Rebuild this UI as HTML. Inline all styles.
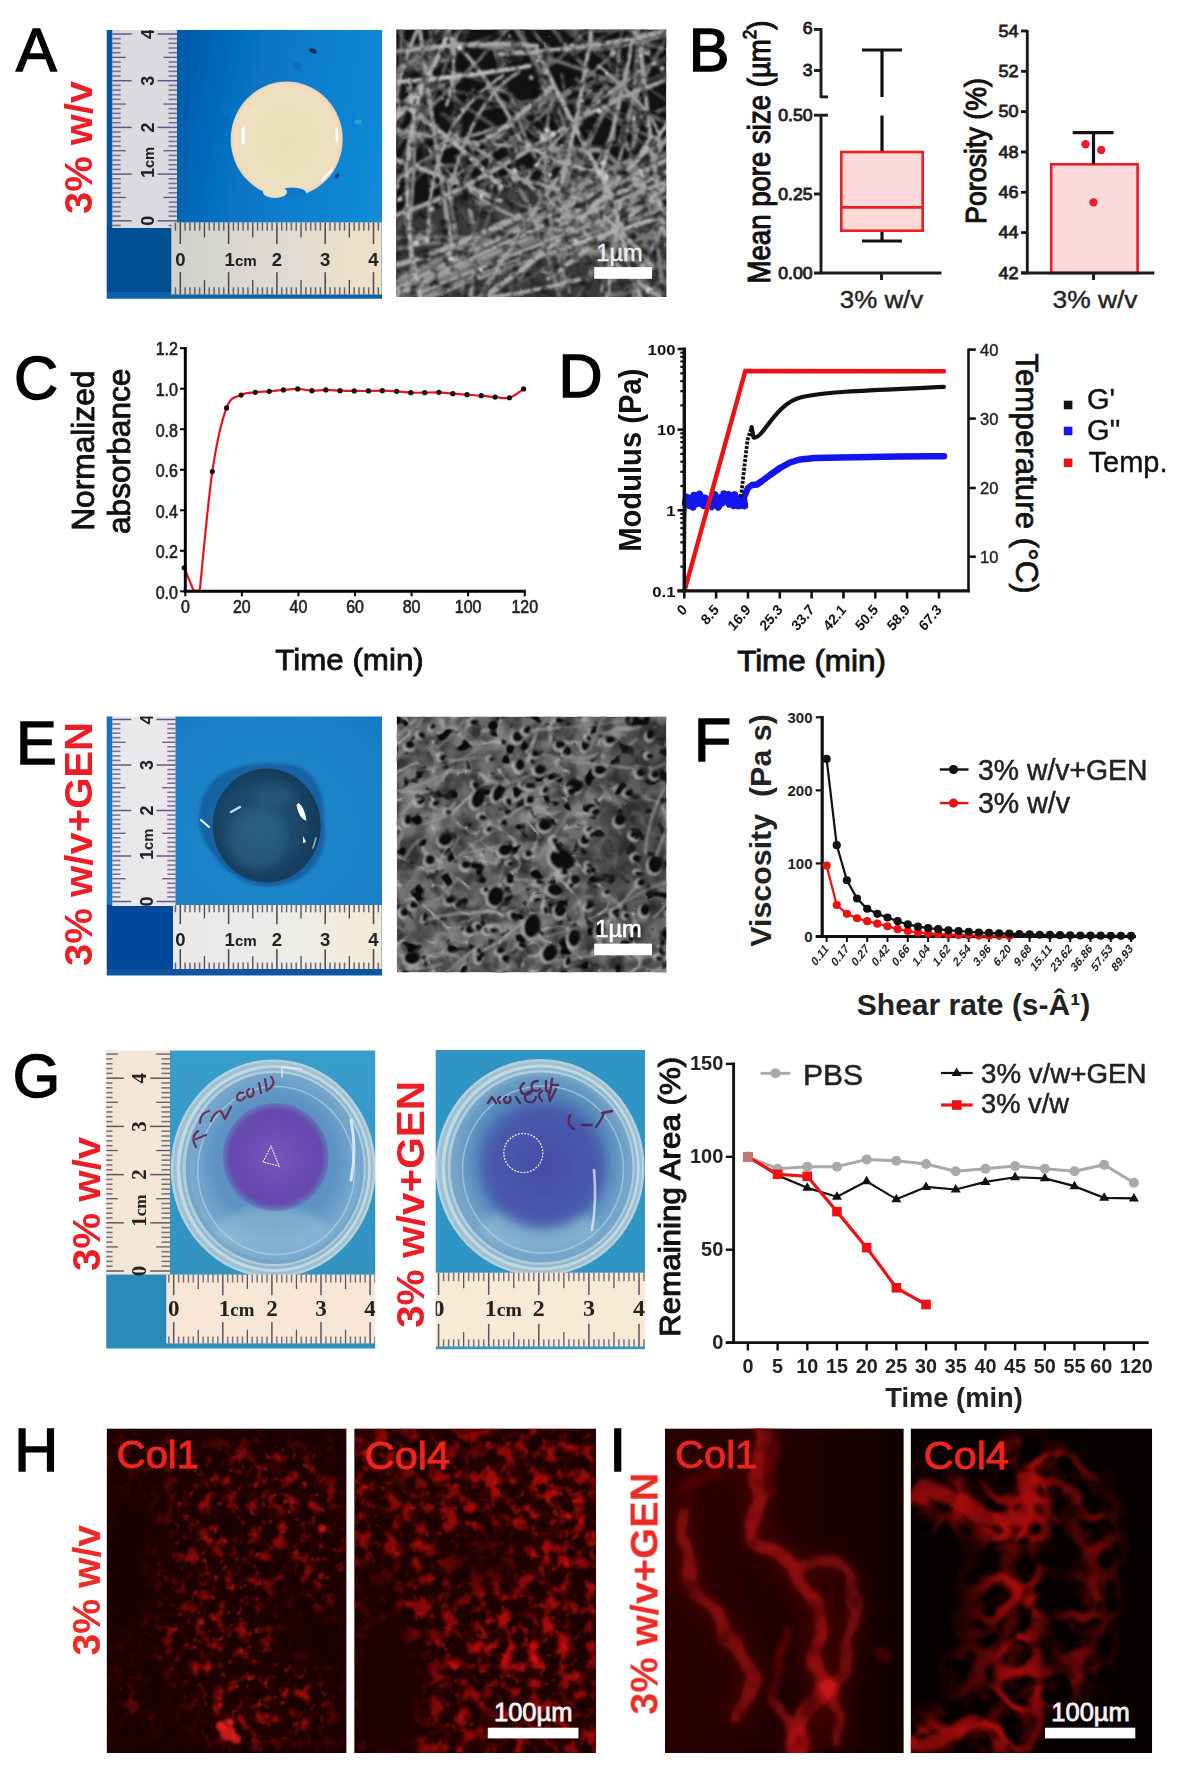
<!DOCTYPE html>
<html><head><meta charset="utf-8"><title>Figure</title>
<style>
html,body{margin:0;padding:0;background:#fff;}
body{width:1181px;height:1769px;overflow:hidden;}
svg{display:block;font-family:"Liberation Sans",sans-serif;}
</style></head><body>
<svg width="1181" height="1769" viewBox="0 0 1181 1769">
<defs>
<clipPath id="cpA"><rect x="106.7" y="30" width="275.3" height="268.7"/></clipPath>
<linearGradient id="gA" x1="0.22" y1="0.3" x2="1" y2="0.45"><stop offset="0" stop-color="#045aa8"/><stop offset="0.3" stop-color="#0670c0"/><stop offset="0.65" stop-color="#0a80d0"/><stop offset="1" stop-color="#128ad6"/></linearGradient>
<radialGradient id="gGel" cx="0.5" cy="0.5" r="0.5"><stop offset="0" stop-color="#e6dfb6"/><stop offset="0.75" stop-color="#ece2bf"/><stop offset="0.94" stop-color="#f2dcc0"/><stop offset="1" stop-color="#e9d3b3"/></radialGradient>
<linearGradient id="gRulA" x1="0" x2="1" y1="0" y2="0"><stop offset="0" stop-color="#d2d0cb"/><stop offset="0.5" stop-color="#dedbd4"/><stop offset="1" stop-color="#efe0c4"/></linearGradient>
<filter id="b1" x="-10%" y="-10%" width="120%" height="120%"><feGaussianBlur stdDeviation="0.7"/></filter>
<filter id="b2" x="-10%" y="-10%" width="120%" height="120%"><feGaussianBlur stdDeviation="1.6"/></filter>
<filter id="b4" x="-20%" y="-20%" width="140%" height="140%"><feGaussianBlur stdDeviation="4"/></filter>
<clipPath id="cpE"><rect x="106.7" y="716.4" width="275.3" height="259.1"/></clipPath>
<radialGradient id="gE" cx="0.6" cy="0.45" r="0.8"><stop offset="0" stop-color="#2089cc"/><stop offset="0.6" stop-color="#1a7fc6"/><stop offset="1" stop-color="#126db6"/></radialGradient>
<radialGradient id="gBlob" cx="0.45" cy="0.5" r="0.55"><stop offset="0" stop-color="#235578"/><stop offset="0.65" stop-color="#1b4668"/><stop offset="1" stop-color="#153a58"/></radialGradient>
<linearGradient id="gRulE" x1="0" x2="1" y1="0" y2="0"><stop offset="0" stop-color="#e9e8ea"/><stop offset="0.6" stop-color="#eeece8"/><stop offset="1" stop-color="#f4ead6"/></linearGradient>
<clipPath id="cpSA"><rect x="396.2" y="29.5" width="270.1" height="267.5"/></clipPath>
<filter id="bS" x="-5%" y="-5%" width="110%" height="110%"><feGaussianBlur stdDeviation="1.1"/></filter>
<filter id="grA" x="0" y="0" width="100%" height="100%" color-interpolation-filters="sRGB"><feTurbulence type="turbulence" baseFrequency="0.022" numOctaves="2" seed="6"/><feColorMatrix type="matrix" values="0 0 0 0 0.62  0 0 0 0 0.62  0 0 0 0 0.62  -5 0 0 0 0.8"/><feGaussianBlur stdDeviation="0.6"/></filter>
<filter id="grA2" x="0" y="0" width="100%" height="100%" color-interpolation-filters="sRGB"><feTurbulence type="fractalNoise" baseFrequency="0.1" numOctaves="2" seed="3"/><feColorMatrix type="matrix" values="0 0 0 0 0.05  0 0 0 0 0.05  0 0 0 0 0.05  2.0 0 0 0 -0.92"/></filter>
<clipPath id="cpSE"><rect x="396.9" y="716.7" width="269.4" height="255.6"/></clipPath>
<filter id="nzE" x="0" y="0" width="100%" height="100%" color-interpolation-filters="sRGB"><feTurbulence type="fractalNoise" baseFrequency="0.05 0.04" numOctaves="3" seed="5"/><feColorMatrix type="matrix" values="0 0 0 0 0.43  0 0 0 0 0.43  0 0 0 0 0.43  2.6 0 0 0 -0.78"/></filter>
<filter id="nzE2" x="0" y="0" width="100%" height="100%" color-interpolation-filters="sRGB"><feTurbulence type="fractalNoise" baseFrequency="0.035 0.05" numOctaves="2" seed="23"/><feColorMatrix type="matrix" values="0 0 0 0 0.70  0 0 0 0 0.70  0 0 0 0 0.70  0 2.6 0 0 -1.2"/></filter>
<filter id="nzE3" x="0" y="0" width="100%" height="100%" color-interpolation-filters="sRGB"><feTurbulence type="turbulence" baseFrequency="0.03 0.035" numOctaves="2" seed="41"/><feColorMatrix type="matrix" values="0 0 0 0 0.7  0 0 0 0 0.7  0 0 0 0 0.7  -4.5 0 0 0 0.72"/><feGaussianBlur stdDeviation="0.7"/></filter>
<filter id="nzE4" x="0" y="0" width="100%" height="100%" color-interpolation-filters="sRGB"><feTurbulence type="fractalNoise" baseFrequency="0.07" numOctaves="2" seed="77"/><feColorMatrix type="matrix" values="0 0 0 0 0.04  0 0 0 0 0.04  0 0 0 0 0.04  7 0 0 0 -4.1"/><feGaussianBlur stdDeviation="0.6"/></filter>
<clipPath id="cpG1"><rect x="106.2" y="1050.5" width="269" height="298"/></clipPath>
<linearGradient id="gG1" x1="0" x2="0" y1="0" y2="1"><stop offset="0" stop-color="#3a9dcb"/><stop offset="1" stop-color="#2d8fbd"/></linearGradient>
<radialGradient id="gDa" cx="0.5" cy="0.46" r="0.5"><stop offset="0" stop-color="#5c93c3"/><stop offset="0.7" stop-color="#5c93c3"/><stop offset="1" stop-color="#7aabd0"/></radialGradient>
<radialGradient id="gPa" cx="0.5" cy="0.5" r="0.5"><stop offset="0" stop-color="#7556b8"/><stop offset="0.86" stop-color="#6648ae"/><stop offset="1" stop-color="#6648ae" stop-opacity="0.35"/></radialGradient>
<clipPath id="cpG2"><rect x="435.7" y="1050" width="209.3" height="299.2"/></clipPath>
<radialGradient id="gDb" cx="0.5" cy="0.46" r="0.5"><stop offset="0" stop-color="#4f82b8"/><stop offset="0.7" stop-color="#4f82b8"/><stop offset="1" stop-color="#74a6ca"/></radialGradient>
<radialGradient id="gPb" cx="0.5" cy="0.5" r="0.5"><stop offset="0" stop-color="#444ca6"/><stop offset="0.86" stop-color="#4a5aac"/><stop offset="1" stop-color="#4a5aac" stop-opacity="0.35"/></radialGradient>
<filter id="b6" x="-30%" y="-30%" width="160%" height="160%"><feGaussianBlur stdDeviation="6"/></filter>
<filter id="b10" x="-40%" y="-40%" width="180%" height="180%"><feGaussianBlur stdDeviation="11"/></filter>
<filter id="b3" x="-30%" y="-30%" width="160%" height="160%"><feGaussianBlur stdDeviation="3"/></filter>
<clipPath id="cpH1"><rect x="106.6" y="1428.4" width="240" height="324.6"/></clipPath>
<filter id="flH1" x="0" y="0" width="100%" height="100%" color-interpolation-filters="sRGB"><feTurbulence type="fractalNoise" baseFrequency="0.08" numOctaves="3" seed="4"/><feColorMatrix type="matrix" values="0 0 0 0 0.58  0 0 0 0 0.04  0 0 0 0 0.04  5 0 0 0 -2.68"/><feGaussianBlur stdDeviation="0.9"/></filter>
<filter id="flH1v" x="0" y="0" width="100%" height="100%" color-interpolation-filters="sRGB"><feTurbulence type="turbulence" baseFrequency="0.035" numOctaves="2" seed="12"/><feColorMatrix type="matrix" values="0 0 0 0 0.55  0 0 0 0 0.03  0 0 0 0 0.03  -3.6 0 0 0 0.56"/><feGaussianBlur stdDeviation="0.8"/></filter>
<filter id="flH1b" x="0" y="0" width="100%" height="100%" color-interpolation-filters="sRGB"><feTurbulence type="fractalNoise" baseFrequency="0.11" numOctaves="2" seed="9"/><feColorMatrix type="matrix" values="0 0 0 0 1  0 0 0 0 0.14  0 0 0 0 0.12  0 5 0 0 -3.1"/><feGaussianBlur stdDeviation="0.7"/></filter>
<mask id="mH1" maskUnits="userSpaceOnUse" x="106.6" y="1428.4" width="240" height="324.6"><rect x="106.6" y="1428.4" width="240" height="324.6" fill="#2c2c2c"/><g filter="url(#b10)"><ellipse cx="255" cy="1500" rx="85" ry="55" fill="#fff"/><ellipse cx="225" cy="1560" rx="60" ry="50" fill="#ddd"/><ellipse cx="215" cy="1640" rx="55" ry="45" fill="#eee"/><ellipse cx="265" cy="1705" rx="65" ry="40" fill="#fff"/><ellipse cx="320" cy="1560" rx="25" ry="50" fill="#ddd"/><ellipse cx="140" cy="1700" rx="28" ry="14" fill="#999"/><ellipse cx="150" cy="1460" rx="40" ry="25" fill="#777"/><ellipse cx="128" cy="1565" rx="30" ry="70" fill="#000"/><ellipse cx="318" cy="1640" rx="35" ry="40" fill="#0a0a0a"/><ellipse cx="150" cy="1748" rx="50" ry="18" fill="#000"/></g></mask>
<clipPath id="cpH2"><rect x="354.2" y="1428.4" width="241.8" height="324.6"/></clipPath>
<filter id="flH2" x="0" y="0" width="100%" height="100%" color-interpolation-filters="sRGB"><feTurbulence type="fractalNoise" baseFrequency="0.07" numOctaves="3" seed="14"/><feColorMatrix type="matrix" values="0 0 0 0 0.69  0 0 0 0 0.04  0 0 0 0 0.04  5 0 0 0 -2.48"/><feGaussianBlur stdDeviation="0.9"/></filter>
<filter id="flH2v" x="0" y="0" width="100%" height="100%" color-interpolation-filters="sRGB"><feTurbulence type="turbulence" baseFrequency="0.03" numOctaves="2" seed="33"/><feColorMatrix type="matrix" values="0 0 0 0 0.68  0 0 0 0 0.04  0 0 0 0 0.04  -3.6 0 0 0 0.66"/><feGaussianBlur stdDeviation="0.8"/></filter>
<filter id="flH2b" x="0" y="0" width="100%" height="100%" color-interpolation-filters="sRGB"><feTurbulence type="fractalNoise" baseFrequency="0.1" numOctaves="2" seed="31"/><feColorMatrix type="matrix" values="0 0 0 0 1  0 0 0 0 0.12  0 0 0 0 0.1  0 5 0 0 -3"/><feGaussianBlur stdDeviation="0.7"/></filter>
<mask id="mH2" maskUnits="userSpaceOnUse" x="354.2" y="1428.4" width="241.8" height="324.6"><rect x="354.2" y="1428.4" width="241.8" height="324.6" fill="#c4c4c4"/><g filter="url(#b10)"><ellipse cx="385" cy="1690" rx="40" ry="75" fill="#000"/><ellipse cx="375" cy="1590" rx="25" ry="30" fill="#222"/><ellipse cx="480" cy="1560" rx="40" ry="25" fill="#3a3a3a"/><ellipse cx="430" cy="1465" rx="30" ry="20" fill="#555"/><ellipse cx="560" cy="1520" rx="40" ry="45" fill="#fff"/><ellipse cx="520" cy="1645" rx="55" ry="40" fill="#fff"/><ellipse cx="470" cy="1490" rx="40" ry="25" fill="#eee"/></g></mask>
<clipPath id="cpI1"><rect x="664.9" y="1428.4" width="238.9" height="324.6"/></clipPath>
<linearGradient id="gI1" x1="0" x2="1" y1="0" y2="0"><stop offset="0" stop-color="#2a0000"/><stop offset="0.6" stop-color="#1e0000"/><stop offset="1" stop-color="#100000"/></linearGradient>
<filter id="dispI1" x="-10%" y="-10%" width="120%" height="120%"><feTurbulence type="fractalNoise" baseFrequency="0.035" numOctaves="2" seed="5" result="n"/><feDisplacementMap in="SourceGraphic" in2="n" scale="14" xChannelSelector="R" yChannelSelector="G"/><feGaussianBlur stdDeviation="2.6"/></filter>
<filter id="modI1" x="0" y="0" width="100%" height="100%" color-interpolation-filters="sRGB"><feTurbulence type="fractalNoise" baseFrequency="0.045" numOctaves="2" seed="17"/><feColorMatrix type="matrix" values="0 0 0 0 1  0 0 0 0 1  0 0 0 0 1  3.2 0 0 0 -0.75"/></filter>
<mask id="mI1" maskUnits="userSpaceOnUse" x="664.9" y="1428.4" width="238.9" height="324.6"><rect x="664.9" y="1428.4" width="238.9" height="324.6" fill="#7a7a7a"/><rect x="664.9" y="1428.4" width="238.9" height="324.6" filter="url(#modI1)"/></mask>
<clipPath id="cpI2"><rect x="910.6" y="1428.4" width="241.6" height="324.6"/></clipPath>
<filter id="flI2" x="0" y="0" width="100%" height="100%" color-interpolation-filters="sRGB"><feTurbulence type="turbulence" baseFrequency="0.026" numOctaves="2" seed="11"/><feColorMatrix type="matrix" values="0 0 0 0 0.64  0 0 0 0 0.04  0 0 0 0 0.04  -5 0 0 0 1.5"/><feGaussianBlur stdDeviation="1.3"/></filter>
<filter id="flI2n" x="0" y="0" width="100%" height="100%" color-interpolation-filters="sRGB"><feTurbulence type="fractalNoise" baseFrequency="0.05" numOctaves="3" seed="19"/><feColorMatrix type="matrix" values="0 0 0 0 0.6  0 0 0 0 0.03  0 0 0 0 0.03  3 0 0 0 -1.3"/><feGaussianBlur stdDeviation="1"/></filter>
<mask id="mI2" maskUnits="userSpaceOnUse" x="910.6" y="1428.4" width="241.6" height="324.6"><rect x="910.6" y="1428.4" width="241.6" height="324.6" fill="#000"/><g filter="url(#b10)"><path d="M915 1495 L960 1500 L1000 1520 L1030 1515 L1035 1480 L1020 1460" stroke="#fff" stroke-width="42" fill="none" stroke-linecap="round" stroke-linejoin="round"/><path d="M1025 1520 L1010 1560 L1020 1600 L1010 1640 L1025 1690 L1010 1735" stroke="#fff" stroke-width="52" fill="none" stroke-linecap="round" stroke-linejoin="round"/><path d="M1050 1450 L1080 1480 L1090 1530 L1100 1570 L1080 1620 L1075 1680" stroke="#bbb" stroke-width="34" fill="none" stroke-linecap="round" stroke-linejoin="round"/><path d="M915 1745 L960 1730 L990 1720" stroke="#fff" stroke-width="40" fill="none" stroke-linecap="round" stroke-linejoin="round"/><ellipse cx="975" cy="1640" rx="30" ry="60" fill="#777"/><ellipse cx="940" cy="1610" rx="32" ry="62" fill="#000"/><ellipse cx="1125" cy="1600" rx="22" ry="120" fill="#000"/></g></mask>
</defs>
<rect x="0" y="0" width="1181" height="1769" fill="#ffffff"/>
<g clip-path="url(#cpA)"><g filter="url(#b1)">
<rect x="103.7" y="27" width="281.3" height="274.7" fill="url(#gA)" />
<rect x="103.7" y="226" width="70" height="80" fill="#064f92" />
<rect x="103.7" y="292" width="281.3" height="10" fill="#0860aa" />
<rect x="112.3" y="27" width="64.7" height="201" fill="#dddadf" />
<line x1="112.3" y1="225.47" x2="120.71" y2="225.47" stroke="#54467a" stroke-width="1.6" opacity="0.72"/>
<line x1="168.59" y1="225.47" x2="177" y2="225.47" stroke="#54467a" stroke-width="1.6" opacity="0.72"/>
<line x1="112.3" y1="220.8" x2="131.71" y2="220.8" stroke="#54467a" stroke-width="1.5" opacity="0.9"/>
<line x1="157.59" y1="220.8" x2="177" y2="220.8" stroke="#54467a" stroke-width="1.5" opacity="0.9"/>
<line x1="112.3" y1="216.13" x2="120.71" y2="216.13" stroke="#54467a" stroke-width="1.6" opacity="0.72"/>
<line x1="168.59" y1="216.13" x2="177" y2="216.13" stroke="#54467a" stroke-width="1.6" opacity="0.72"/>
<line x1="112.3" y1="211.46" x2="120.71" y2="211.46" stroke="#54467a" stroke-width="1.6" opacity="0.72"/>
<line x1="168.59" y1="211.46" x2="177" y2="211.46" stroke="#54467a" stroke-width="1.6" opacity="0.72"/>
<line x1="112.3" y1="206.79" x2="120.71" y2="206.79" stroke="#54467a" stroke-width="1.6" opacity="0.72"/>
<line x1="168.59" y1="206.79" x2="177" y2="206.79" stroke="#54467a" stroke-width="1.6" opacity="0.72"/>
<line x1="112.3" y1="202.12" x2="120.71" y2="202.12" stroke="#54467a" stroke-width="1.6" opacity="0.72"/>
<line x1="168.59" y1="202.12" x2="177" y2="202.12" stroke="#54467a" stroke-width="1.6" opacity="0.72"/>
<line x1="112.3" y1="197.45" x2="125.89" y2="197.45" stroke="#54467a" stroke-width="1.3" opacity="0.9"/>
<line x1="163.41" y1="197.45" x2="177" y2="197.45" stroke="#54467a" stroke-width="1.3" opacity="0.9"/>
<line x1="112.3" y1="192.78" x2="120.71" y2="192.78" stroke="#54467a" stroke-width="1.6" opacity="0.72"/>
<line x1="168.59" y1="192.78" x2="177" y2="192.78" stroke="#54467a" stroke-width="1.6" opacity="0.72"/>
<line x1="112.3" y1="188.11" x2="120.71" y2="188.11" stroke="#54467a" stroke-width="1.6" opacity="0.72"/>
<line x1="168.59" y1="188.11" x2="177" y2="188.11" stroke="#54467a" stroke-width="1.6" opacity="0.72"/>
<line x1="112.3" y1="183.44" x2="120.71" y2="183.44" stroke="#54467a" stroke-width="1.6" opacity="0.72"/>
<line x1="168.59" y1="183.44" x2="177" y2="183.44" stroke="#54467a" stroke-width="1.6" opacity="0.72"/>
<line x1="112.3" y1="178.77" x2="120.71" y2="178.77" stroke="#54467a" stroke-width="1.6" opacity="0.72"/>
<line x1="168.59" y1="178.77" x2="177" y2="178.77" stroke="#54467a" stroke-width="1.6" opacity="0.72"/>
<line x1="112.3" y1="174.1" x2="131.71" y2="174.1" stroke="#54467a" stroke-width="1.5" opacity="0.9"/>
<line x1="157.59" y1="174.1" x2="177" y2="174.1" stroke="#54467a" stroke-width="1.5" opacity="0.9"/>
<line x1="112.3" y1="169.43" x2="120.71" y2="169.43" stroke="#54467a" stroke-width="1.6" opacity="0.72"/>
<line x1="168.59" y1="169.43" x2="177" y2="169.43" stroke="#54467a" stroke-width="1.6" opacity="0.72"/>
<line x1="112.3" y1="164.76" x2="120.71" y2="164.76" stroke="#54467a" stroke-width="1.6" opacity="0.72"/>
<line x1="168.59" y1="164.76" x2="177" y2="164.76" stroke="#54467a" stroke-width="1.6" opacity="0.72"/>
<line x1="112.3" y1="160.09" x2="120.71" y2="160.09" stroke="#54467a" stroke-width="1.6" opacity="0.72"/>
<line x1="168.59" y1="160.09" x2="177" y2="160.09" stroke="#54467a" stroke-width="1.6" opacity="0.72"/>
<line x1="112.3" y1="155.42" x2="120.71" y2="155.42" stroke="#54467a" stroke-width="1.6" opacity="0.72"/>
<line x1="168.59" y1="155.42" x2="177" y2="155.42" stroke="#54467a" stroke-width="1.6" opacity="0.72"/>
<line x1="112.3" y1="150.75" x2="125.89" y2="150.75" stroke="#54467a" stroke-width="1.3" opacity="0.9"/>
<line x1="163.41" y1="150.75" x2="177" y2="150.75" stroke="#54467a" stroke-width="1.3" opacity="0.9"/>
<line x1="112.3" y1="146.08" x2="120.71" y2="146.08" stroke="#54467a" stroke-width="1.6" opacity="0.72"/>
<line x1="168.59" y1="146.08" x2="177" y2="146.08" stroke="#54467a" stroke-width="1.6" opacity="0.72"/>
<line x1="112.3" y1="141.41" x2="120.71" y2="141.41" stroke="#54467a" stroke-width="1.6" opacity="0.72"/>
<line x1="168.59" y1="141.41" x2="177" y2="141.41" stroke="#54467a" stroke-width="1.6" opacity="0.72"/>
<line x1="112.3" y1="136.74" x2="120.71" y2="136.74" stroke="#54467a" stroke-width="1.6" opacity="0.72"/>
<line x1="168.59" y1="136.74" x2="177" y2="136.74" stroke="#54467a" stroke-width="1.6" opacity="0.72"/>
<line x1="112.3" y1="132.07" x2="120.71" y2="132.07" stroke="#54467a" stroke-width="1.6" opacity="0.72"/>
<line x1="168.59" y1="132.07" x2="177" y2="132.07" stroke="#54467a" stroke-width="1.6" opacity="0.72"/>
<line x1="112.3" y1="127.4" x2="131.71" y2="127.4" stroke="#54467a" stroke-width="1.5" opacity="0.9"/>
<line x1="157.59" y1="127.4" x2="177" y2="127.4" stroke="#54467a" stroke-width="1.5" opacity="0.9"/>
<line x1="112.3" y1="122.73" x2="120.71" y2="122.73" stroke="#54467a" stroke-width="1.6" opacity="0.72"/>
<line x1="168.59" y1="122.73" x2="177" y2="122.73" stroke="#54467a" stroke-width="1.6" opacity="0.72"/>
<line x1="112.3" y1="118.06" x2="120.71" y2="118.06" stroke="#54467a" stroke-width="1.6" opacity="0.72"/>
<line x1="168.59" y1="118.06" x2="177" y2="118.06" stroke="#54467a" stroke-width="1.6" opacity="0.72"/>
<line x1="112.3" y1="113.39" x2="120.71" y2="113.39" stroke="#54467a" stroke-width="1.6" opacity="0.72"/>
<line x1="168.59" y1="113.39" x2="177" y2="113.39" stroke="#54467a" stroke-width="1.6" opacity="0.72"/>
<line x1="112.3" y1="108.72" x2="120.71" y2="108.72" stroke="#54467a" stroke-width="1.6" opacity="0.72"/>
<line x1="168.59" y1="108.72" x2="177" y2="108.72" stroke="#54467a" stroke-width="1.6" opacity="0.72"/>
<line x1="112.3" y1="104.05" x2="125.89" y2="104.05" stroke="#54467a" stroke-width="1.3" opacity="0.9"/>
<line x1="163.41" y1="104.05" x2="177" y2="104.05" stroke="#54467a" stroke-width="1.3" opacity="0.9"/>
<line x1="112.3" y1="99.38" x2="120.71" y2="99.38" stroke="#54467a" stroke-width="1.6" opacity="0.72"/>
<line x1="168.59" y1="99.38" x2="177" y2="99.38" stroke="#54467a" stroke-width="1.6" opacity="0.72"/>
<line x1="112.3" y1="94.71" x2="120.71" y2="94.71" stroke="#54467a" stroke-width="1.6" opacity="0.72"/>
<line x1="168.59" y1="94.71" x2="177" y2="94.71" stroke="#54467a" stroke-width="1.6" opacity="0.72"/>
<line x1="112.3" y1="90.04" x2="120.71" y2="90.04" stroke="#54467a" stroke-width="1.6" opacity="0.72"/>
<line x1="168.59" y1="90.04" x2="177" y2="90.04" stroke="#54467a" stroke-width="1.6" opacity="0.72"/>
<line x1="112.3" y1="85.37" x2="120.71" y2="85.37" stroke="#54467a" stroke-width="1.6" opacity="0.72"/>
<line x1="168.59" y1="85.37" x2="177" y2="85.37" stroke="#54467a" stroke-width="1.6" opacity="0.72"/>
<line x1="112.3" y1="80.7" x2="131.71" y2="80.7" stroke="#54467a" stroke-width="1.5" opacity="0.9"/>
<line x1="157.59" y1="80.7" x2="177" y2="80.7" stroke="#54467a" stroke-width="1.5" opacity="0.9"/>
<line x1="112.3" y1="76.03" x2="120.71" y2="76.03" stroke="#54467a" stroke-width="1.6" opacity="0.72"/>
<line x1="168.59" y1="76.03" x2="177" y2="76.03" stroke="#54467a" stroke-width="1.6" opacity="0.72"/>
<line x1="112.3" y1="71.36" x2="120.71" y2="71.36" stroke="#54467a" stroke-width="1.6" opacity="0.72"/>
<line x1="168.59" y1="71.36" x2="177" y2="71.36" stroke="#54467a" stroke-width="1.6" opacity="0.72"/>
<line x1="112.3" y1="66.69" x2="120.71" y2="66.69" stroke="#54467a" stroke-width="1.6" opacity="0.72"/>
<line x1="168.59" y1="66.69" x2="177" y2="66.69" stroke="#54467a" stroke-width="1.6" opacity="0.72"/>
<line x1="112.3" y1="62.02" x2="120.71" y2="62.02" stroke="#54467a" stroke-width="1.6" opacity="0.72"/>
<line x1="168.59" y1="62.02" x2="177" y2="62.02" stroke="#54467a" stroke-width="1.6" opacity="0.72"/>
<line x1="112.3" y1="57.35" x2="125.89" y2="57.35" stroke="#54467a" stroke-width="1.3" opacity="0.9"/>
<line x1="163.41" y1="57.35" x2="177" y2="57.35" stroke="#54467a" stroke-width="1.3" opacity="0.9"/>
<line x1="112.3" y1="52.68" x2="120.71" y2="52.68" stroke="#54467a" stroke-width="1.6" opacity="0.72"/>
<line x1="168.59" y1="52.68" x2="177" y2="52.68" stroke="#54467a" stroke-width="1.6" opacity="0.72"/>
<line x1="112.3" y1="48.01" x2="120.71" y2="48.01" stroke="#54467a" stroke-width="1.6" opacity="0.72"/>
<line x1="168.59" y1="48.01" x2="177" y2="48.01" stroke="#54467a" stroke-width="1.6" opacity="0.72"/>
<line x1="112.3" y1="43.34" x2="120.71" y2="43.34" stroke="#54467a" stroke-width="1.6" opacity="0.72"/>
<line x1="168.59" y1="43.34" x2="177" y2="43.34" stroke="#54467a" stroke-width="1.6" opacity="0.72"/>
<line x1="112.3" y1="38.67" x2="120.71" y2="38.67" stroke="#54467a" stroke-width="1.6" opacity="0.72"/>
<line x1="168.59" y1="38.67" x2="177" y2="38.67" stroke="#54467a" stroke-width="1.6" opacity="0.72"/>
<line x1="112.3" y1="34" x2="131.71" y2="34" stroke="#54467a" stroke-width="1.5" opacity="0.9"/>
<line x1="157.59" y1="34" x2="177" y2="34" stroke="#54467a" stroke-width="1.5" opacity="0.9"/>
<line x1="112.3" y1="29.33" x2="120.71" y2="29.33" stroke="#54467a" stroke-width="1.6" opacity="0.72"/>
<line x1="168.59" y1="29.33" x2="177" y2="29.33" stroke="#54467a" stroke-width="1.6" opacity="0.72"/>
<text x="153.53" y="220.8" font-size="18" text-anchor="middle" font-weight="bold" fill="#202020" transform="rotate(-90 153.53 220.8)" >0</text>
<text x="153.53" y="178.1" font-size="18" text-anchor="start" font-weight="bold" fill="#202020" transform="rotate(-90 153.53 178.1)" >1<tspan font-size="14.76">cm</tspan></text>
<text x="153.53" y="127.4" font-size="18" text-anchor="middle" font-weight="bold" fill="#202020" transform="rotate(-90 153.53 127.4)" >2</text>
<text x="153.53" y="80.7" font-size="18" text-anchor="middle" font-weight="bold" fill="#202020" transform="rotate(-90 153.53 80.7)" >3</text>
<text x="153.53" y="34" font-size="18" text-anchor="middle" font-weight="bold" fill="#202020" transform="rotate(-90 153.53 34)" >4</text>
<rect x="171.3" y="222.4" width="210.3" height="72.1" fill="url(#gRulA)" />
<line x1="175.47" y1="222.4" x2="175.47" y2="230.69" stroke="#3a3444" stroke-width="1.5" opacity="0.72"/>
<line x1="175.47" y1="287.29" x2="175.47" y2="294.5" stroke="#3a3444" stroke-width="1.5" opacity="0.72"/>
<line x1="180.3" y1="222.4" x2="180.3" y2="244.03" stroke="#3a3444" stroke-width="1.5" opacity="0.9"/>
<line x1="180.3" y1="272.15" x2="180.3" y2="294.5" stroke="#3a3444" stroke-width="1.5" opacity="0.9"/>
<line x1="185.13" y1="222.4" x2="185.13" y2="230.69" stroke="#3a3444" stroke-width="1.5" opacity="0.72"/>
<line x1="185.13" y1="287.29" x2="185.13" y2="294.5" stroke="#3a3444" stroke-width="1.5" opacity="0.72"/>
<line x1="189.96" y1="222.4" x2="189.96" y2="230.69" stroke="#3a3444" stroke-width="1.5" opacity="0.72"/>
<line x1="189.96" y1="287.29" x2="189.96" y2="294.5" stroke="#3a3444" stroke-width="1.5" opacity="0.72"/>
<line x1="194.79" y1="222.4" x2="194.79" y2="230.69" stroke="#3a3444" stroke-width="1.5" opacity="0.72"/>
<line x1="194.79" y1="287.29" x2="194.79" y2="294.5" stroke="#3a3444" stroke-width="1.5" opacity="0.72"/>
<line x1="199.62" y1="222.4" x2="199.62" y2="230.69" stroke="#3a3444" stroke-width="1.5" opacity="0.72"/>
<line x1="199.62" y1="287.29" x2="199.62" y2="294.5" stroke="#3a3444" stroke-width="1.5" opacity="0.72"/>
<line x1="204.45" y1="222.4" x2="204.45" y2="237.54" stroke="#3a3444" stroke-width="1.3" opacity="0.9"/>
<line x1="204.45" y1="280.08" x2="204.45" y2="294.5" stroke="#3a3444" stroke-width="1.3" opacity="0.9"/>
<line x1="209.28" y1="222.4" x2="209.28" y2="230.69" stroke="#3a3444" stroke-width="1.5" opacity="0.72"/>
<line x1="209.28" y1="287.29" x2="209.28" y2="294.5" stroke="#3a3444" stroke-width="1.5" opacity="0.72"/>
<line x1="214.11" y1="222.4" x2="214.11" y2="230.69" stroke="#3a3444" stroke-width="1.5" opacity="0.72"/>
<line x1="214.11" y1="287.29" x2="214.11" y2="294.5" stroke="#3a3444" stroke-width="1.5" opacity="0.72"/>
<line x1="218.94" y1="222.4" x2="218.94" y2="230.69" stroke="#3a3444" stroke-width="1.5" opacity="0.72"/>
<line x1="218.94" y1="287.29" x2="218.94" y2="294.5" stroke="#3a3444" stroke-width="1.5" opacity="0.72"/>
<line x1="223.77" y1="222.4" x2="223.77" y2="230.69" stroke="#3a3444" stroke-width="1.5" opacity="0.72"/>
<line x1="223.77" y1="287.29" x2="223.77" y2="294.5" stroke="#3a3444" stroke-width="1.5" opacity="0.72"/>
<line x1="228.6" y1="222.4" x2="228.6" y2="244.03" stroke="#3a3444" stroke-width="1.5" opacity="0.9"/>
<line x1="228.6" y1="272.15" x2="228.6" y2="294.5" stroke="#3a3444" stroke-width="1.5" opacity="0.9"/>
<line x1="233.43" y1="222.4" x2="233.43" y2="230.69" stroke="#3a3444" stroke-width="1.5" opacity="0.72"/>
<line x1="233.43" y1="287.29" x2="233.43" y2="294.5" stroke="#3a3444" stroke-width="1.5" opacity="0.72"/>
<line x1="238.26" y1="222.4" x2="238.26" y2="230.69" stroke="#3a3444" stroke-width="1.5" opacity="0.72"/>
<line x1="238.26" y1="287.29" x2="238.26" y2="294.5" stroke="#3a3444" stroke-width="1.5" opacity="0.72"/>
<line x1="243.09" y1="222.4" x2="243.09" y2="230.69" stroke="#3a3444" stroke-width="1.5" opacity="0.72"/>
<line x1="243.09" y1="287.29" x2="243.09" y2="294.5" stroke="#3a3444" stroke-width="1.5" opacity="0.72"/>
<line x1="247.92" y1="222.4" x2="247.92" y2="230.69" stroke="#3a3444" stroke-width="1.5" opacity="0.72"/>
<line x1="247.92" y1="287.29" x2="247.92" y2="294.5" stroke="#3a3444" stroke-width="1.5" opacity="0.72"/>
<line x1="252.75" y1="222.4" x2="252.75" y2="237.54" stroke="#3a3444" stroke-width="1.3" opacity="0.9"/>
<line x1="252.75" y1="280.08" x2="252.75" y2="294.5" stroke="#3a3444" stroke-width="1.3" opacity="0.9"/>
<line x1="257.58" y1="222.4" x2="257.58" y2="230.69" stroke="#3a3444" stroke-width="1.5" opacity="0.72"/>
<line x1="257.58" y1="287.29" x2="257.58" y2="294.5" stroke="#3a3444" stroke-width="1.5" opacity="0.72"/>
<line x1="262.41" y1="222.4" x2="262.41" y2="230.69" stroke="#3a3444" stroke-width="1.5" opacity="0.72"/>
<line x1="262.41" y1="287.29" x2="262.41" y2="294.5" stroke="#3a3444" stroke-width="1.5" opacity="0.72"/>
<line x1="267.24" y1="222.4" x2="267.24" y2="230.69" stroke="#3a3444" stroke-width="1.5" opacity="0.72"/>
<line x1="267.24" y1="287.29" x2="267.24" y2="294.5" stroke="#3a3444" stroke-width="1.5" opacity="0.72"/>
<line x1="272.07" y1="222.4" x2="272.07" y2="230.69" stroke="#3a3444" stroke-width="1.5" opacity="0.72"/>
<line x1="272.07" y1="287.29" x2="272.07" y2="294.5" stroke="#3a3444" stroke-width="1.5" opacity="0.72"/>
<line x1="276.9" y1="222.4" x2="276.9" y2="244.03" stroke="#3a3444" stroke-width="1.5" opacity="0.9"/>
<line x1="276.9" y1="272.15" x2="276.9" y2="294.5" stroke="#3a3444" stroke-width="1.5" opacity="0.9"/>
<line x1="281.73" y1="222.4" x2="281.73" y2="230.69" stroke="#3a3444" stroke-width="1.5" opacity="0.72"/>
<line x1="281.73" y1="287.29" x2="281.73" y2="294.5" stroke="#3a3444" stroke-width="1.5" opacity="0.72"/>
<line x1="286.56" y1="222.4" x2="286.56" y2="230.69" stroke="#3a3444" stroke-width="1.5" opacity="0.72"/>
<line x1="286.56" y1="287.29" x2="286.56" y2="294.5" stroke="#3a3444" stroke-width="1.5" opacity="0.72"/>
<line x1="291.39" y1="222.4" x2="291.39" y2="230.69" stroke="#3a3444" stroke-width="1.5" opacity="0.72"/>
<line x1="291.39" y1="287.29" x2="291.39" y2="294.5" stroke="#3a3444" stroke-width="1.5" opacity="0.72"/>
<line x1="296.22" y1="222.4" x2="296.22" y2="230.69" stroke="#3a3444" stroke-width="1.5" opacity="0.72"/>
<line x1="296.22" y1="287.29" x2="296.22" y2="294.5" stroke="#3a3444" stroke-width="1.5" opacity="0.72"/>
<line x1="301.05" y1="222.4" x2="301.05" y2="237.54" stroke="#3a3444" stroke-width="1.3" opacity="0.9"/>
<line x1="301.05" y1="280.08" x2="301.05" y2="294.5" stroke="#3a3444" stroke-width="1.3" opacity="0.9"/>
<line x1="305.88" y1="222.4" x2="305.88" y2="230.69" stroke="#3a3444" stroke-width="1.5" opacity="0.72"/>
<line x1="305.88" y1="287.29" x2="305.88" y2="294.5" stroke="#3a3444" stroke-width="1.5" opacity="0.72"/>
<line x1="310.71" y1="222.4" x2="310.71" y2="230.69" stroke="#3a3444" stroke-width="1.5" opacity="0.72"/>
<line x1="310.71" y1="287.29" x2="310.71" y2="294.5" stroke="#3a3444" stroke-width="1.5" opacity="0.72"/>
<line x1="315.54" y1="222.4" x2="315.54" y2="230.69" stroke="#3a3444" stroke-width="1.5" opacity="0.72"/>
<line x1="315.54" y1="287.29" x2="315.54" y2="294.5" stroke="#3a3444" stroke-width="1.5" opacity="0.72"/>
<line x1="320.37" y1="222.4" x2="320.37" y2="230.69" stroke="#3a3444" stroke-width="1.5" opacity="0.72"/>
<line x1="320.37" y1="287.29" x2="320.37" y2="294.5" stroke="#3a3444" stroke-width="1.5" opacity="0.72"/>
<line x1="325.2" y1="222.4" x2="325.2" y2="244.03" stroke="#3a3444" stroke-width="1.5" opacity="0.9"/>
<line x1="325.2" y1="272.15" x2="325.2" y2="294.5" stroke="#3a3444" stroke-width="1.5" opacity="0.9"/>
<line x1="330.03" y1="222.4" x2="330.03" y2="230.69" stroke="#3a3444" stroke-width="1.5" opacity="0.72"/>
<line x1="330.03" y1="287.29" x2="330.03" y2="294.5" stroke="#3a3444" stroke-width="1.5" opacity="0.72"/>
<line x1="334.86" y1="222.4" x2="334.86" y2="230.69" stroke="#3a3444" stroke-width="1.5" opacity="0.72"/>
<line x1="334.86" y1="287.29" x2="334.86" y2="294.5" stroke="#3a3444" stroke-width="1.5" opacity="0.72"/>
<line x1="339.69" y1="222.4" x2="339.69" y2="230.69" stroke="#3a3444" stroke-width="1.5" opacity="0.72"/>
<line x1="339.69" y1="287.29" x2="339.69" y2="294.5" stroke="#3a3444" stroke-width="1.5" opacity="0.72"/>
<line x1="344.52" y1="222.4" x2="344.52" y2="230.69" stroke="#3a3444" stroke-width="1.5" opacity="0.72"/>
<line x1="344.52" y1="287.29" x2="344.52" y2="294.5" stroke="#3a3444" stroke-width="1.5" opacity="0.72"/>
<line x1="349.35" y1="222.4" x2="349.35" y2="237.54" stroke="#3a3444" stroke-width="1.3" opacity="0.9"/>
<line x1="349.35" y1="280.08" x2="349.35" y2="294.5" stroke="#3a3444" stroke-width="1.3" opacity="0.9"/>
<line x1="354.18" y1="222.4" x2="354.18" y2="230.69" stroke="#3a3444" stroke-width="1.5" opacity="0.72"/>
<line x1="354.18" y1="287.29" x2="354.18" y2="294.5" stroke="#3a3444" stroke-width="1.5" opacity="0.72"/>
<line x1="359.01" y1="222.4" x2="359.01" y2="230.69" stroke="#3a3444" stroke-width="1.5" opacity="0.72"/>
<line x1="359.01" y1="287.29" x2="359.01" y2="294.5" stroke="#3a3444" stroke-width="1.5" opacity="0.72"/>
<line x1="363.84" y1="222.4" x2="363.84" y2="230.69" stroke="#3a3444" stroke-width="1.5" opacity="0.72"/>
<line x1="363.84" y1="287.29" x2="363.84" y2="294.5" stroke="#3a3444" stroke-width="1.5" opacity="0.72"/>
<line x1="368.67" y1="222.4" x2="368.67" y2="230.69" stroke="#3a3444" stroke-width="1.5" opacity="0.72"/>
<line x1="368.67" y1="287.29" x2="368.67" y2="294.5" stroke="#3a3444" stroke-width="1.5" opacity="0.72"/>
<line x1="373.5" y1="222.4" x2="373.5" y2="244.03" stroke="#3a3444" stroke-width="1.5" opacity="0.9"/>
<line x1="373.5" y1="272.15" x2="373.5" y2="294.5" stroke="#3a3444" stroke-width="1.5" opacity="0.9"/>
<line x1="378.33" y1="222.4" x2="378.33" y2="230.69" stroke="#3a3444" stroke-width="1.5" opacity="0.72"/>
<line x1="378.33" y1="287.29" x2="378.33" y2="294.5" stroke="#3a3444" stroke-width="1.5" opacity="0.72"/>
<text x="180.3" y="265.5" font-size="18.5" text-anchor="middle" font-weight="bold" fill="#202020" >0</text>
<text x="224.6" y="265.5" font-size="18.5" text-anchor="start" font-weight="bold" fill="#202020" >1<tspan font-size="15.17">cm</tspan></text>
<text x="276.9" y="265.5" font-size="18.5" text-anchor="middle" font-weight="bold" fill="#202020" >2</text>
<text x="325.2" y="265.5" font-size="18.5" text-anchor="middle" font-weight="bold" fill="#202020" >3</text>
<text x="373.5" y="265.5" font-size="18.5" text-anchor="middle" font-weight="bold" fill="#202020" >4</text>
<ellipse cx="286.7" cy="139.3" rx="56" ry="57.7" fill="url(#gGel)"/>
<ellipse cx="292" cy="193" rx="14" ry="5.5" fill="#0a78c8"/>
<ellipse cx="275" cy="192" rx="12" ry="6" fill="#ece0bd"/>
<rect x="241.5" y="127" width="3.4" height="17.5" fill="#ffffff" rx="1.6" opacity="0.95"/>
<rect x="335.5" y="127" width="2.6" height="15" fill="#ffffff" rx="1.3" opacity="0.9"/>
<path d="M322 180 L332 170" fill="none" stroke="#fff" stroke-width="2.4" stroke-linecap="round" opacity="0.9"/>
<ellipse cx="313" cy="51" rx="4" ry="2.2" fill="#0b2c4e" transform="rotate(25 313 51)"/>
<ellipse cx="337" cy="176" rx="3" ry="1.8" fill="#0b3a6e" transform="rotate(-50 337 176)"/>
<ellipse cx="358" cy="122" rx="3.5" ry="2.5" fill="#4aa0c0" opacity="0.8"/>
<ellipse cx="297" cy="66" rx="5" ry="4" fill="#0a6ab0" opacity="0.7"/>
</g></g>
<g clip-path="url(#cpE)"><g filter="url(#b1)">
<rect x="103.7" y="713.4" width="281.3" height="265.1" fill="url(#gE)" />
<rect x="103.7" y="905" width="70" height="80" fill="#064a98" />
<rect x="103.7" y="969" width="281.3" height="10" fill="#0a569f" />
<rect x="112.3" y="713" width="63.2" height="193" fill="#e9e8ea" />
<line x1="112.3" y1="901.5" x2="131.26" y2="901.5" stroke="#54467a" stroke-width="1.5" opacity="0.9"/>
<line x1="156.54" y1="901.5" x2="175.5" y2="901.5" stroke="#54467a" stroke-width="1.5" opacity="0.9"/>
<line x1="112.3" y1="896.95" x2="120.52" y2="896.95" stroke="#54467a" stroke-width="1.6" opacity="0.72"/>
<line x1="167.28" y1="896.95" x2="175.5" y2="896.95" stroke="#54467a" stroke-width="1.6" opacity="0.72"/>
<line x1="112.3" y1="892.4" x2="120.52" y2="892.4" stroke="#54467a" stroke-width="1.6" opacity="0.72"/>
<line x1="167.28" y1="892.4" x2="175.5" y2="892.4" stroke="#54467a" stroke-width="1.6" opacity="0.72"/>
<line x1="112.3" y1="887.85" x2="120.52" y2="887.85" stroke="#54467a" stroke-width="1.6" opacity="0.72"/>
<line x1="167.28" y1="887.85" x2="175.5" y2="887.85" stroke="#54467a" stroke-width="1.6" opacity="0.72"/>
<line x1="112.3" y1="883.3" x2="120.52" y2="883.3" stroke="#54467a" stroke-width="1.6" opacity="0.72"/>
<line x1="167.28" y1="883.3" x2="175.5" y2="883.3" stroke="#54467a" stroke-width="1.6" opacity="0.72"/>
<line x1="112.3" y1="878.75" x2="125.57" y2="878.75" stroke="#54467a" stroke-width="1.3" opacity="0.9"/>
<line x1="162.23" y1="878.75" x2="175.5" y2="878.75" stroke="#54467a" stroke-width="1.3" opacity="0.9"/>
<line x1="112.3" y1="874.2" x2="120.52" y2="874.2" stroke="#54467a" stroke-width="1.6" opacity="0.72"/>
<line x1="167.28" y1="874.2" x2="175.5" y2="874.2" stroke="#54467a" stroke-width="1.6" opacity="0.72"/>
<line x1="112.3" y1="869.65" x2="120.52" y2="869.65" stroke="#54467a" stroke-width="1.6" opacity="0.72"/>
<line x1="167.28" y1="869.65" x2="175.5" y2="869.65" stroke="#54467a" stroke-width="1.6" opacity="0.72"/>
<line x1="112.3" y1="865.1" x2="120.52" y2="865.1" stroke="#54467a" stroke-width="1.6" opacity="0.72"/>
<line x1="167.28" y1="865.1" x2="175.5" y2="865.1" stroke="#54467a" stroke-width="1.6" opacity="0.72"/>
<line x1="112.3" y1="860.55" x2="120.52" y2="860.55" stroke="#54467a" stroke-width="1.6" opacity="0.72"/>
<line x1="167.28" y1="860.55" x2="175.5" y2="860.55" stroke="#54467a" stroke-width="1.6" opacity="0.72"/>
<line x1="112.3" y1="856" x2="131.26" y2="856" stroke="#54467a" stroke-width="1.5" opacity="0.9"/>
<line x1="156.54" y1="856" x2="175.5" y2="856" stroke="#54467a" stroke-width="1.5" opacity="0.9"/>
<line x1="112.3" y1="851.45" x2="120.52" y2="851.45" stroke="#54467a" stroke-width="1.6" opacity="0.72"/>
<line x1="167.28" y1="851.45" x2="175.5" y2="851.45" stroke="#54467a" stroke-width="1.6" opacity="0.72"/>
<line x1="112.3" y1="846.9" x2="120.52" y2="846.9" stroke="#54467a" stroke-width="1.6" opacity="0.72"/>
<line x1="167.28" y1="846.9" x2="175.5" y2="846.9" stroke="#54467a" stroke-width="1.6" opacity="0.72"/>
<line x1="112.3" y1="842.35" x2="120.52" y2="842.35" stroke="#54467a" stroke-width="1.6" opacity="0.72"/>
<line x1="167.28" y1="842.35" x2="175.5" y2="842.35" stroke="#54467a" stroke-width="1.6" opacity="0.72"/>
<line x1="112.3" y1="837.8" x2="120.52" y2="837.8" stroke="#54467a" stroke-width="1.6" opacity="0.72"/>
<line x1="167.28" y1="837.8" x2="175.5" y2="837.8" stroke="#54467a" stroke-width="1.6" opacity="0.72"/>
<line x1="112.3" y1="833.25" x2="125.57" y2="833.25" stroke="#54467a" stroke-width="1.3" opacity="0.9"/>
<line x1="162.23" y1="833.25" x2="175.5" y2="833.25" stroke="#54467a" stroke-width="1.3" opacity="0.9"/>
<line x1="112.3" y1="828.7" x2="120.52" y2="828.7" stroke="#54467a" stroke-width="1.6" opacity="0.72"/>
<line x1="167.28" y1="828.7" x2="175.5" y2="828.7" stroke="#54467a" stroke-width="1.6" opacity="0.72"/>
<line x1="112.3" y1="824.15" x2="120.52" y2="824.15" stroke="#54467a" stroke-width="1.6" opacity="0.72"/>
<line x1="167.28" y1="824.15" x2="175.5" y2="824.15" stroke="#54467a" stroke-width="1.6" opacity="0.72"/>
<line x1="112.3" y1="819.6" x2="120.52" y2="819.6" stroke="#54467a" stroke-width="1.6" opacity="0.72"/>
<line x1="167.28" y1="819.6" x2="175.5" y2="819.6" stroke="#54467a" stroke-width="1.6" opacity="0.72"/>
<line x1="112.3" y1="815.05" x2="120.52" y2="815.05" stroke="#54467a" stroke-width="1.6" opacity="0.72"/>
<line x1="167.28" y1="815.05" x2="175.5" y2="815.05" stroke="#54467a" stroke-width="1.6" opacity="0.72"/>
<line x1="112.3" y1="810.5" x2="131.26" y2="810.5" stroke="#54467a" stroke-width="1.5" opacity="0.9"/>
<line x1="156.54" y1="810.5" x2="175.5" y2="810.5" stroke="#54467a" stroke-width="1.5" opacity="0.9"/>
<line x1="112.3" y1="805.95" x2="120.52" y2="805.95" stroke="#54467a" stroke-width="1.6" opacity="0.72"/>
<line x1="167.28" y1="805.95" x2="175.5" y2="805.95" stroke="#54467a" stroke-width="1.6" opacity="0.72"/>
<line x1="112.3" y1="801.4" x2="120.52" y2="801.4" stroke="#54467a" stroke-width="1.6" opacity="0.72"/>
<line x1="167.28" y1="801.4" x2="175.5" y2="801.4" stroke="#54467a" stroke-width="1.6" opacity="0.72"/>
<line x1="112.3" y1="796.85" x2="120.52" y2="796.85" stroke="#54467a" stroke-width="1.6" opacity="0.72"/>
<line x1="167.28" y1="796.85" x2="175.5" y2="796.85" stroke="#54467a" stroke-width="1.6" opacity="0.72"/>
<line x1="112.3" y1="792.3" x2="120.52" y2="792.3" stroke="#54467a" stroke-width="1.6" opacity="0.72"/>
<line x1="167.28" y1="792.3" x2="175.5" y2="792.3" stroke="#54467a" stroke-width="1.6" opacity="0.72"/>
<line x1="112.3" y1="787.75" x2="125.57" y2="787.75" stroke="#54467a" stroke-width="1.3" opacity="0.9"/>
<line x1="162.23" y1="787.75" x2="175.5" y2="787.75" stroke="#54467a" stroke-width="1.3" opacity="0.9"/>
<line x1="112.3" y1="783.2" x2="120.52" y2="783.2" stroke="#54467a" stroke-width="1.6" opacity="0.72"/>
<line x1="167.28" y1="783.2" x2="175.5" y2="783.2" stroke="#54467a" stroke-width="1.6" opacity="0.72"/>
<line x1="112.3" y1="778.65" x2="120.52" y2="778.65" stroke="#54467a" stroke-width="1.6" opacity="0.72"/>
<line x1="167.28" y1="778.65" x2="175.5" y2="778.65" stroke="#54467a" stroke-width="1.6" opacity="0.72"/>
<line x1="112.3" y1="774.1" x2="120.52" y2="774.1" stroke="#54467a" stroke-width="1.6" opacity="0.72"/>
<line x1="167.28" y1="774.1" x2="175.5" y2="774.1" stroke="#54467a" stroke-width="1.6" opacity="0.72"/>
<line x1="112.3" y1="769.55" x2="120.52" y2="769.55" stroke="#54467a" stroke-width="1.6" opacity="0.72"/>
<line x1="167.28" y1="769.55" x2="175.5" y2="769.55" stroke="#54467a" stroke-width="1.6" opacity="0.72"/>
<line x1="112.3" y1="765" x2="131.26" y2="765" stroke="#54467a" stroke-width="1.5" opacity="0.9"/>
<line x1="156.54" y1="765" x2="175.5" y2="765" stroke="#54467a" stroke-width="1.5" opacity="0.9"/>
<line x1="112.3" y1="760.45" x2="120.52" y2="760.45" stroke="#54467a" stroke-width="1.6" opacity="0.72"/>
<line x1="167.28" y1="760.45" x2="175.5" y2="760.45" stroke="#54467a" stroke-width="1.6" opacity="0.72"/>
<line x1="112.3" y1="755.9" x2="120.52" y2="755.9" stroke="#54467a" stroke-width="1.6" opacity="0.72"/>
<line x1="167.28" y1="755.9" x2="175.5" y2="755.9" stroke="#54467a" stroke-width="1.6" opacity="0.72"/>
<line x1="112.3" y1="751.35" x2="120.52" y2="751.35" stroke="#54467a" stroke-width="1.6" opacity="0.72"/>
<line x1="167.28" y1="751.35" x2="175.5" y2="751.35" stroke="#54467a" stroke-width="1.6" opacity="0.72"/>
<line x1="112.3" y1="746.8" x2="120.52" y2="746.8" stroke="#54467a" stroke-width="1.6" opacity="0.72"/>
<line x1="167.28" y1="746.8" x2="175.5" y2="746.8" stroke="#54467a" stroke-width="1.6" opacity="0.72"/>
<line x1="112.3" y1="742.25" x2="125.57" y2="742.25" stroke="#54467a" stroke-width="1.3" opacity="0.9"/>
<line x1="162.23" y1="742.25" x2="175.5" y2="742.25" stroke="#54467a" stroke-width="1.3" opacity="0.9"/>
<line x1="112.3" y1="737.7" x2="120.52" y2="737.7" stroke="#54467a" stroke-width="1.6" opacity="0.72"/>
<line x1="167.28" y1="737.7" x2="175.5" y2="737.7" stroke="#54467a" stroke-width="1.6" opacity="0.72"/>
<line x1="112.3" y1="733.15" x2="120.52" y2="733.15" stroke="#54467a" stroke-width="1.6" opacity="0.72"/>
<line x1="167.28" y1="733.15" x2="175.5" y2="733.15" stroke="#54467a" stroke-width="1.6" opacity="0.72"/>
<line x1="112.3" y1="728.6" x2="120.52" y2="728.6" stroke="#54467a" stroke-width="1.6" opacity="0.72"/>
<line x1="167.28" y1="728.6" x2="175.5" y2="728.6" stroke="#54467a" stroke-width="1.6" opacity="0.72"/>
<line x1="112.3" y1="724.05" x2="120.52" y2="724.05" stroke="#54467a" stroke-width="1.6" opacity="0.72"/>
<line x1="167.28" y1="724.05" x2="175.5" y2="724.05" stroke="#54467a" stroke-width="1.6" opacity="0.72"/>
<line x1="112.3" y1="719.5" x2="131.26" y2="719.5" stroke="#54467a" stroke-width="1.5" opacity="0.9"/>
<line x1="156.54" y1="719.5" x2="175.5" y2="719.5" stroke="#54467a" stroke-width="1.5" opacity="0.9"/>
<line x1="112.3" y1="714.95" x2="120.52" y2="714.95" stroke="#54467a" stroke-width="1.6" opacity="0.72"/>
<line x1="167.28" y1="714.95" x2="175.5" y2="714.95" stroke="#54467a" stroke-width="1.6" opacity="0.72"/>
<text x="152.69" y="901.5" font-size="18" text-anchor="middle" font-weight="bold" fill="#202020" transform="rotate(-90 152.69 901.5)" >0</text>
<text x="152.69" y="860" font-size="18" text-anchor="start" font-weight="bold" fill="#202020" transform="rotate(-90 152.69 860)" >1<tspan font-size="14.76">cm</tspan></text>
<text x="152.69" y="810.5" font-size="18" text-anchor="middle" font-weight="bold" fill="#202020" transform="rotate(-90 152.69 810.5)" >2</text>
<text x="152.69" y="765" font-size="18" text-anchor="middle" font-weight="bold" fill="#202020" transform="rotate(-90 152.69 765)" >3</text>
<text x="152.69" y="719.5" font-size="18" text-anchor="middle" font-weight="bold" fill="#202020" transform="rotate(-90 152.69 719.5)" >4</text>
<rect x="173" y="905" width="208.6" height="64" fill="url(#gRulE)" />
<line x1="175.47" y1="905" x2="175.47" y2="912.36" stroke="#3a3444" stroke-width="1.5" opacity="0.72"/>
<line x1="175.47" y1="962.6" x2="175.47" y2="969" stroke="#3a3444" stroke-width="1.5" opacity="0.72"/>
<line x1="180.3" y1="905" x2="180.3" y2="924.2" stroke="#3a3444" stroke-width="1.5" opacity="0.9"/>
<line x1="180.3" y1="949.16" x2="180.3" y2="969" stroke="#3a3444" stroke-width="1.5" opacity="0.9"/>
<line x1="185.13" y1="905" x2="185.13" y2="912.36" stroke="#3a3444" stroke-width="1.5" opacity="0.72"/>
<line x1="185.13" y1="962.6" x2="185.13" y2="969" stroke="#3a3444" stroke-width="1.5" opacity="0.72"/>
<line x1="189.96" y1="905" x2="189.96" y2="912.36" stroke="#3a3444" stroke-width="1.5" opacity="0.72"/>
<line x1="189.96" y1="962.6" x2="189.96" y2="969" stroke="#3a3444" stroke-width="1.5" opacity="0.72"/>
<line x1="194.79" y1="905" x2="194.79" y2="912.36" stroke="#3a3444" stroke-width="1.5" opacity="0.72"/>
<line x1="194.79" y1="962.6" x2="194.79" y2="969" stroke="#3a3444" stroke-width="1.5" opacity="0.72"/>
<line x1="199.62" y1="905" x2="199.62" y2="912.36" stroke="#3a3444" stroke-width="1.5" opacity="0.72"/>
<line x1="199.62" y1="962.6" x2="199.62" y2="969" stroke="#3a3444" stroke-width="1.5" opacity="0.72"/>
<line x1="204.45" y1="905" x2="204.45" y2="918.44" stroke="#3a3444" stroke-width="1.3" opacity="0.9"/>
<line x1="204.45" y1="956.2" x2="204.45" y2="969" stroke="#3a3444" stroke-width="1.3" opacity="0.9"/>
<line x1="209.28" y1="905" x2="209.28" y2="912.36" stroke="#3a3444" stroke-width="1.5" opacity="0.72"/>
<line x1="209.28" y1="962.6" x2="209.28" y2="969" stroke="#3a3444" stroke-width="1.5" opacity="0.72"/>
<line x1="214.11" y1="905" x2="214.11" y2="912.36" stroke="#3a3444" stroke-width="1.5" opacity="0.72"/>
<line x1="214.11" y1="962.6" x2="214.11" y2="969" stroke="#3a3444" stroke-width="1.5" opacity="0.72"/>
<line x1="218.94" y1="905" x2="218.94" y2="912.36" stroke="#3a3444" stroke-width="1.5" opacity="0.72"/>
<line x1="218.94" y1="962.6" x2="218.94" y2="969" stroke="#3a3444" stroke-width="1.5" opacity="0.72"/>
<line x1="223.77" y1="905" x2="223.77" y2="912.36" stroke="#3a3444" stroke-width="1.5" opacity="0.72"/>
<line x1="223.77" y1="962.6" x2="223.77" y2="969" stroke="#3a3444" stroke-width="1.5" opacity="0.72"/>
<line x1="228.6" y1="905" x2="228.6" y2="924.2" stroke="#3a3444" stroke-width="1.5" opacity="0.9"/>
<line x1="228.6" y1="949.16" x2="228.6" y2="969" stroke="#3a3444" stroke-width="1.5" opacity="0.9"/>
<line x1="233.43" y1="905" x2="233.43" y2="912.36" stroke="#3a3444" stroke-width="1.5" opacity="0.72"/>
<line x1="233.43" y1="962.6" x2="233.43" y2="969" stroke="#3a3444" stroke-width="1.5" opacity="0.72"/>
<line x1="238.26" y1="905" x2="238.26" y2="912.36" stroke="#3a3444" stroke-width="1.5" opacity="0.72"/>
<line x1="238.26" y1="962.6" x2="238.26" y2="969" stroke="#3a3444" stroke-width="1.5" opacity="0.72"/>
<line x1="243.09" y1="905" x2="243.09" y2="912.36" stroke="#3a3444" stroke-width="1.5" opacity="0.72"/>
<line x1="243.09" y1="962.6" x2="243.09" y2="969" stroke="#3a3444" stroke-width="1.5" opacity="0.72"/>
<line x1="247.92" y1="905" x2="247.92" y2="912.36" stroke="#3a3444" stroke-width="1.5" opacity="0.72"/>
<line x1="247.92" y1="962.6" x2="247.92" y2="969" stroke="#3a3444" stroke-width="1.5" opacity="0.72"/>
<line x1="252.75" y1="905" x2="252.75" y2="918.44" stroke="#3a3444" stroke-width="1.3" opacity="0.9"/>
<line x1="252.75" y1="956.2" x2="252.75" y2="969" stroke="#3a3444" stroke-width="1.3" opacity="0.9"/>
<line x1="257.58" y1="905" x2="257.58" y2="912.36" stroke="#3a3444" stroke-width="1.5" opacity="0.72"/>
<line x1="257.58" y1="962.6" x2="257.58" y2="969" stroke="#3a3444" stroke-width="1.5" opacity="0.72"/>
<line x1="262.41" y1="905" x2="262.41" y2="912.36" stroke="#3a3444" stroke-width="1.5" opacity="0.72"/>
<line x1="262.41" y1="962.6" x2="262.41" y2="969" stroke="#3a3444" stroke-width="1.5" opacity="0.72"/>
<line x1="267.24" y1="905" x2="267.24" y2="912.36" stroke="#3a3444" stroke-width="1.5" opacity="0.72"/>
<line x1="267.24" y1="962.6" x2="267.24" y2="969" stroke="#3a3444" stroke-width="1.5" opacity="0.72"/>
<line x1="272.07" y1="905" x2="272.07" y2="912.36" stroke="#3a3444" stroke-width="1.5" opacity="0.72"/>
<line x1="272.07" y1="962.6" x2="272.07" y2="969" stroke="#3a3444" stroke-width="1.5" opacity="0.72"/>
<line x1="276.9" y1="905" x2="276.9" y2="924.2" stroke="#3a3444" stroke-width="1.5" opacity="0.9"/>
<line x1="276.9" y1="949.16" x2="276.9" y2="969" stroke="#3a3444" stroke-width="1.5" opacity="0.9"/>
<line x1="281.73" y1="905" x2="281.73" y2="912.36" stroke="#3a3444" stroke-width="1.5" opacity="0.72"/>
<line x1="281.73" y1="962.6" x2="281.73" y2="969" stroke="#3a3444" stroke-width="1.5" opacity="0.72"/>
<line x1="286.56" y1="905" x2="286.56" y2="912.36" stroke="#3a3444" stroke-width="1.5" opacity="0.72"/>
<line x1="286.56" y1="962.6" x2="286.56" y2="969" stroke="#3a3444" stroke-width="1.5" opacity="0.72"/>
<line x1="291.39" y1="905" x2="291.39" y2="912.36" stroke="#3a3444" stroke-width="1.5" opacity="0.72"/>
<line x1="291.39" y1="962.6" x2="291.39" y2="969" stroke="#3a3444" stroke-width="1.5" opacity="0.72"/>
<line x1="296.22" y1="905" x2="296.22" y2="912.36" stroke="#3a3444" stroke-width="1.5" opacity="0.72"/>
<line x1="296.22" y1="962.6" x2="296.22" y2="969" stroke="#3a3444" stroke-width="1.5" opacity="0.72"/>
<line x1="301.05" y1="905" x2="301.05" y2="918.44" stroke="#3a3444" stroke-width="1.3" opacity="0.9"/>
<line x1="301.05" y1="956.2" x2="301.05" y2="969" stroke="#3a3444" stroke-width="1.3" opacity="0.9"/>
<line x1="305.88" y1="905" x2="305.88" y2="912.36" stroke="#3a3444" stroke-width="1.5" opacity="0.72"/>
<line x1="305.88" y1="962.6" x2="305.88" y2="969" stroke="#3a3444" stroke-width="1.5" opacity="0.72"/>
<line x1="310.71" y1="905" x2="310.71" y2="912.36" stroke="#3a3444" stroke-width="1.5" opacity="0.72"/>
<line x1="310.71" y1="962.6" x2="310.71" y2="969" stroke="#3a3444" stroke-width="1.5" opacity="0.72"/>
<line x1="315.54" y1="905" x2="315.54" y2="912.36" stroke="#3a3444" stroke-width="1.5" opacity="0.72"/>
<line x1="315.54" y1="962.6" x2="315.54" y2="969" stroke="#3a3444" stroke-width="1.5" opacity="0.72"/>
<line x1="320.37" y1="905" x2="320.37" y2="912.36" stroke="#3a3444" stroke-width="1.5" opacity="0.72"/>
<line x1="320.37" y1="962.6" x2="320.37" y2="969" stroke="#3a3444" stroke-width="1.5" opacity="0.72"/>
<line x1="325.2" y1="905" x2="325.2" y2="924.2" stroke="#3a3444" stroke-width="1.5" opacity="0.9"/>
<line x1="325.2" y1="949.16" x2="325.2" y2="969" stroke="#3a3444" stroke-width="1.5" opacity="0.9"/>
<line x1="330.03" y1="905" x2="330.03" y2="912.36" stroke="#3a3444" stroke-width="1.5" opacity="0.72"/>
<line x1="330.03" y1="962.6" x2="330.03" y2="969" stroke="#3a3444" stroke-width="1.5" opacity="0.72"/>
<line x1="334.86" y1="905" x2="334.86" y2="912.36" stroke="#3a3444" stroke-width="1.5" opacity="0.72"/>
<line x1="334.86" y1="962.6" x2="334.86" y2="969" stroke="#3a3444" stroke-width="1.5" opacity="0.72"/>
<line x1="339.69" y1="905" x2="339.69" y2="912.36" stroke="#3a3444" stroke-width="1.5" opacity="0.72"/>
<line x1="339.69" y1="962.6" x2="339.69" y2="969" stroke="#3a3444" stroke-width="1.5" opacity="0.72"/>
<line x1="344.52" y1="905" x2="344.52" y2="912.36" stroke="#3a3444" stroke-width="1.5" opacity="0.72"/>
<line x1="344.52" y1="962.6" x2="344.52" y2="969" stroke="#3a3444" stroke-width="1.5" opacity="0.72"/>
<line x1="349.35" y1="905" x2="349.35" y2="918.44" stroke="#3a3444" stroke-width="1.3" opacity="0.9"/>
<line x1="349.35" y1="956.2" x2="349.35" y2="969" stroke="#3a3444" stroke-width="1.3" opacity="0.9"/>
<line x1="354.18" y1="905" x2="354.18" y2="912.36" stroke="#3a3444" stroke-width="1.5" opacity="0.72"/>
<line x1="354.18" y1="962.6" x2="354.18" y2="969" stroke="#3a3444" stroke-width="1.5" opacity="0.72"/>
<line x1="359.01" y1="905" x2="359.01" y2="912.36" stroke="#3a3444" stroke-width="1.5" opacity="0.72"/>
<line x1="359.01" y1="962.6" x2="359.01" y2="969" stroke="#3a3444" stroke-width="1.5" opacity="0.72"/>
<line x1="363.84" y1="905" x2="363.84" y2="912.36" stroke="#3a3444" stroke-width="1.5" opacity="0.72"/>
<line x1="363.84" y1="962.6" x2="363.84" y2="969" stroke="#3a3444" stroke-width="1.5" opacity="0.72"/>
<line x1="368.67" y1="905" x2="368.67" y2="912.36" stroke="#3a3444" stroke-width="1.5" opacity="0.72"/>
<line x1="368.67" y1="962.6" x2="368.67" y2="969" stroke="#3a3444" stroke-width="1.5" opacity="0.72"/>
<line x1="373.5" y1="905" x2="373.5" y2="924.2" stroke="#3a3444" stroke-width="1.5" opacity="0.9"/>
<line x1="373.5" y1="949.16" x2="373.5" y2="969" stroke="#3a3444" stroke-width="1.5" opacity="0.9"/>
<line x1="378.33" y1="905" x2="378.33" y2="912.36" stroke="#3a3444" stroke-width="1.5" opacity="0.72"/>
<line x1="378.33" y1="962.6" x2="378.33" y2="969" stroke="#3a3444" stroke-width="1.5" opacity="0.72"/>
<text x="180.3" y="945.5" font-size="18.5" text-anchor="middle" font-weight="bold" fill="#202020" >0</text>
<text x="224.6" y="945.5" font-size="18.5" text-anchor="start" font-weight="bold" fill="#202020" >1<tspan font-size="15.17">cm</tspan></text>
<text x="276.9" y="945.5" font-size="18.5" text-anchor="middle" font-weight="bold" fill="#202020" >2</text>
<text x="325.2" y="945.5" font-size="18.5" text-anchor="middle" font-weight="bold" fill="#202020" >3</text>
<text x="373.5" y="945.5" font-size="18.5" text-anchor="middle" font-weight="bold" fill="#202020" >4</text>
<path d="M200 808 C206 772 240 760 285 764 C312 764 326 790 324 822 C330 852 312 878 286 884 C262 892 232 882 216 858 C202 842 196 824 200 808 Z" fill="#1262a2" filter="url(#b2)"/>
<ellipse cx="266.7" cy="825.5" rx="54" ry="57" fill="url(#gBlob)"/>
<ellipse cx="258" cy="838" rx="30" ry="30" fill="#3a7498" opacity="0.35" filter="url(#b4)"/>
<ellipse cx="275" cy="795" rx="22" ry="12" fill="#2f6a8e" opacity="0.35" filter="url(#b4)"/>
<path d="M298.5 803 q6 4 8 18 q-8 -3 -10 -16 z" fill="#fff" stroke="none" stroke-width="1" />
<path d="M303 836 l3 6 l-3 1 z" fill="#fff" stroke="none" stroke-width="1" />
<path d="M201 820 l8 7" fill="none" stroke="#e8f4ff" stroke-width="2.2" stroke-linecap="round"/>
<path d="M231 812 l9 -5" fill="none" stroke="#d8ecf8" stroke-width="2.4" stroke-linecap="round" opacity="0.9"/>
<path d="M316 838 l-3 10" fill="none" stroke="#cfe4f2" stroke-width="1.6" stroke-linecap="round" opacity="0.7"/>
</g></g>
<g clip-path="url(#cpSA)">
<rect x="396.2" y="29.5" width="270.1" height="267.5" fill="#121212" />
<g filter="url(#bS)" stroke-linecap="round" fill="none">
<path d="M386.2 215 L676.3 150 L676.3 307 L386.2 307 Z" fill="#3c3c3c" opacity="0.9" filter="url(#b4)"/>
<path d="M595.13 163.51 Q543.93 158.02 435.93 202.14" stroke="rgb(94,94,94)" stroke-width="4.21"/>
<path d="M456.39 156.3 Q490.5 225.34 590.11 244.85" stroke="rgb(71,71,71)" stroke-width="3.99"/>
<path d="M478.27 310.25 Q389.87 347.7 281.78 332.09" stroke="rgb(72,72,72)" stroke-width="2.73"/>
<path d="M411.84 182.87 Q373.21 314.95 344.09 392.24" stroke="rgb(82,82,82)" stroke-width="3.64"/>
<path d="M617.21 92.36 Q570.1 167.28 537.92 233.99" stroke="rgb(79,79,79)" stroke-width="4.46"/>
<path d="M456.1 23.31 Q359.28 103.99 331.23 142.06" stroke="rgb(63,63,63)" stroke-width="3.4"/>
<path d="M760.91 110.8 Q622.74 160.25 530.41 141.36" stroke="rgb(62,62,62)" stroke-width="2.7"/>
<path d="M467.46 143.58 Q512.42 213.25 512.82 319.75" stroke="rgb(74,74,74)" stroke-width="2.77"/>
<path d="M512.67 280.36 Q492.55 276.11 439.3 350.11" stroke="rgb(77,77,77)" stroke-width="3.53"/>
<path d="M455.69 175.02 Q520.44 213.58 598.11 270.75" stroke="rgb(70,70,70)" stroke-width="3.39"/>
<path d="M809.33 -53.15 Q732.85 -38.78 576.71 52.46" stroke="rgb(81,81,81)" stroke-width="2.97"/>
<path d="M705.41 154.15 Q671.98 177.32 684.44 239.18" stroke="rgb(71,71,71)" stroke-width="4.15"/>
<path d="M427.95 85.55 Q436.03 86.04 521.63 107.54" stroke="rgb(77,77,77)" stroke-width="3.84"/>
<path d="M453.34 165.58 Q382.82 164.16 363.06 218.08" stroke="rgb(86,86,86)" stroke-width="4.42"/>
<path d="M547.99 21.38 Q611.88 117.22 724.32 141.04" stroke="rgb(97,97,97)" stroke-width="4.36"/>
<path d="M524.24 123.59 Q544.5 153.89 606.62 151.46" stroke="rgb(78,78,78)" stroke-width="3.11"/>
<path d="M604.39 150.39 Q608.22 193.19 671.83 239.29" stroke="rgb(66,66,66)" stroke-width="3.91"/>
<path d="M473.4 -51.93 Q535.03 16.69 665.6 99.49" stroke="rgb(63,63,63)" stroke-width="3.1"/>
<path d="M393.99 -35.13 Q370.55 123.12 369.18 218.81" stroke="rgb(67,67,67)" stroke-width="4.56"/>
<path d="M596.85 175.08 Q616.94 223.86 569.25 276.67" stroke="rgb(64,64,64)" stroke-width="3.31"/>
<path d="M483.34 -34.04 Q487.57 -4 454.91 55.01" stroke="rgb(66,66,66)" stroke-width="4.6"/>
<path d="M473.05 89.35 Q414.51 211.55 309.04 267.34" stroke="rgb(70,70,70)" stroke-width="3.3"/>
<path d="M663.64 263.97 Q621.44 300.35 521.09 325.07" stroke="rgb(63,63,63)" stroke-width="3.85"/>
<path d="M508.24 145.84 Q531.87 220.71 476.57 234.81" stroke="rgb(69,69,69)" stroke-width="4.06"/>
<path d="M514.46 163.14 Q461.13 260.24 474.38 317.31" stroke="rgb(96,96,96)" stroke-width="2.66"/>
<path d="M487.58 88.94 Q587.08 169.82 641.79 225.08" stroke="rgb(93,93,93)" stroke-width="3.57"/>
<path d="M576.51 78.66 Q635.68 152.46 747.71 161.35" stroke="rgb(95,95,95)" stroke-width="3.92"/>
<path d="M460.39 206.02 Q522.82 315.84 563.77 377.07" stroke="rgb(74,74,74)" stroke-width="4.11"/>
<path d="M337.54 -8.55 Q403.21 69.36 527.09 147.84" stroke="rgb(75,75,75)" stroke-width="4.27"/>
<path d="M710.48 222.27 Q615.39 230.13 582.25 242.58" stroke="rgb(72,72,72)" stroke-width="4.45"/>
<path d="M646.78 24.49 Q626.11 151.08 634.18 225.08" stroke="rgb(90,90,90)" stroke-width="3.16"/>
<path d="M521.12 166.09 Q528.28 192.5 612.38 277.17" stroke="rgb(98,98,98)" stroke-width="3.51"/>
<path d="M335.67 235.47 Q413.08 240.44 413.06 306.96" stroke="rgb(65,65,65)" stroke-width="2.82"/>
<path d="M524.08 166 Q518.88 207.08 561.78 252.15" stroke="rgb(74,74,74)" stroke-width="2.96"/>
<path d="M404.73 110.26 Q392.04 157.32 334.78 198.03" stroke="rgb(79,79,79)" stroke-width="4.49"/>
<path d="M429.25 270.14 Q498.36 360.56 633.52 381.77" stroke="rgb(76,76,76)" stroke-width="4.04"/>
<path d="M455.93 35.5 Q413.08 160.25 362.24 260.57" stroke="rgb(86,86,86)" stroke-width="3.61"/>
<path d="M570.11 2.07 Q654.46 137.33 703.29 221.66" stroke="rgb(68,68,68)" stroke-width="3.88"/>
<path d="M725.07 29.72 Q606.06 92.62 481.13 108.99" stroke="rgb(81,81,81)" stroke-width="3.24"/>
<path d="M644.85 237.59 Q653.95 273.48 688.33 321.95" stroke="rgb(90,90,90)" stroke-width="3.15"/>
<path d="M741.71 39.22 Q643.64 57.79 597.92 102.76" stroke="rgb(64,64,64)" stroke-width="4.18"/>
<path d="M418.03 -56.79 Q448.24 47.6 407.12 153.17" stroke="rgb(90,90,90)" stroke-width="4.5"/>
<path d="M400.13 6.13 Q405.71 73.84 389.06 137.9" stroke="rgb(97,97,97)" stroke-width="4.29"/>
<path d="M508.73 -6.5 Q535.4 72.87 593.36 209.67" stroke="rgb(75,75,75)" stroke-width="3.69"/>
<path d="M442.44 114.14 Q464.72 124.7 470.17 210.82" stroke="rgb(62,62,62)" stroke-width="4.54"/>
<path d="M610.06 77.65 Q504 104.03 463.02 183.73" stroke="rgb(93,93,93)" stroke-width="4.46"/>
<path d="M579.54 256.24 Q515.55 271.21 455.85 345.87" stroke="rgb(77,77,77)" stroke-width="3.47"/>
<path d="M630.42 226.07 Q629.03 256.79 640.52 362.8" stroke="rgb(74,74,74)" stroke-width="3.12"/>
<path d="M544.31 313.53 Q612.93 305.33 651.63 325.59" stroke="rgb(62,62,62)" stroke-width="3.31"/>
<path d="M604.65 -4.35 Q580.67 51.27 536.92 72.05" stroke="rgb(94,94,94)" stroke-width="4"/>
<path d="M702.64 -97.32 Q659.32 36.22 609.9 111.55" stroke="rgb(72,72,72)" stroke-width="3.67"/>
<path d="M450.76 -21.66 Q416.89 89.56 425.79 162.25" stroke="rgb(70,70,70)" stroke-width="4.22"/>
<path d="M596.61 0.11 Q686.44 78.51 731.73 205.79" stroke="rgb(75,75,75)" stroke-width="2.79"/>
<path d="M587.59 22.43 Q686.22 36.64 731.71 63.39" stroke="rgb(89,89,89)" stroke-width="4.18"/>
<path d="M430.66 96.66 Q413.39 120.02 384.93 166.16" stroke="rgb(74,74,74)" stroke-width="4.24"/>
<path d="M514.59 165.63 Q509.7 228.86 456.36 294.96" stroke="rgb(74,74,74)" stroke-width="2.65"/>
<path d="M697.37 175.9 Q592.5 176.69 538.1 224.85" stroke="rgb(74,74,74)" stroke-width="4.28"/>
<path d="M649.55 289.62 Q659.31 270.79 736.65 316.49" stroke="rgb(91,91,91)" stroke-width="3.38"/>
<path d="M448.84 70.51 Q534.51 90.12 565.1 160.74" stroke="rgb(64,64,64)" stroke-width="3.51"/>
<path d="M565.39 100.68 Q633.64 118.13 655.12 163.8" stroke="rgb(94,94,94)" stroke-width="2.77"/>
<path d="M763.59 251.04 Q652.08 286.61 524.63 321.49" stroke="rgb(98,98,98)" stroke-width="4.57"/>
<path d="M734.74 54.65 Q657.04 76.53 529 113.51" stroke="rgb(72,72,72)" stroke-width="4.39"/>
<path d="M737.68 154.35 Q633.18 201.83 575.59 299.74" stroke="rgb(87,87,87)" stroke-width="4.19"/>
<path d="M587.03 -11.96 Q444.36 68.11 344.54 77.03" stroke="rgb(65,65,65)" stroke-width="3.93"/>
<path d="M496.79 129.69 Q478.89 215.38 458.64 301.46" stroke="rgb(86,86,86)" stroke-width="3.03"/>
<path d="M417.42 80.04 Q424.79 109.52 393.95 177.93" stroke="rgb(68,68,68)" stroke-width="3.4"/>
<path d="M364.25 18.33 Q364.91 50.78 401.46 108.69" stroke="rgb(78,78,78)" stroke-width="3.68"/>
<path d="M546.79 147.3 Q528.18 136.12 460.04 192.75" stroke="rgb(90,90,90)" stroke-width="3.8"/>
<path d="M669.92 2.43 Q654.43 42.73 563.74 26.11" stroke="rgb(92,92,92)" stroke-width="3.68"/>
<path d="M562 74.6 Q570.95 129.43 564.25 205.78" stroke="rgb(87,87,87)" stroke-width="3.17"/>
<path d="M510.45 94.09 Q539.87 207.63 654.45 272.13" stroke="rgb(120,120,120)" stroke-width="4.05"/>
<path d="M605.11 87.56 Q597.5 92.9 545.19 179.21" stroke="rgb(122,122,122)" stroke-width="4.78"/>
<path d="M762.75 -2.35 Q655.55 46.57 593.18 49.49" stroke="rgb(132,132,132)" stroke-width="3.08"/>
<path d="M459.17 247.16 Q408.03 230.19 338.24 282.5" stroke="rgb(117,117,117)" stroke-width="4.12"/>
<path d="M420.4 50.32 Q504.32 33.78 612.85 82.08" stroke="rgb(109,109,109)" stroke-width="3.75"/>
<path d="M609.39 139.37 Q592.97 176.29 519.82 278.56" stroke="rgb(135,135,135)" stroke-width="3.52"/>
<path d="M409.46 79.29 Q419.99 144.39 408.02 234.83" stroke="rgb(134,134,134)" stroke-width="3.49"/>
<path d="M622.72 81.93 Q564.41 161.91 561.94 287.07" stroke="rgb(117,117,117)" stroke-width="4.76"/>
<path d="M613.44 280.43 Q646.84 244.72 723.52 294.17" stroke="rgb(119,119,119)" stroke-width="3.07"/>
<path d="M534.8 -1.1 Q444.22 102.44 344.53 182.38" stroke="rgb(112,112,112)" stroke-width="3.67"/>
<path d="M468.99 -34.72 Q551.37 63.74 579.36 171.69" stroke="rgb(106,106,106)" stroke-width="4.48"/>
<path d="M622.42 135.86 Q670.71 239.53 663.22 366.8" stroke="rgb(126,126,126)" stroke-width="4.18"/>
<path d="M710.55 -9.72 Q686.22 94.3 674.91 221.85" stroke="rgb(113,113,113)" stroke-width="3.17"/>
<path d="M557.73 -0.78 Q683.47 21.93 752.47 51.2" stroke="rgb(133,133,133)" stroke-width="4.48"/>
<path d="M469.52 72.18 Q368.8 124.85 269.01 129.97" stroke="rgb(121,121,121)" stroke-width="3.59"/>
<path d="M694.92 1.2 Q641.27 65.83 619.58 141.08" stroke="rgb(109,109,109)" stroke-width="4.07"/>
<path d="M601.6 149.37 Q660.32 199.42 726.56 299.65" stroke="rgb(121,121,121)" stroke-width="4.74"/>
<path d="M486.88 135.94 Q594.8 159.15 727.33 201.15" stroke="rgb(103,103,103)" stroke-width="3.7"/>
<path d="M509.83 125.43 Q401.51 147.22 351.28 242.86" stroke="rgb(138,138,138)" stroke-width="3.82"/>
<path d="M605.95 230.03 Q654.41 307.36 690.73 300.73" stroke="rgb(112,112,112)" stroke-width="4.17"/>
<path d="M649.43 -99.14 Q616.81 0.11 613.98 140.1" stroke="rgb(107,107,107)" stroke-width="3.19"/>
<path d="M497.05 -44.06 Q446.88 -17.16 442.53 60.07" stroke="rgb(129,129,129)" stroke-width="4.38"/>
<path d="M512.17 173.92 Q553.88 249.37 564.56 325.96" stroke="rgb(123,123,123)" stroke-width="3.97"/>
<path d="M688.05 208.47 Q636 258.95 520.31 254.37" stroke="rgb(124,124,124)" stroke-width="4.5"/>
<path d="M700.98 225.31 Q686.75 306.12 618.1 401.04" stroke="rgb(102,102,102)" stroke-width="3.76"/>
<path d="M498.22 239.89 Q398.34 232.29 330.69 244.62" stroke="rgb(112,112,112)" stroke-width="3.95"/>
<path d="M446.29 174.39 Q469.98 314.53 467.03 405" stroke="rgb(121,121,121)" stroke-width="3.32"/>
<path d="M421.19 22.48 Q369.91 122.53 352.36 277.01" stroke="rgb(104,104,104)" stroke-width="3.65"/>
<path d="M551.97 100.61 Q532.06 176.3 568.85 291.41" stroke="rgb(130,130,130)" stroke-width="3.31"/>
<path d="M634.9 -20.53 Q648.06 100.22 597.6 223.72" stroke="rgb(132,132,132)" stroke-width="3.72"/>
<path d="M725.62 177.4 Q672.62 190.3 637.73 254.07" stroke="rgb(116,116,116)" stroke-width="3.24"/>
<path d="M725.35 247.21 Q643.89 295.53 534.08 391.09" stroke="rgb(105,105,105)" stroke-width="3.02"/>
<path d="M613.92 53.13 Q514.64 145.66 430.52 189.24" stroke="rgb(112,112,112)" stroke-width="3.26"/>
<path d="M558.98 218.03 Q667.4 224.54 772.95 311.52" stroke="rgb(119,119,119)" stroke-width="4.03"/>
<path d="M386.2 287.42 Q530 211.03 676.3 136.36" stroke="rgb(131,131,131)" stroke-width="4.81"/>
<path d="M386.2 291.92 Q530 218.54 676.3 149.12" stroke="rgb(126,126,126)" stroke-width="3.18"/>
<path d="M386.2 294.19 Q530 222.31 676.3 155.53" stroke="rgb(163,163,163)" stroke-width="4.16"/>
<path d="M386.2 298.6 Q530 229.67 676.3 168.04" stroke="rgb(162,162,162)" stroke-width="4.03"/>
<path d="M386.2 302.02 Q530 235.37 676.3 177.72" stroke="rgb(155,155,155)" stroke-width="4.2"/>
<path d="M386.2 304.51 Q530 239.52 676.3 184.78" stroke="rgb(119,119,119)" stroke-width="4.74"/>
<path d="M386.2 307.65 Q530 244.75 676.3 193.68" stroke="rgb(161,161,161)" stroke-width="3.2"/>
<path d="M386.2 311.69 Q530 251.48 676.3 205.11" stroke="rgb(131,131,131)" stroke-width="3.08"/>
<path d="M386.2 314.24 Q530 255.74 676.3 212.36" stroke="rgb(149,149,149)" stroke-width="3.35"/>
<path d="M397 52 Q470 40 537 46" stroke="rgb(168,168,168)" stroke-width="4.6"/>
<path d="M500 54 Q590 50 666 31" stroke="rgb(168,168,168)" stroke-width="4.4"/>
<path d="M397 101 Q450 135 498 184" stroke="rgb(178,178,178)" stroke-width="4.8"/>
<path d="M473 148 Q515 120 552 87" stroke="rgb(168,168,168)" stroke-width="4.6"/>
<path d="M537 50 Q570 120 611 194" stroke="rgb(173,173,173)" stroke-width="4.4"/>
<path d="M591 33 Q580 110 562 182" stroke="rgb(168,168,168)" stroke-width="4.2"/>
<path d="M634 33 Q622 100 601 174" stroke="rgb(163,163,163)" stroke-width="4.2"/>
<path d="M397 160 Q440 175 500 200" stroke="rgb(168,168,168)" stroke-width="4.6"/>
<path d="M420 30 Q432 120 452 250" stroke="rgb(158,158,158)" stroke-width="4.2"/>
<path d="M397 215 Q470 190 560 130" stroke="rgb(163,163,163)" stroke-width="4.4"/>
<path d="M560 130 Q610 100 666 80" stroke="rgb(163,163,163)" stroke-width="4.2"/>
<path d="M480 297 Q520 230 570 160" stroke="rgb(158,158,158)" stroke-width="4.2"/>
<path d="M610 190 Q620 240 640 297" stroke="rgb(168,168,168)" stroke-width="4.2"/>
<path d="M397 265 Q450 250 520 215" stroke="rgb(168,168,168)" stroke-width="4.8"/>
<path d="M445 30 Q500 90 520 140" stroke="rgb(158,158,158)" stroke-width="4"/>
<path d="M640 40 Q650 150 666 240" stroke="rgb(158,158,158)" stroke-width="4.2"/>
<path d="M397 130 Q500 150 600 150" stroke="rgb(148,148,148)" stroke-width="3.8"/>
<path d="M560 200 Q600 260 660 297" stroke="rgb(158,158,158)" stroke-width="4"/>
<path d="M520 140 Q560 170 640 180" stroke="rgb(168,168,168)" stroke-width="4"/>
<path d="M470 210 Q480 250 470 297" stroke="rgb(148,148,148)" stroke-width="4"/>
<path d="M598.31 65.77 Q672.32 124.07 656.82 152.29" stroke="rgb(159,159,159)" stroke-width="3.12"/>
<path d="M462.67 -34.5 Q449.79 89.59 352.87 154.31" stroke="rgb(187,187,187)" stroke-width="4.18"/>
<path d="M431.19 74.54 Q354.98 152.39 348.37 181.31" stroke="rgb(176,176,176)" stroke-width="4.54"/>
<path d="M687.82 208.18 Q620.03 229.86 574.56 244.38" stroke="rgb(180,180,180)" stroke-width="3.54"/>
<path d="M518.76 72.19 Q472.97 97.12 449.39 192.32" stroke="rgb(152,152,152)" stroke-width="3.56"/>
<path d="M502.95 75.48 Q428.94 122.25 428.32 233.66" stroke="rgb(164,164,164)" stroke-width="3.17"/>
<path d="M512.52 178.57 Q591.15 186.24 653.08 267.69" stroke="rgb(169,169,169)" stroke-width="3.41"/>
<path d="M416.8 5.48 Q470.19 22.7 446.75 104.88" stroke="rgb(167,167,167)" stroke-width="3.37"/>
<path d="M421.95 85.92 Q385.52 209.32 436.31 350.59" stroke="rgb(179,179,179)" stroke-width="4.26"/>
<path d="M720.66 156.47 Q649.53 218.52 621.47 336.59" stroke="rgb(141,141,141)" stroke-width="3.55"/>
<path d="M452.92 133.72 Q543.47 189.73 575.48 225.67" stroke="rgb(158,158,158)" stroke-width="3.29"/>
<path d="M620.42 201.52 Q609.78 285.79 596.71 356.7" stroke="rgb(172,172,172)" stroke-width="3.36"/>
<path d="M738.03 199.9 Q697.05 317.97 576 413.15" stroke="rgb(176,176,176)" stroke-width="3.36"/>
<path d="M436.82 -18.21 Q373.61 123.35 383.88 197.85" stroke="rgb(161,161,161)" stroke-width="3.48"/>
<path d="M687.07 98.74 Q646.26 155 597.64 200.32" stroke="rgb(176,176,176)" stroke-width="4.01"/>
<path d="M585.52 277.9 Q431 319.99 340.27 283.96" stroke="rgb(178,178,178)" stroke-width="3.01"/>
<path d="M642.6 69.32 Q556.64 128.35 527.28 178.77" stroke="rgb(150,150,150)" stroke-width="3.14"/>
<path d="M529.62 65.79 Q362.93 94.32 261.35 76.75" stroke="rgb(182,182,182)" stroke-width="4.53"/>
<path d="M699.3 90.1 Q622.12 193.5 599.02 302.66" stroke="rgb(150,150,150)" stroke-width="3.26"/>
<path d="M417.62 134.26 Q475.26 222.09 578.96 232.22" stroke="rgb(156,156,156)" stroke-width="3.1"/>
<path d="M679.05 175.4 Q622.64 224.26 548.21 278.54" stroke="rgb(171,171,171)" stroke-width="3.74"/>
<path d="M651.53 137.46 Q602.19 214.39 482.8 297.89" stroke="rgb(171,171,171)" stroke-width="4.63"/>
<circle cx="582.65" cy="250.22" r="1.99" fill="rgb(177,177,177)"/>
<circle cx="640.71" cy="170.2" r="1.93" fill="rgb(203,203,203)"/>
<circle cx="509.74" cy="35.98" r="1.61" fill="rgb(173,173,173)"/>
<circle cx="562.64" cy="145.39" r="2.04" fill="rgb(194,194,194)"/>
<circle cx="599.28" cy="111.02" r="2.43" fill="rgb(207,207,207)"/>
<circle cx="462.2" cy="255.37" r="1.9" fill="rgb(185,185,185)"/>
<circle cx="503.36" cy="43.4" r="1.35" fill="rgb(214,214,214)"/>
<circle cx="641.98" cy="175.28" r="1.75" fill="rgb(212,212,212)"/>
<circle cx="459.91" cy="47.81" r="2.55" fill="rgb(216,216,216)"/>
<circle cx="576.01" cy="261.29" r="1.99" fill="rgb(196,196,196)"/>
<circle cx="440.53" cy="203.24" r="1.99" fill="rgb(196,196,196)"/>
<circle cx="640.21" cy="55.87" r="1.38" fill="rgb(220,220,220)"/>
<circle cx="634.47" cy="183.55" r="1.2" fill="rgb(199,199,199)"/>
<circle cx="462.09" cy="109.55" r="1.44" fill="rgb(190,190,190)"/>
<circle cx="515.25" cy="149.89" r="1.76" fill="rgb(203,203,203)"/>
<circle cx="492.49" cy="186.12" r="1.63" fill="rgb(172,172,172)"/>
<circle cx="519.06" cy="113.44" r="1.9" fill="rgb(190,190,190)"/>
<circle cx="648.46" cy="290.92" r="2.43" fill="rgb(200,200,200)"/>
<circle cx="450.95" cy="259.28" r="2.46" fill="rgb(214,214,214)"/>
<circle cx="449.01" cy="253.64" r="2.46" fill="rgb(192,192,192)"/>
<circle cx="400.53" cy="199.46" r="2.59" fill="rgb(214,214,214)"/>
<circle cx="450.76" cy="198.67" r="2.53" fill="rgb(182,182,182)"/>
<circle cx="659.89" cy="203.41" r="2.22" fill="rgb(189,189,189)"/>
<circle cx="480.74" cy="270.33" r="1.79" fill="rgb(225,225,225)"/>
<circle cx="633.61" cy="119.09" r="1.82" fill="rgb(219,219,219)"/>
<circle cx="417.54" cy="89.22" r="1.37" fill="rgb(189,189,189)"/>
<circle cx="582.88" cy="101.44" r="1.53" fill="rgb(216,216,216)"/>
<circle cx="575.71" cy="240.96" r="2.33" fill="rgb(193,193,193)"/>
<circle cx="537.84" cy="60.47" r="1.52" fill="rgb(203,203,203)"/>
<circle cx="477.48" cy="277.41" r="1.52" fill="rgb(212,212,212)"/>
<circle cx="432" cy="208.14" r="2.58" fill="rgb(199,199,199)"/>
<circle cx="515.14" cy="170.82" r="2.47" fill="rgb(203,203,203)"/>
<circle cx="398.08" cy="186.41" r="1.55" fill="rgb(204,204,204)"/>
<circle cx="613.15" cy="52.82" r="2.58" fill="rgb(188,188,188)"/>
<circle cx="447.39" cy="77.47" r="1.97" fill="rgb(216,216,216)"/>
<circle cx="446.54" cy="269.46" r="2.07" fill="rgb(172,172,172)"/>
<circle cx="643.72" cy="185.96" r="2.5" fill="rgb(170,170,170)"/>
<circle cx="531.22" cy="77.62" r="2.29" fill="rgb(205,205,205)"/>
<circle cx="641.91" cy="115.31" r="2.3" fill="rgb(200,200,200)"/>
<circle cx="535.77" cy="164.76" r="2.09" fill="rgb(224,224,224)"/>
<circle cx="661.82" cy="228.62" r="1.44" fill="rgb(204,204,204)"/>
<circle cx="606.78" cy="73.68" r="1.81" fill="rgb(208,208,208)"/>
<circle cx="576.75" cy="176.04" r="2.3" fill="rgb(186,186,186)"/>
<circle cx="609.88" cy="92.61" r="1.96" fill="rgb(201,201,201)"/>
<circle cx="626.5" cy="190.88" r="1.25" fill="rgb(186,186,186)"/>
<circle cx="557.4" cy="220.69" r="1.83" fill="rgb(206,206,206)"/>
<circle cx="634.06" cy="116.45" r="1.22" fill="rgb(208,208,208)"/>
<circle cx="530.2" cy="145.77" r="2.21" fill="rgb(198,198,198)"/>
<circle cx="627.59" cy="37.77" r="2.47" fill="rgb(177,177,177)"/>
<circle cx="549.86" cy="174.82" r="2.21" fill="rgb(220,220,220)"/>
<circle cx="564.53" cy="43.94" r="1.26" fill="rgb(197,197,197)"/>
<circle cx="481.11" cy="195.67" r="2.29" fill="rgb(203,203,203)"/>
<circle cx="602.91" cy="162.81" r="2.35" fill="rgb(211,211,211)"/>
<circle cx="442.55" cy="97.67" r="1.9" fill="rgb(180,180,180)"/>
<circle cx="574.2" cy="188.9" r="1.29" fill="rgb(199,199,199)"/>
<circle cx="507.11" cy="126.98" r="2.19" fill="rgb(183,183,183)"/>
<circle cx="654.74" cy="63.85" r="2.27" fill="rgb(218,218,218)"/>
<circle cx="662.57" cy="68.17" r="1.93" fill="rgb(199,199,199)"/>
<circle cx="662.42" cy="30.39" r="2.45" fill="rgb(196,196,196)"/>
<circle cx="434.43" cy="134.61" r="1.86" fill="rgb(189,189,189)"/>
<circle cx="648.9" cy="289.41" r="2.59" fill="rgb(213,213,213)"/>
<circle cx="602.36" cy="225.86" r="1.61" fill="rgb(184,184,184)"/>
<circle cx="428.3" cy="258.31" r="1.85" fill="rgb(196,196,196)"/>
<circle cx="648.06" cy="126.87" r="2.52" fill="rgb(191,191,191)"/>
<circle cx="645.55" cy="87.9" r="1.76" fill="rgb(180,180,180)"/>
<circle cx="571.71" cy="45.15" r="1.99" fill="rgb(191,191,191)"/>
<circle cx="642.53" cy="266.08" r="1.85" fill="rgb(181,181,181)"/>
<circle cx="502.33" cy="255.02" r="1.73" fill="rgb(194,194,194)"/>
<circle cx="409.5" cy="141.44" r="1.46" fill="rgb(185,185,185)"/>
<circle cx="544.63" cy="73.33" r="1.76" fill="rgb(183,183,183)"/>
<circle cx="547" cy="130" r="3" fill="#c8c8c8"/>
<circle cx="553" cy="134" r="3" fill="#c8c8c8"/>
<circle cx="543" cy="137" r="3" fill="#c8c8c8"/>
<circle cx="420" cy="237" r="3" fill="#c8c8c8"/>
<circle cx="426" cy="240" r="3" fill="#c8c8c8"/>
<circle cx="416" cy="243" r="3" fill="#c8c8c8"/>
<circle cx="600" cy="172" r="3" fill="#c8c8c8"/>
<circle cx="606" cy="178" r="3" fill="#c8c8c8"/>
<circle cx="500" cy="187" r="3" fill="#c8c8c8"/>
<circle cx="508" cy="184" r="3" fill="#c8c8c8"/>
<circle cx="640" cy="45" r="3" fill="#c8c8c8"/>
<circle cx="647" cy="52" r="3" fill="#c8c8c8"/>
</g>
<rect x="396.2" y="29.5" width="270.1" height="267.5" fill="#000" filter="url(#grA)" opacity="0.8"/>
<rect x="396.2" y="29.5" width="270.1" height="267.5" fill="#000" filter="url(#grA2)"/>
<rect x="594.2" y="267.1" width="57.8" height="11.7" fill="#ffffff" />
<text x="596.3" y="261.2" font-size="23.6" text-anchor="start" font-weight="normal" fill="#ececec" stroke="#ececec" stroke-width="0.5" >1µm</text>
</g>
<g clip-path="url(#cpSE)">
<rect x="396.9" y="716.7" width="269.4" height="255.6" fill="#333333" />
<rect x="396.9" y="716.7" width="269.4" height="255.6" fill="#000" filter="url(#nzE)"/>
<rect x="396.9" y="716.7" width="269.4" height="255.6" fill="#000" filter="url(#nzE2)" opacity="0.6"/>
<rect x="396.9" y="716.7" width="269.4" height="255.6" fill="#000" filter="url(#nzE3)"/>
<rect x="396.9" y="716.7" width="269.4" height="255.6" fill="#000" filter="url(#nzE4)"/>
<ellipse cx="632" cy="850" rx="38" ry="55" fill="#2c2c2c" opacity="0.55" filter="url(#b4)"/>
<ellipse cx="640" cy="760" rx="30" ry="35" fill="#2c2c2c" opacity="0.35" filter="url(#b4)"/>
<g filter="url(#bS)">
<path d="M425.29 908.03 Q449.17 892.6 457.38 877.98" stroke="rgb(138,138,138)" stroke-width="3.14" fill="none" opacity="0.7" stroke-linecap="round"/>
<path d="M440.61 860.15 Q445.21 845.86 452.1 842.93" stroke="rgb(162,162,162)" stroke-width="2.8" fill="none" opacity="0.7" stroke-linecap="round"/>
<path d="M613.82 909.4 Q647 886.61 676.48 878.73" stroke="rgb(151,151,151)" stroke-width="2.13" fill="none" opacity="0.7" stroke-linecap="round"/>
<path d="M524.48 764.39 Q534.8 739.72 537.4 728.21" stroke="rgb(134,134,134)" stroke-width="2.89" fill="none" opacity="0.7" stroke-linecap="round"/>
<path d="M389.6 773.48 Q397.16 750.47 414.73 742.28" stroke="rgb(134,134,134)" stroke-width="2.99" fill="none" opacity="0.7" stroke-linecap="round"/>
<path d="M426.17 919.99 Q467.99 909.27 494.17 912.28" stroke="rgb(162,162,162)" stroke-width="2.5" fill="none" opacity="0.7" stroke-linecap="round"/>
<path d="M534.48 820.06 Q546.03 813.72 560.47 811.69" stroke="rgb(159,159,159)" stroke-width="2.32" fill="none" opacity="0.7" stroke-linecap="round"/>
<path d="M490.92 974.94 Q495.37 974.44 510.74 967.02" stroke="rgb(130,130,130)" stroke-width="3.17" fill="none" opacity="0.7" stroke-linecap="round"/>
<path d="M380.02 749.46 Q399.41 735.53 415.31 719.79" stroke="rgb(161,161,161)" stroke-width="2.6" fill="none" opacity="0.7" stroke-linecap="round"/>
<path d="M414.11 770.68 Q449.76 767.05 477.04 749.67" stroke="rgb(147,147,147)" stroke-width="1.99" fill="none" opacity="0.7" stroke-linecap="round"/>
<path d="M421.67 953.92 Q445.28 955.47 463.03 951.39" stroke="rgb(135,135,135)" stroke-width="3.04" fill="none" opacity="0.7" stroke-linecap="round"/>
<path d="M645.42 853.38 Q647.29 818.28 664.7 788.09" stroke="rgb(162,162,162)" stroke-width="2.41" fill="none" opacity="0.7" stroke-linecap="round"/>
<path d="M552.87 960.05 Q581.46 960.4 600.28 951.98" stroke="rgb(153,153,153)" stroke-width="2.37" fill="none" opacity="0.7" stroke-linecap="round"/>
<path d="M605.44 733.24 Q618.36 728.35 639.33 726.83" stroke="rgb(151,151,151)" stroke-width="2.99" fill="none" opacity="0.7" stroke-linecap="round"/>
<path d="M542.58 754.8 Q566.82 761.39 598.98 753.29" stroke="rgb(128,128,128)" stroke-width="2.44" fill="none" opacity="0.7" stroke-linecap="round"/>
<path d="M562.45 727.58 Q599.29 725.56 623.93 720.28" stroke="rgb(134,134,134)" stroke-width="2.28" fill="none" opacity="0.7" stroke-linecap="round"/>
<path d="M530.9 939.84 Q547.69 937.32 576.02 927.74" stroke="rgb(142,142,142)" stroke-width="2.21" fill="none" opacity="0.7" stroke-linecap="round"/>
<path d="M413.01 903.18 Q436.44 900.98 448.62 896.08" stroke="rgb(140,140,140)" stroke-width="2.01" fill="none" opacity="0.7" stroke-linecap="round"/>
<path d="M500.82 973.97 Q504.52 956.73 511.52 949.53" stroke="rgb(131,131,131)" stroke-width="2.63" fill="none" opacity="0.7" stroke-linecap="round"/>
<path d="M591.66 734.71 Q609.31 732.26 625.72 735.44" stroke="rgb(144,144,144)" stroke-width="2.39" fill="none" opacity="0.7" stroke-linecap="round"/>
<path d="M436.67 760.62 Q460.18 760.81 475.45 757.68" stroke="rgb(160,160,160)" stroke-width="2.41" fill="none" opacity="0.7" stroke-linecap="round"/>
<path d="M590.51 749.49 Q596.12 732.26 605 712.88" stroke="rgb(129,129,129)" stroke-width="2.97" fill="none" opacity="0.7" stroke-linecap="round"/>
<path d="M437.99 981.72 Q457.98 960.05 481.52 944.48" stroke="rgb(140,140,140)" stroke-width="3.04" fill="none" opacity="0.7" stroke-linecap="round"/>
<path d="M449.03 864.99 Q477.11 838.26 503.73 825.6" stroke="rgb(131,131,131)" stroke-width="2.55" fill="none" opacity="0.7" stroke-linecap="round"/>
<path d="M459.27 854.83 Q479.2 850.67 509.06 842.78" stroke="rgb(160,160,160)" stroke-width="2.12" fill="none" opacity="0.7" stroke-linecap="round"/>
<path d="M436.66 747.92 Q453.56 735.42 465.61 718.87" stroke="rgb(129,129,129)" stroke-width="2.89" fill="none" opacity="0.7" stroke-linecap="round"/>
<path d="M650.97 871.15 Q659.77 846 669.5 820.43" stroke="rgb(153,153,153)" stroke-width="3" fill="none" opacity="0.7" stroke-linecap="round"/>
<path d="M408.09 730.94 Q419.12 728.15 423.61 715.21" stroke="rgb(142,142,142)" stroke-width="2.76" fill="none" opacity="0.7" stroke-linecap="round"/>
<path d="M499.14 785.32 Q526.38 779.6 540.35 768.95" stroke="rgb(165,165,165)" stroke-width="1.66" fill="none" opacity="0.7" stroke-linecap="round"/>
<path d="M431.76 822.05 Q445.49 816.18 455.17 802.05" stroke="rgb(153,153,153)" stroke-width="2.67" fill="none" opacity="0.7" stroke-linecap="round"/>
<path d="M617.34 907.22 Q626.46 897.21 639.24 883.53" stroke="rgb(156,156,156)" stroke-width="2.92" fill="none" opacity="0.7" stroke-linecap="round"/>
<path d="M639.03 966.17 Q662.53 973 674.02 972.91" stroke="rgb(144,144,144)" stroke-width="1.75" fill="none" opacity="0.7" stroke-linecap="round"/>
<path d="M429.68 863.15 Q451.86 858.07 458.58 837.29" stroke="rgb(154,154,154)" stroke-width="1.87" fill="none" opacity="0.7" stroke-linecap="round"/>
<path d="M490.64 898.77 Q509.8 897.39 536.61 881.57" stroke="rgb(137,137,137)" stroke-width="2.12" fill="none" opacity="0.7" stroke-linecap="round"/>
<path d="M438.38 933.59 Q461.21 935.79 492.41 931.96" stroke="rgb(137,137,137)" stroke-width="2.75" fill="none" opacity="0.7" stroke-linecap="round"/>
<path d="M419.44 825.5 Q441.95 819.75 459.04 808.64" stroke="rgb(142,142,142)" stroke-width="2.59" fill="none" opacity="0.7" stroke-linecap="round"/>
<path d="M404.94 968.25 Q430.52 969.23 442.18 963.66" stroke="rgb(165,165,165)" stroke-width="1.63" fill="none" opacity="0.7" stroke-linecap="round"/>
<path d="M511.09 744.71 Q539.78 733.8 552.75 708.77" stroke="rgb(140,140,140)" stroke-width="1.84" fill="none" opacity="0.7" stroke-linecap="round"/>
<path d="M649.54 768.85 Q653.14 770.01 668.43 761.83" stroke="rgb(135,135,135)" stroke-width="2.92" fill="none" opacity="0.7" stroke-linecap="round"/>
<path d="M519.52 730.9 Q535.43 730.46 559.53 727.63" stroke="rgb(160,160,160)" stroke-width="2.92" fill="none" opacity="0.7" stroke-linecap="round"/>
<path d="M539.82 858.35 Q547.68 842.65 568.97 814.16" stroke="rgb(129,129,129)" stroke-width="2.8" fill="none" opacity="0.7" stroke-linecap="round"/>
<path d="M571.25 761.48 Q602.02 764.69 631.64 768.18" stroke="rgb(163,163,163)" stroke-width="2.69" fill="none" opacity="0.7" stroke-linecap="round"/>
<path d="M561.86 756.25 Q581.08 761.97 596.24 755.21" stroke="rgb(165,165,165)" stroke-width="1.71" fill="none" opacity="0.7" stroke-linecap="round"/>
<path d="M405.03 858.26 Q412.76 842.1 425.21 836.75" stroke="rgb(142,142,142)" stroke-width="2.54" fill="none" opacity="0.7" stroke-linecap="round"/>
<path d="M461.09 922.64 Q477.95 919.06 481.01 914.24" stroke="rgb(139,139,139)" stroke-width="2.25" fill="none" opacity="0.7" stroke-linecap="round"/>
<path d="M573.06 909.35 Q578.44 895.38 592.98 896.11" stroke="rgb(139,139,139)" stroke-width="2.16" fill="none" opacity="0.7" stroke-linecap="round"/>
<path d="M512.68 878.97 Q540.02 883.1 568.06 875.58" stroke="rgb(156,156,156)" stroke-width="2.31" fill="none" opacity="0.7" stroke-linecap="round"/>
<path d="M375.13 785.02 Q402.5 794.69 428.81 791.3" stroke="rgb(164,164,164)" stroke-width="3.15" fill="none" opacity="0.7" stroke-linecap="round"/>
<path d="M491.33 985.31 Q508.62 952.21 512.68 929.56" stroke="rgb(125,125,125)" stroke-width="2.02" fill="none" opacity="0.7" stroke-linecap="round"/>
<path d="M394.85 824.45 Q403.64 811.45 412.42 801.24" stroke="rgb(159,159,159)" stroke-width="1.96" fill="none" opacity="0.7" stroke-linecap="round"/>
<path d="M509.6 803.13 Q542.11 785.63 561.5 776.45" stroke="rgb(148,148,148)" stroke-width="2.56" fill="none" opacity="0.7" stroke-linecap="round"/>
<path d="M480.66 910.1 Q498.29 895.7 502.73 866.75" stroke="rgb(126,126,126)" stroke-width="2.81" fill="none" opacity="0.7" stroke-linecap="round"/>
<path d="M652.7 917.98 Q662.44 912.18 671.44 893.74" stroke="rgb(159,159,159)" stroke-width="2.42" fill="none" opacity="0.7" stroke-linecap="round"/>
<path d="M406.41 789.05 Q434.02 780.47 453.58 767.06" stroke="rgb(156,156,156)" stroke-width="2" fill="none" opacity="0.7" stroke-linecap="round"/>
<path d="M498.46 821.8 Q518.52 808.62 527.09 804.85" stroke="rgb(159,159,159)" stroke-width="2.86" fill="none" opacity="0.7" stroke-linecap="round"/>
<ellipse cx="477.2" cy="799.8" rx="7.7" ry="11.7" fill="#b4b4b4" opacity="0.8" transform="rotate(20 478.4 798.2)"/>
<ellipse cx="478.4" cy="798.2" rx="6.5" ry="10.5" fill="#0c0c0c" transform="rotate(20 478.4 798.2)"/>
<ellipse cx="496.8" cy="794.6" rx="6.2" ry="10.2" fill="#b4b4b4" opacity="0.8" transform="rotate(20 498 793)"/>
<ellipse cx="498" cy="793" rx="5" ry="9" fill="#0c0c0c" transform="rotate(20 498 793)"/>
<ellipse cx="572.8" cy="787.6" rx="10.2" ry="8.2" fill="#b4b4b4" opacity="0.8" transform="rotate(0 574 786)"/>
<ellipse cx="574" cy="786" rx="9" ry="7" fill="#0c0c0c" transform="rotate(0 574 786)"/>
<ellipse cx="560.8" cy="861.2" rx="14.2" ry="11.2" fill="#b4b4b4" opacity="0.8" transform="rotate(30 562 859.6)"/>
<ellipse cx="562" cy="859.6" rx="13" ry="10" fill="#0c0c0c" transform="rotate(30 562 859.6)"/>
<ellipse cx="543.8" cy="826.6" rx="8.2" ry="7.2" fill="#b4b4b4" opacity="0.8" transform="rotate(0 545 825)"/>
<ellipse cx="545" cy="825" rx="7" ry="6" fill="#0c0c0c" transform="rotate(0 545 825)"/>
<ellipse cx="653.8" cy="866.1" rx="8.2" ry="10.2" fill="#b4b4b4" opacity="0.8" transform="rotate(0 655 864.5)"/>
<ellipse cx="655" cy="864.5" rx="7" ry="9" fill="#0c0c0c" transform="rotate(0 655 864.5)"/>
<ellipse cx="494.4" cy="898.1" rx="9.2" ry="11.2" fill="#b4b4b4" opacity="0.8" transform="rotate(10 495.6 896.5)"/>
<ellipse cx="495.6" cy="896.5" rx="8" ry="10" fill="#0c0c0c" transform="rotate(10 495.6 896.5)"/>
<ellipse cx="530.8" cy="927.6" rx="9.2" ry="13.2" fill="#b4b4b4" opacity="0.8" transform="rotate(10 532 926)"/>
<ellipse cx="532" cy="926" rx="8" ry="12" fill="#0c0c0c" transform="rotate(10 532 926)"/>
<ellipse cx="548.4" cy="954.6" rx="8.2" ry="10.2" fill="#b4b4b4" opacity="0.8" transform="rotate(20 549.6 953)"/>
<ellipse cx="549.6" cy="953" rx="7" ry="9" fill="#0c0c0c" transform="rotate(20 549.6 953)"/>
<ellipse cx="572.8" cy="939.6" rx="7.2" ry="10.2" fill="#b4b4b4" opacity="0.8" transform="rotate(0 574 938)"/>
<ellipse cx="574" cy="938" rx="6" ry="9" fill="#0c0c0c" transform="rotate(0 574 938)"/>
<ellipse cx="410.8" cy="959.6" rx="9.2" ry="7.7" fill="#b4b4b4" opacity="0.8" transform="rotate(0 412 958)"/>
<ellipse cx="412" cy="958" rx="8" ry="6.5" fill="#0c0c0c" transform="rotate(0 412 958)"/>
<ellipse cx="516.5" cy="738.4" rx="6.7" ry="6.7" fill="#b4b4b4" opacity="0.8" transform="rotate(0 517.7 736.8)"/>
<ellipse cx="517.7" cy="736.8" rx="5.5" ry="5.5" fill="#0c0c0c" transform="rotate(0 517.7 736.8)"/>
<ellipse cx="503.8" cy="851.6" rx="8.2" ry="7.2" fill="#b4b4b4" opacity="0.8" transform="rotate(0 505 850)"/>
<ellipse cx="505" cy="850" rx="7" ry="6" fill="#0c0c0c" transform="rotate(0 505 850)"/>
<ellipse cx="553.8" cy="891.6" rx="9.2" ry="7.2" fill="#b4b4b4" opacity="0.8" transform="rotate(20 555 890)"/>
<ellipse cx="555" cy="890" rx="8" ry="6" fill="#0c0c0c" transform="rotate(20 555 890)"/>
<ellipse cx="558.8" cy="911.6" rx="7.2" ry="8.2" fill="#b4b4b4" opacity="0.8" transform="rotate(0 560 910)"/>
<ellipse cx="560" cy="910" rx="6" ry="7" fill="#0c0c0c" transform="rotate(0 560 910)"/>
<ellipse cx="443.8" cy="841.6" rx="8.2" ry="7.2" fill="#b4b4b4" opacity="0.8" transform="rotate(0 445 840)"/>
<ellipse cx="445" cy="840" rx="7" ry="6" fill="#0c0c0c" transform="rotate(0 445 840)"/>
<ellipse cx="428.8" cy="861.6" rx="6.2" ry="6.2" fill="#b4b4b4" opacity="0.8" transform="rotate(0 430 860)"/>
<ellipse cx="430" cy="860" rx="5" ry="5" fill="#0c0c0c" transform="rotate(0 430 860)"/>
<ellipse cx="464.8" cy="866.6" rx="6.2" ry="5.2" fill="#b4b4b4" opacity="0.8" transform="rotate(0 466 865)"/>
<ellipse cx="466" cy="865" rx="5" ry="4" fill="#0c0c0c" transform="rotate(0 466 865)"/>
<ellipse cx="598.8" cy="771.6" rx="7.2" ry="6.2" fill="#b4b4b4" opacity="0.8" transform="rotate(0 600 770)"/>
<ellipse cx="600" cy="770" rx="6" ry="5" fill="#0c0c0c" transform="rotate(0 600 770)"/>
<ellipse cx="538.8" cy="771.6" rx="7.2" ry="6.2" fill="#b4b4b4" opacity="0.8" transform="rotate(0 540 770)"/>
<ellipse cx="540" cy="770" rx="6" ry="5" fill="#0c0c0c" transform="rotate(0 540 770)"/>
<ellipse cx="518.8" cy="766.6" rx="6.2" ry="7.2" fill="#b4b4b4" opacity="0.8" transform="rotate(0 520 765)"/>
<ellipse cx="520" cy="765" rx="5" ry="6" fill="#0c0c0c" transform="rotate(0 520 765)"/>
<ellipse cx="558.8" cy="746.6" rx="6.2" ry="5.2" fill="#b4b4b4" opacity="0.8" transform="rotate(0 560 745)"/>
<ellipse cx="560" cy="745" rx="5" ry="4" fill="#0c0c0c" transform="rotate(0 560 745)"/>
<ellipse cx="583.8" cy="746.6" rx="5.2" ry="7.2" fill="#b4b4b4" opacity="0.8" transform="rotate(0 585 745)"/>
<ellipse cx="585" cy="745" rx="4" ry="6" fill="#0c0c0c" transform="rotate(0 585 745)"/>
<ellipse cx="648.8" cy="736.6" rx="5.2" ry="6.2" fill="#b4b4b4" opacity="0.8" transform="rotate(0 650 735)"/>
<ellipse cx="650" cy="735" rx="4" ry="5" fill="#0c0c0c" transform="rotate(0 650 735)"/>
<ellipse cx="608.8" cy="741.6" rx="6.2" ry="5.2" fill="#b4b4b4" opacity="0.8" transform="rotate(0 610 740)"/>
<ellipse cx="610" cy="740" rx="5" ry="4" fill="#0c0c0c" transform="rotate(0 610 740)"/>
<ellipse cx="418.8" cy="801.6" rx="6.2" ry="6.2" fill="#b4b4b4" opacity="0.8" transform="rotate(0 420 800)"/>
<ellipse cx="420" cy="800" rx="5" ry="5" fill="#0c0c0c" transform="rotate(0 420 800)"/>
<ellipse cx="406.8" cy="821.6" rx="5.2" ry="6.2" fill="#b4b4b4" opacity="0.8" transform="rotate(0 408 820)"/>
<ellipse cx="408" cy="820" rx="4" ry="5" fill="#0c0c0c" transform="rotate(0 408 820)"/>
<ellipse cx="408.8" cy="746.6" rx="6.2" ry="5.2" fill="#b4b4b4" opacity="0.8" transform="rotate(0 410 745)"/>
<ellipse cx="410" cy="745" rx="5" ry="4" fill="#0c0c0c" transform="rotate(0 410 745)"/>
<ellipse cx="598.8" cy="931.6" rx="6.2" ry="9.2" fill="#b4b4b4" opacity="0.8" transform="rotate(0 600 930)"/>
<ellipse cx="600" cy="930" rx="5" ry="8" fill="#0c0c0c" transform="rotate(0 600 930)"/>
<ellipse cx="623.8" cy="946.6" rx="7.2" ry="6.2" fill="#b4b4b4" opacity="0.8" transform="rotate(0 625 945)"/>
<ellipse cx="625" cy="945" rx="6" ry="5" fill="#0c0c0c" transform="rotate(0 625 945)"/>
<ellipse cx="468.8" cy="931.6" rx="6.2" ry="5.2" fill="#b4b4b4" opacity="0.8" transform="rotate(0 470 930)"/>
<ellipse cx="470" cy="930" rx="5" ry="4" fill="#0c0c0c" transform="rotate(0 470 930)"/>
<ellipse cx="448.8" cy="901.6" rx="6.2" ry="5.2" fill="#b4b4b4" opacity="0.8" transform="rotate(0 450 900)"/>
<ellipse cx="450" cy="900" rx="5" ry="4" fill="#0c0c0c" transform="rotate(0 450 900)"/>
<ellipse cx="478.8" cy="956.6" rx="6.2" ry="5.2" fill="#b4b4b4" opacity="0.8" transform="rotate(0 480 955)"/>
<ellipse cx="480" cy="955" rx="5" ry="4" fill="#0c0c0c" transform="rotate(0 480 955)"/>
<ellipse cx="643.8" cy="911.6" rx="6.2" ry="7.2" fill="#b4b4b4" opacity="0.8" transform="rotate(0 645 910)"/>
<ellipse cx="645" cy="910" rx="5" ry="6" fill="#0c0c0c" transform="rotate(0 645 910)"/>
<ellipse cx="618.8" cy="821.6" rx="7.2" ry="7.2" fill="#b4b4b4" opacity="0.8" transform="rotate(0 620 820)"/>
<ellipse cx="620" cy="820" rx="6" ry="6" fill="#0c0c0c" transform="rotate(0 620 820)"/>
<ellipse cx="583.8" cy="841.6" rx="6.2" ry="6.2" fill="#b4b4b4" opacity="0.8" transform="rotate(0 585 840)"/>
<ellipse cx="585" cy="840" rx="5" ry="5" fill="#0c0c0c" transform="rotate(0 585 840)"/>
<ellipse cx="528.8" cy="801.6" rx="5.2" ry="5.2" fill="#b4b4b4" opacity="0.8" transform="rotate(0 530 800)"/>
<ellipse cx="530" cy="800" rx="4" ry="4" fill="#0c0c0c" transform="rotate(0 530 800)"/>
<ellipse cx="508.8" cy="881.6" rx="5.2" ry="5.2" fill="#b4b4b4" opacity="0.8" transform="rotate(0 510 880)"/>
<ellipse cx="510" cy="880" rx="4" ry="4" fill="#0c0c0c" transform="rotate(0 510 880)"/>
<ellipse cx="573.8" cy="881.6" rx="6.2" ry="6.2" fill="#b4b4b4" opacity="0.8" transform="rotate(0 575 880)"/>
<ellipse cx="575" cy="880" rx="5" ry="5" fill="#0c0c0c" transform="rotate(0 575 880)"/>
<ellipse cx="588.8" cy="906.6" rx="5.2" ry="5.2" fill="#b4b4b4" opacity="0.8" transform="rotate(0 590 905)"/>
<ellipse cx="590" cy="905" rx="4" ry="4" fill="#0c0c0c" transform="rotate(0 590 905)"/>
<ellipse cx="487.56" cy="831.32" rx="4.12" ry="3.73" fill="#b4b4b4" opacity="0.8" transform="rotate(19.71 488.76 829.72)"/>
<ellipse cx="488.76" cy="829.72" rx="2.92" ry="2.53" fill="#0c0c0c" transform="rotate(19.71 488.76 829.72)"/>
<ellipse cx="441.14" cy="757.53" rx="3.48" ry="5.27" fill="#b4b4b4" opacity="0.8" transform="rotate(78 442.34 755.93)"/>
<ellipse cx="442.34" cy="755.93" rx="2.28" ry="4.07" fill="#0c0c0c" transform="rotate(78 442.34 755.93)"/>
<ellipse cx="477.23" cy="928.41" rx="4.5" ry="4.57" fill="#b4b4b4" opacity="0.8" transform="rotate(78.29 478.43 926.81)"/>
<ellipse cx="478.43" cy="926.81" rx="3.3" ry="3.37" fill="#0c0c0c" transform="rotate(78.29 478.43 926.81)"/>
<ellipse cx="544.34" cy="911.74" rx="5.01" ry="3.47" fill="#b4b4b4" opacity="0.8" transform="rotate(82.48 545.54 910.14)"/>
<ellipse cx="545.54" cy="910.14" rx="3.81" ry="2.27" fill="#0c0c0c" transform="rotate(82.48 545.54 910.14)"/>
<ellipse cx="434.26" cy="804.94" rx="4.25" ry="4.75" fill="#b4b4b4" opacity="0.8" transform="rotate(40.31 435.46 803.34)"/>
<ellipse cx="435.46" cy="803.34" rx="3.05" ry="3.55" fill="#0c0c0c" transform="rotate(40.31 435.46 803.34)"/>
<ellipse cx="587.54" cy="739.81" rx="4.02" ry="3.65" fill="#b4b4b4" opacity="0.8" transform="rotate(59.03 588.74 738.21)"/>
<ellipse cx="588.74" cy="738.21" rx="2.82" ry="2.45" fill="#0c0c0c" transform="rotate(59.03 588.74 738.21)"/>
<ellipse cx="591.63" cy="835.9" rx="3.7" ry="5.55" fill="#b4b4b4" opacity="0.8" transform="rotate(53.58 592.83 834.3)"/>
<ellipse cx="592.83" cy="834.3" rx="2.5" ry="4.35" fill="#0c0c0c" transform="rotate(53.58 592.83 834.3)"/>
<ellipse cx="486.8" cy="932.44" rx="5.19" ry="4" fill="#b4b4b4" opacity="0.8" transform="rotate(11.69 488 930.84)"/>
<ellipse cx="488" cy="930.84" rx="3.99" ry="2.8" fill="#0c0c0c" transform="rotate(11.69 488 930.84)"/>
<ellipse cx="596.2" cy="953.85" rx="3.65" ry="4.88" fill="#b4b4b4" opacity="0.8" transform="rotate(58.14 597.4 952.25)"/>
<ellipse cx="597.4" cy="952.25" rx="2.45" ry="3.68" fill="#0c0c0c" transform="rotate(58.14 597.4 952.25)"/>
<ellipse cx="534.05" cy="755.46" rx="5.25" ry="4.59" fill="#b4b4b4" opacity="0.8" transform="rotate(2.89 535.25 753.86)"/>
<ellipse cx="535.25" cy="753.86" rx="4.05" ry="3.39" fill="#0c0c0c" transform="rotate(2.89 535.25 753.86)"/>
<ellipse cx="635.08" cy="950.44" rx="4.65" ry="3.42" fill="#b4b4b4" opacity="0.8" transform="rotate(75.85 636.28 948.84)"/>
<ellipse cx="636.28" cy="948.84" rx="3.45" ry="2.22" fill="#0c0c0c" transform="rotate(75.85 636.28 948.84)"/>
<ellipse cx="473.87" cy="787.28" rx="5.38" ry="3.55" fill="#b4b4b4" opacity="0.8" transform="rotate(68.05 475.07 785.68)"/>
<ellipse cx="475.07" cy="785.68" rx="4.18" ry="2.35" fill="#0c0c0c" transform="rotate(68.05 475.07 785.68)"/>
<ellipse cx="557.03" cy="848.82" rx="5.79" ry="3.96" fill="#b4b4b4" opacity="0.8" transform="rotate(63.4 558.23 847.22)"/>
<ellipse cx="558.23" cy="847.22" rx="4.59" ry="2.76" fill="#0c0c0c" transform="rotate(63.4 558.23 847.22)"/>
<ellipse cx="527.24" cy="855.39" rx="4.72" ry="4.44" fill="#b4b4b4" opacity="0.8" transform="rotate(1.92 528.44 853.79)"/>
<ellipse cx="528.44" cy="853.79" rx="3.52" ry="3.24" fill="#0c0c0c" transform="rotate(1.92 528.44 853.79)"/>
<ellipse cx="648.31" cy="757.61" rx="4.36" ry="4.46" fill="#b4b4b4" opacity="0.8" transform="rotate(58.31 649.51 756.01)"/>
<ellipse cx="649.51" cy="756.01" rx="3.16" ry="3.26" fill="#0c0c0c" transform="rotate(58.31 649.51 756.01)"/>
<ellipse cx="587.64" cy="867.45" rx="4.45" ry="3.96" fill="#b4b4b4" opacity="0.8" transform="rotate(76.7 588.84 865.85)"/>
<ellipse cx="588.84" cy="865.85" rx="3.25" ry="2.76" fill="#0c0c0c" transform="rotate(76.7 588.84 865.85)"/>
<ellipse cx="634.35" cy="931.17" rx="5.26" ry="5.57" fill="#b4b4b4" opacity="0.8" transform="rotate(67.42 635.55 929.57)"/>
<ellipse cx="635.55" cy="929.57" rx="4.06" ry="4.37" fill="#0c0c0c" transform="rotate(67.42 635.55 929.57)"/>
<ellipse cx="489.84" cy="760.53" rx="3.43" ry="4.05" fill="#b4b4b4" opacity="0.8" transform="rotate(62.31 491.04 758.93)"/>
<ellipse cx="491.04" cy="758.93" rx="2.23" ry="2.85" fill="#0c0c0c" transform="rotate(62.31 491.04 758.93)"/>
<ellipse cx="477.93" cy="961.12" rx="4.5" ry="3.88" fill="#b4b4b4" opacity="0.8" transform="rotate(0.93 479.13 959.52)"/>
<ellipse cx="479.13" cy="959.52" rx="3.3" ry="2.68" fill="#0c0c0c" transform="rotate(0.93 479.13 959.52)"/>
<ellipse cx="441.02" cy="760.21" rx="4.72" ry="3.8" fill="#b4b4b4" opacity="0.8" transform="rotate(57.9 442.22 758.61)"/>
<ellipse cx="442.22" cy="758.61" rx="3.52" ry="2.6" fill="#0c0c0c" transform="rotate(57.9 442.22 758.61)"/>
<ellipse cx="564" cy="752.58" rx="3.7" ry="5.08" fill="#b4b4b4" opacity="0.8" transform="rotate(18.74 565.2 750.98)"/>
<ellipse cx="565.2" cy="750.98" rx="2.5" ry="3.88" fill="#0c0c0c" transform="rotate(18.74 565.2 750.98)"/>
<ellipse cx="404.4" cy="915.41" rx="3.93" ry="4.76" fill="#b4b4b4" opacity="0.8" transform="rotate(22.03 405.6 913.81)"/>
<ellipse cx="405.6" cy="913.81" rx="2.73" ry="3.56" fill="#0c0c0c" transform="rotate(22.03 405.6 913.81)"/>
<ellipse cx="512.58" cy="917.56" rx="5.63" ry="5.08" fill="#b4b4b4" opacity="0.8" transform="rotate(73.13 513.78 915.96)"/>
<ellipse cx="513.78" cy="915.96" rx="4.43" ry="3.88" fill="#0c0c0c" transform="rotate(73.13 513.78 915.96)"/>
<ellipse cx="504.18" cy="959.89" rx="5.34" ry="5.05" fill="#b4b4b4" opacity="0.8" transform="rotate(79.6 505.38 958.29)"/>
<ellipse cx="505.38" cy="958.29" rx="4.14" ry="3.85" fill="#0c0c0c" transform="rotate(79.6 505.38 958.29)"/>
<ellipse cx="508.9" cy="865.18" rx="3.51" ry="4.37" fill="#b4b4b4" opacity="0.8" transform="rotate(72.59 510.1 863.58)"/>
<ellipse cx="510.1" cy="863.58" rx="2.31" ry="3.17" fill="#0c0c0c" transform="rotate(72.59 510.1 863.58)"/>
<ellipse cx="525.74" cy="731.7" rx="4.94" ry="5.27" fill="#b4b4b4" opacity="0.8" transform="rotate(23.12 526.94 730.1)"/>
<ellipse cx="526.94" cy="730.1" rx="3.74" ry="4.07" fill="#0c0c0c" transform="rotate(23.12 526.94 730.1)"/>
<ellipse cx="523.02" cy="787.12" rx="5.38" ry="4.09" fill="#b4b4b4" opacity="0.8" transform="rotate(33.4 524.22 785.52)"/>
<ellipse cx="524.22" cy="785.52" rx="4.18" ry="2.89" fill="#0c0c0c" transform="rotate(33.4 524.22 785.52)"/>
<ellipse cx="528.04" cy="787.69" rx="5.6" ry="4.1" fill="#b4b4b4" opacity="0.8" transform="rotate(10.39 529.24 786.09)"/>
<ellipse cx="529.24" cy="786.09" rx="4.4" ry="2.9" fill="#0c0c0c" transform="rotate(10.39 529.24 786.09)"/>
<ellipse cx="552.59" cy="842.82" rx="5.37" ry="3.73" fill="#b4b4b4" opacity="0.8" transform="rotate(64.91 553.79 841.22)"/>
<ellipse cx="553.79" cy="841.22" rx="4.17" ry="2.53" fill="#0c0c0c" transform="rotate(64.91 553.79 841.22)"/>
<ellipse cx="481.2" cy="818.98" rx="4.05" ry="5.03" fill="#b4b4b4" opacity="0.8" transform="rotate(81.59 482.4 817.38)"/>
<ellipse cx="482.4" cy="817.38" rx="2.85" ry="3.83" fill="#0c0c0c" transform="rotate(81.59 482.4 817.38)"/>
<ellipse cx="412.53" cy="906.95" rx="5.39" ry="4.63" fill="#b4b4b4" opacity="0.8" transform="rotate(9.57 413.73 905.35)"/>
<ellipse cx="413.73" cy="905.35" rx="4.19" ry="3.43" fill="#0c0c0c" transform="rotate(9.57 413.73 905.35)"/>
<ellipse cx="653.84" cy="776.27" rx="5.52" ry="5.14" fill="#b4b4b4" opacity="0.8" transform="rotate(4.21 655.04 774.67)"/>
<ellipse cx="655.04" cy="774.67" rx="4.32" ry="3.94" fill="#0c0c0c" transform="rotate(4.21 655.04 774.67)"/>
<ellipse cx="563.38" cy="872.9" rx="4.44" ry="5.25" fill="#b4b4b4" opacity="0.8" transform="rotate(1.69 564.58 871.3)"/>
<ellipse cx="564.58" cy="871.3" rx="3.24" ry="4.05" fill="#0c0c0c" transform="rotate(1.69 564.58 871.3)"/>
<ellipse cx="531.12" cy="762.59" rx="3.92" ry="3.8" fill="#b4b4b4" opacity="0.8" transform="rotate(86.73 532.32 760.99)"/>
<ellipse cx="532.32" cy="760.99" rx="2.72" ry="2.6" fill="#0c0c0c" transform="rotate(86.73 532.32 760.99)"/>
<ellipse cx="403.13" cy="913.82" rx="5.44" ry="5.71" fill="#b4b4b4" opacity="0.8" transform="rotate(22.38 404.33 912.22)"/>
<ellipse cx="404.33" cy="912.22" rx="4.24" ry="4.51" fill="#0c0c0c" transform="rotate(22.38 404.33 912.22)"/>
<ellipse cx="492.4" cy="931.75" rx="3.86" ry="5.08" fill="#b4b4b4" opacity="0.8" transform="rotate(80.91 493.6 930.15)"/>
<ellipse cx="493.6" cy="930.15" rx="2.66" ry="3.88" fill="#0c0c0c" transform="rotate(80.91 493.6 930.15)"/>
<ellipse cx="447.17" cy="813.58" rx="3.74" ry="4.28" fill="#b4b4b4" opacity="0.8" transform="rotate(81.24 448.37 811.98)"/>
<ellipse cx="448.37" cy="811.98" rx="2.54" ry="3.08" fill="#0c0c0c" transform="rotate(81.24 448.37 811.98)"/>
<ellipse cx="570.1" cy="793.55" rx="5.2" ry="5.07" fill="#b4b4b4" opacity="0.8" transform="rotate(66.15 571.3 791.95)"/>
<ellipse cx="571.3" cy="791.95" rx="4" ry="3.87" fill="#0c0c0c" transform="rotate(66.15 571.3 791.95)"/>
<ellipse cx="420.23" cy="736.77" rx="5.13" ry="4.13" fill="#b4b4b4" opacity="0.8" transform="rotate(50.39 421.43 735.17)"/>
<ellipse cx="421.43" cy="735.17" rx="3.93" ry="2.93" fill="#0c0c0c" transform="rotate(50.39 421.43 735.17)"/>
<ellipse cx="614.34" cy="916.11" rx="5.13" ry="3.47" fill="#b4b4b4" opacity="0.8" transform="rotate(52.01 615.54 914.51)"/>
<ellipse cx="615.54" cy="914.51" rx="3.93" ry="2.27" fill="#0c0c0c" transform="rotate(52.01 615.54 914.51)"/>
<ellipse cx="639.21" cy="774.76" rx="5.76" ry="5.24" fill="#b4b4b4" opacity="0.8" transform="rotate(20.75 640.41 773.16)"/>
<ellipse cx="640.41" cy="773.16" rx="4.56" ry="4.04" fill="#0c0c0c" transform="rotate(20.75 640.41 773.16)"/>
<ellipse cx="431.39" cy="728.34" rx="3.9" ry="4.3" fill="#b4b4b4" opacity="0.8" transform="rotate(17.08 432.59 726.74)"/>
<ellipse cx="432.59" cy="726.74" rx="2.7" ry="3.1" fill="#0c0c0c" transform="rotate(17.08 432.59 726.74)"/>
<ellipse cx="569.85" cy="887.16" rx="3.91" ry="3.8" fill="#b4b4b4" opacity="0.8" transform="rotate(81.2 571.05 885.56)"/>
<ellipse cx="571.05" cy="885.56" rx="2.71" ry="2.6" fill="#0c0c0c" transform="rotate(81.2 571.05 885.56)"/>
<ellipse cx="499.23" cy="952.22" rx="5.25" ry="4.65" fill="#b4b4b4" opacity="0.8" transform="rotate(4.36 500.43 950.62)"/>
<ellipse cx="500.43" cy="950.62" rx="4.05" ry="3.45" fill="#0c0c0c" transform="rotate(4.36 500.43 950.62)"/>
<ellipse cx="586.11" cy="909.08" rx="3.8" ry="3.67" fill="#b4b4b4" opacity="0.8" transform="rotate(42.6 587.31 907.48)"/>
<ellipse cx="587.31" cy="907.48" rx="2.6" ry="2.47" fill="#0c0c0c" transform="rotate(42.6 587.31 907.48)"/>
<ellipse cx="419.17" cy="803.45" rx="3.82" ry="4.8" fill="#b4b4b4" opacity="0.8" transform="rotate(58.75 420.37 801.85)"/>
<ellipse cx="420.37" cy="801.85" rx="2.62" ry="3.6" fill="#0c0c0c" transform="rotate(58.75 420.37 801.85)"/>
<ellipse cx="627.7" cy="794.44" rx="5.24" ry="5.68" fill="#b4b4b4" opacity="0.8" transform="rotate(49.87 628.9 792.84)"/>
<ellipse cx="628.9" cy="792.84" rx="4.04" ry="4.48" fill="#0c0c0c" transform="rotate(49.87 628.9 792.84)"/>
<ellipse cx="472.7" cy="723.67" rx="4.38" ry="5.3" fill="#b4b4b4" opacity="0.8" transform="rotate(78.99 473.9 722.07)"/>
<ellipse cx="473.9" cy="722.07" rx="3.18" ry="4.1" fill="#0c0c0c" transform="rotate(78.99 473.9 722.07)"/>
<ellipse cx="520.8" cy="947" rx="5.52" ry="4.04" fill="#b4b4b4" opacity="0.8" transform="rotate(31.43 522 945.4)"/>
<ellipse cx="522" cy="945.4" rx="4.32" ry="2.84" fill="#0c0c0c" transform="rotate(31.43 522 945.4)"/>
<ellipse cx="538.22" cy="883.59" rx="4.91" ry="3.89" fill="#b4b4b4" opacity="0.8" transform="rotate(14.49 539.42 881.99)"/>
<ellipse cx="539.42" cy="881.99" rx="3.71" ry="2.69" fill="#0c0c0c" transform="rotate(14.49 539.42 881.99)"/>
<ellipse cx="423.66" cy="918.99" rx="3.79" ry="5.72" fill="#b4b4b4" opacity="0.8" transform="rotate(3.89 424.86 917.39)"/>
<ellipse cx="424.86" cy="917.39" rx="2.59" ry="4.52" fill="#0c0c0c" transform="rotate(3.89 424.86 917.39)"/>
<ellipse cx="605.98" cy="893.96" rx="4.61" ry="3.5" fill="#b4b4b4" opacity="0.8" transform="rotate(2.62 607.18 892.36)"/>
<ellipse cx="607.18" cy="892.36" rx="3.41" ry="2.3" fill="#0c0c0c" transform="rotate(2.62 607.18 892.36)"/>
<ellipse cx="484.62" cy="891.4" rx="3.96" ry="3.71" fill="#b4b4b4" opacity="0.8" transform="rotate(29.02 485.82 889.8)"/>
<ellipse cx="485.82" cy="889.8" rx="2.76" ry="2.51" fill="#0c0c0c" transform="rotate(29.02 485.82 889.8)"/>
<ellipse cx="587.18" cy="872.67" rx="3.88" ry="3.82" fill="#b4b4b4" opacity="0.8" transform="rotate(65.87 588.38 871.07)"/>
<ellipse cx="588.38" cy="871.07" rx="2.68" ry="2.62" fill="#0c0c0c" transform="rotate(65.87 588.38 871.07)"/>
<ellipse cx="507.48" cy="803.1" rx="5.15" ry="4.32" fill="#b4b4b4" opacity="0.8" transform="rotate(71.54 508.68 801.5)"/>
<ellipse cx="508.68" cy="801.5" rx="3.95" ry="3.12" fill="#0c0c0c" transform="rotate(71.54 508.68 801.5)"/>
<ellipse cx="477.17" cy="952.03" rx="3.5" ry="4.12" fill="#b4b4b4" opacity="0.8" transform="rotate(20.49 478.37 950.43)"/>
<ellipse cx="478.37" cy="950.43" rx="2.3" ry="2.92" fill="#0c0c0c" transform="rotate(20.49 478.37 950.43)"/>
<ellipse cx="614.39" cy="912.9" rx="3.85" ry="5.69" fill="#b4b4b4" opacity="0.8" transform="rotate(55.61 615.59 911.3)"/>
<ellipse cx="615.59" cy="911.3" rx="2.65" ry="4.49" fill="#0c0c0c" transform="rotate(55.61 615.59 911.3)"/>
<ellipse cx="634.92" cy="837.21" rx="5.11" ry="5.64" fill="#b4b4b4" opacity="0.8" transform="rotate(16.5 636.12 835.61)"/>
<ellipse cx="636.12" cy="835.61" rx="3.91" ry="4.44" fill="#0c0c0c" transform="rotate(16.5 636.12 835.61)"/>
<ellipse cx="587.73" cy="830.81" rx="3.52" ry="4.31" fill="#b4b4b4" opacity="0.8" transform="rotate(43.82 588.93 829.21)"/>
<ellipse cx="588.93" cy="829.21" rx="2.32" ry="3.11" fill="#0c0c0c" transform="rotate(43.82 588.93 829.21)"/>
<ellipse cx="635.35" cy="859.83" rx="5.57" ry="5.64" fill="#b4b4b4" opacity="0.8" transform="rotate(73.54 636.55 858.23)"/>
<ellipse cx="636.55" cy="858.23" rx="4.37" ry="4.44" fill="#0c0c0c" transform="rotate(73.54 636.55 858.23)"/>
<ellipse cx="637.42" cy="874.9" rx="3.42" ry="5.24" fill="#b4b4b4" opacity="0.8" transform="rotate(88.91 638.62 873.3)"/>
<ellipse cx="638.62" cy="873.3" rx="2.22" ry="4.04" fill="#0c0c0c" transform="rotate(88.91 638.62 873.3)"/>
<ellipse cx="535.89" cy="901.01" rx="3.4" ry="5.53" fill="#b4b4b4" opacity="0.8" transform="rotate(78.44 537.09 899.41)"/>
<ellipse cx="537.09" cy="899.41" rx="2.2" ry="4.33" fill="#0c0c0c" transform="rotate(78.44 537.09 899.41)"/>
<ellipse cx="657.49" cy="959.84" rx="3.62" ry="4.38" fill="#b4b4b4" opacity="0.8" transform="rotate(88.53 658.69 958.24)"/>
<ellipse cx="658.69" cy="958.24" rx="2.42" ry="3.18" fill="#0c0c0c" transform="rotate(88.53 658.69 958.24)"/>
<ellipse cx="625.41" cy="917.39" rx="4.57" ry="4.04" fill="#b4b4b4" opacity="0.8" transform="rotate(50.91 626.61 915.79)"/>
<ellipse cx="626.61" cy="915.79" rx="3.37" ry="2.84" fill="#0c0c0c" transform="rotate(50.91 626.61 915.79)"/>
<ellipse cx="566.83" cy="963.01" rx="4.12" ry="5.63" fill="#b4b4b4" opacity="0.8" transform="rotate(12.8 568.03 961.41)"/>
<ellipse cx="568.03" cy="961.41" rx="2.92" ry="4.43" fill="#0c0c0c" transform="rotate(12.8 568.03 961.41)"/>
<ellipse cx="639.77" cy="884.17" rx="4.74" ry="5.25" fill="#b4b4b4" opacity="0.8" transform="rotate(35.32 640.97 882.57)"/>
<ellipse cx="640.97" cy="882.57" rx="3.54" ry="4.05" fill="#0c0c0c" transform="rotate(35.32 640.97 882.57)"/>
<ellipse cx="594.37" cy="813.46" rx="4.63" ry="5.59" fill="#b4b4b4" opacity="0.8" transform="rotate(57.73 595.57 811.86)"/>
<ellipse cx="595.57" cy="811.86" rx="3.43" ry="4.39" fill="#0c0c0c" transform="rotate(57.73 595.57 811.86)"/>
<ellipse cx="631.95" cy="836.22" rx="4.53" ry="4.64" fill="#b4b4b4" opacity="0.8" transform="rotate(21.75 633.15 834.62)"/>
<ellipse cx="633.15" cy="834.62" rx="3.33" ry="3.44" fill="#0c0c0c" transform="rotate(21.75 633.15 834.62)"/>
<ellipse cx="543.81" cy="791.52" rx="3.87" ry="4.77" fill="#b4b4b4" opacity="0.8" transform="rotate(28.51 545.01 789.92)"/>
<ellipse cx="545.01" cy="789.92" rx="2.67" ry="3.57" fill="#0c0c0c" transform="rotate(28.51 545.01 789.92)"/>
<ellipse cx="553.84" cy="841.99" rx="4.41" ry="3.95" fill="#b4b4b4" opacity="0.8" transform="rotate(80.81 555.04 840.39)"/>
<ellipse cx="555.04" cy="840.39" rx="3.21" ry="2.75" fill="#0c0c0c" transform="rotate(80.81 555.04 840.39)"/>
</g>
<rect x="594.2" y="943.6" width="57.8" height="11.7" fill="#ffffff" />
<text x="595.3" y="937.2" font-size="23.6" text-anchor="start" font-weight="normal" fill="#ffffff" stroke="#ffffff" stroke-width="0.6" >1µm</text>
</g>
<g clip-path="url(#cpG1)"><g filter="url(#b1)">
<rect x="103.2" y="1047.5" width="275" height="304" fill="url(#gG1)" />
<rect x="103.2" y="1274" width="72" height="80" fill="#2a8ab8" />
<rect x="104" y="1047" width="66" height="227.6" fill="#f6e6d6" />
<line x1="104" y1="1271" x2="123.8" y2="1271" stroke="#4a4860" stroke-width="1.5" opacity="0.9"/>
<line x1="150.2" y1="1271" x2="170" y2="1271" stroke="#4a4860" stroke-width="1.5" opacity="0.9"/>
<line x1="104" y1="1266.18" x2="112.58" y2="1266.18" stroke="#4a4860" stroke-width="1.6" opacity="0.72"/>
<line x1="161.42" y1="1266.18" x2="170" y2="1266.18" stroke="#4a4860" stroke-width="1.6" opacity="0.72"/>
<line x1="104" y1="1261.36" x2="112.58" y2="1261.36" stroke="#4a4860" stroke-width="1.6" opacity="0.72"/>
<line x1="161.42" y1="1261.36" x2="170" y2="1261.36" stroke="#4a4860" stroke-width="1.6" opacity="0.72"/>
<line x1="104" y1="1256.54" x2="112.58" y2="1256.54" stroke="#4a4860" stroke-width="1.6" opacity="0.72"/>
<line x1="161.42" y1="1256.54" x2="170" y2="1256.54" stroke="#4a4860" stroke-width="1.6" opacity="0.72"/>
<line x1="104" y1="1251.72" x2="112.58" y2="1251.72" stroke="#4a4860" stroke-width="1.6" opacity="0.72"/>
<line x1="161.42" y1="1251.72" x2="170" y2="1251.72" stroke="#4a4860" stroke-width="1.6" opacity="0.72"/>
<line x1="104" y1="1246.9" x2="117.86" y2="1246.9" stroke="#4a4860" stroke-width="1.3" opacity="0.9"/>
<line x1="156.14" y1="1246.9" x2="170" y2="1246.9" stroke="#4a4860" stroke-width="1.3" opacity="0.9"/>
<line x1="104" y1="1242.08" x2="112.58" y2="1242.08" stroke="#4a4860" stroke-width="1.6" opacity="0.72"/>
<line x1="161.42" y1="1242.08" x2="170" y2="1242.08" stroke="#4a4860" stroke-width="1.6" opacity="0.72"/>
<line x1="104" y1="1237.26" x2="112.58" y2="1237.26" stroke="#4a4860" stroke-width="1.6" opacity="0.72"/>
<line x1="161.42" y1="1237.26" x2="170" y2="1237.26" stroke="#4a4860" stroke-width="1.6" opacity="0.72"/>
<line x1="104" y1="1232.44" x2="112.58" y2="1232.44" stroke="#4a4860" stroke-width="1.6" opacity="0.72"/>
<line x1="161.42" y1="1232.44" x2="170" y2="1232.44" stroke="#4a4860" stroke-width="1.6" opacity="0.72"/>
<line x1="104" y1="1227.62" x2="112.58" y2="1227.62" stroke="#4a4860" stroke-width="1.6" opacity="0.72"/>
<line x1="161.42" y1="1227.62" x2="170" y2="1227.62" stroke="#4a4860" stroke-width="1.6" opacity="0.72"/>
<line x1="104" y1="1222.8" x2="123.8" y2="1222.8" stroke="#4a4860" stroke-width="1.5" opacity="0.9"/>
<line x1="150.2" y1="1222.8" x2="170" y2="1222.8" stroke="#4a4860" stroke-width="1.5" opacity="0.9"/>
<line x1="104" y1="1217.98" x2="112.58" y2="1217.98" stroke="#4a4860" stroke-width="1.6" opacity="0.72"/>
<line x1="161.42" y1="1217.98" x2="170" y2="1217.98" stroke="#4a4860" stroke-width="1.6" opacity="0.72"/>
<line x1="104" y1="1213.16" x2="112.58" y2="1213.16" stroke="#4a4860" stroke-width="1.6" opacity="0.72"/>
<line x1="161.42" y1="1213.16" x2="170" y2="1213.16" stroke="#4a4860" stroke-width="1.6" opacity="0.72"/>
<line x1="104" y1="1208.34" x2="112.58" y2="1208.34" stroke="#4a4860" stroke-width="1.6" opacity="0.72"/>
<line x1="161.42" y1="1208.34" x2="170" y2="1208.34" stroke="#4a4860" stroke-width="1.6" opacity="0.72"/>
<line x1="104" y1="1203.52" x2="112.58" y2="1203.52" stroke="#4a4860" stroke-width="1.6" opacity="0.72"/>
<line x1="161.42" y1="1203.52" x2="170" y2="1203.52" stroke="#4a4860" stroke-width="1.6" opacity="0.72"/>
<line x1="104" y1="1198.7" x2="117.86" y2="1198.7" stroke="#4a4860" stroke-width="1.3" opacity="0.9"/>
<line x1="156.14" y1="1198.7" x2="170" y2="1198.7" stroke="#4a4860" stroke-width="1.3" opacity="0.9"/>
<line x1="104" y1="1193.88" x2="112.58" y2="1193.88" stroke="#4a4860" stroke-width="1.6" opacity="0.72"/>
<line x1="161.42" y1="1193.88" x2="170" y2="1193.88" stroke="#4a4860" stroke-width="1.6" opacity="0.72"/>
<line x1="104" y1="1189.06" x2="112.58" y2="1189.06" stroke="#4a4860" stroke-width="1.6" opacity="0.72"/>
<line x1="161.42" y1="1189.06" x2="170" y2="1189.06" stroke="#4a4860" stroke-width="1.6" opacity="0.72"/>
<line x1="104" y1="1184.24" x2="112.58" y2="1184.24" stroke="#4a4860" stroke-width="1.6" opacity="0.72"/>
<line x1="161.42" y1="1184.24" x2="170" y2="1184.24" stroke="#4a4860" stroke-width="1.6" opacity="0.72"/>
<line x1="104" y1="1179.42" x2="112.58" y2="1179.42" stroke="#4a4860" stroke-width="1.6" opacity="0.72"/>
<line x1="161.42" y1="1179.42" x2="170" y2="1179.42" stroke="#4a4860" stroke-width="1.6" opacity="0.72"/>
<line x1="104" y1="1174.6" x2="123.8" y2="1174.6" stroke="#4a4860" stroke-width="1.5" opacity="0.9"/>
<line x1="150.2" y1="1174.6" x2="170" y2="1174.6" stroke="#4a4860" stroke-width="1.5" opacity="0.9"/>
<line x1="104" y1="1169.78" x2="112.58" y2="1169.78" stroke="#4a4860" stroke-width="1.6" opacity="0.72"/>
<line x1="161.42" y1="1169.78" x2="170" y2="1169.78" stroke="#4a4860" stroke-width="1.6" opacity="0.72"/>
<line x1="104" y1="1164.96" x2="112.58" y2="1164.96" stroke="#4a4860" stroke-width="1.6" opacity="0.72"/>
<line x1="161.42" y1="1164.96" x2="170" y2="1164.96" stroke="#4a4860" stroke-width="1.6" opacity="0.72"/>
<line x1="104" y1="1160.14" x2="112.58" y2="1160.14" stroke="#4a4860" stroke-width="1.6" opacity="0.72"/>
<line x1="161.42" y1="1160.14" x2="170" y2="1160.14" stroke="#4a4860" stroke-width="1.6" opacity="0.72"/>
<line x1="104" y1="1155.32" x2="112.58" y2="1155.32" stroke="#4a4860" stroke-width="1.6" opacity="0.72"/>
<line x1="161.42" y1="1155.32" x2="170" y2="1155.32" stroke="#4a4860" stroke-width="1.6" opacity="0.72"/>
<line x1="104" y1="1150.5" x2="117.86" y2="1150.5" stroke="#4a4860" stroke-width="1.3" opacity="0.9"/>
<line x1="156.14" y1="1150.5" x2="170" y2="1150.5" stroke="#4a4860" stroke-width="1.3" opacity="0.9"/>
<line x1="104" y1="1145.68" x2="112.58" y2="1145.68" stroke="#4a4860" stroke-width="1.6" opacity="0.72"/>
<line x1="161.42" y1="1145.68" x2="170" y2="1145.68" stroke="#4a4860" stroke-width="1.6" opacity="0.72"/>
<line x1="104" y1="1140.86" x2="112.58" y2="1140.86" stroke="#4a4860" stroke-width="1.6" opacity="0.72"/>
<line x1="161.42" y1="1140.86" x2="170" y2="1140.86" stroke="#4a4860" stroke-width="1.6" opacity="0.72"/>
<line x1="104" y1="1136.04" x2="112.58" y2="1136.04" stroke="#4a4860" stroke-width="1.6" opacity="0.72"/>
<line x1="161.42" y1="1136.04" x2="170" y2="1136.04" stroke="#4a4860" stroke-width="1.6" opacity="0.72"/>
<line x1="104" y1="1131.22" x2="112.58" y2="1131.22" stroke="#4a4860" stroke-width="1.6" opacity="0.72"/>
<line x1="161.42" y1="1131.22" x2="170" y2="1131.22" stroke="#4a4860" stroke-width="1.6" opacity="0.72"/>
<line x1="104" y1="1126.4" x2="123.8" y2="1126.4" stroke="#4a4860" stroke-width="1.5" opacity="0.9"/>
<line x1="150.2" y1="1126.4" x2="170" y2="1126.4" stroke="#4a4860" stroke-width="1.5" opacity="0.9"/>
<line x1="104" y1="1121.58" x2="112.58" y2="1121.58" stroke="#4a4860" stroke-width="1.6" opacity="0.72"/>
<line x1="161.42" y1="1121.58" x2="170" y2="1121.58" stroke="#4a4860" stroke-width="1.6" opacity="0.72"/>
<line x1="104" y1="1116.76" x2="112.58" y2="1116.76" stroke="#4a4860" stroke-width="1.6" opacity="0.72"/>
<line x1="161.42" y1="1116.76" x2="170" y2="1116.76" stroke="#4a4860" stroke-width="1.6" opacity="0.72"/>
<line x1="104" y1="1111.94" x2="112.58" y2="1111.94" stroke="#4a4860" stroke-width="1.6" opacity="0.72"/>
<line x1="161.42" y1="1111.94" x2="170" y2="1111.94" stroke="#4a4860" stroke-width="1.6" opacity="0.72"/>
<line x1="104" y1="1107.12" x2="112.58" y2="1107.12" stroke="#4a4860" stroke-width="1.6" opacity="0.72"/>
<line x1="161.42" y1="1107.12" x2="170" y2="1107.12" stroke="#4a4860" stroke-width="1.6" opacity="0.72"/>
<line x1="104" y1="1102.3" x2="117.86" y2="1102.3" stroke="#4a4860" stroke-width="1.3" opacity="0.9"/>
<line x1="156.14" y1="1102.3" x2="170" y2="1102.3" stroke="#4a4860" stroke-width="1.3" opacity="0.9"/>
<line x1="104" y1="1097.48" x2="112.58" y2="1097.48" stroke="#4a4860" stroke-width="1.6" opacity="0.72"/>
<line x1="161.42" y1="1097.48" x2="170" y2="1097.48" stroke="#4a4860" stroke-width="1.6" opacity="0.72"/>
<line x1="104" y1="1092.66" x2="112.58" y2="1092.66" stroke="#4a4860" stroke-width="1.6" opacity="0.72"/>
<line x1="161.42" y1="1092.66" x2="170" y2="1092.66" stroke="#4a4860" stroke-width="1.6" opacity="0.72"/>
<line x1="104" y1="1087.84" x2="112.58" y2="1087.84" stroke="#4a4860" stroke-width="1.6" opacity="0.72"/>
<line x1="161.42" y1="1087.84" x2="170" y2="1087.84" stroke="#4a4860" stroke-width="1.6" opacity="0.72"/>
<line x1="104" y1="1083.02" x2="112.58" y2="1083.02" stroke="#4a4860" stroke-width="1.6" opacity="0.72"/>
<line x1="161.42" y1="1083.02" x2="170" y2="1083.02" stroke="#4a4860" stroke-width="1.6" opacity="0.72"/>
<line x1="104" y1="1078.2" x2="123.8" y2="1078.2" stroke="#4a4860" stroke-width="1.5" opacity="0.9"/>
<line x1="150.2" y1="1078.2" x2="170" y2="1078.2" stroke="#4a4860" stroke-width="1.5" opacity="0.9"/>
<line x1="104" y1="1073.38" x2="112.58" y2="1073.38" stroke="#4a4860" stroke-width="1.6" opacity="0.72"/>
<line x1="161.42" y1="1073.38" x2="170" y2="1073.38" stroke="#4a4860" stroke-width="1.6" opacity="0.72"/>
<line x1="104" y1="1068.56" x2="112.58" y2="1068.56" stroke="#4a4860" stroke-width="1.6" opacity="0.72"/>
<line x1="161.42" y1="1068.56" x2="170" y2="1068.56" stroke="#4a4860" stroke-width="1.6" opacity="0.72"/>
<line x1="104" y1="1063.74" x2="112.58" y2="1063.74" stroke="#4a4860" stroke-width="1.6" opacity="0.72"/>
<line x1="161.42" y1="1063.74" x2="170" y2="1063.74" stroke="#4a4860" stroke-width="1.6" opacity="0.72"/>
<line x1="104" y1="1058.92" x2="112.58" y2="1058.92" stroke="#4a4860" stroke-width="1.6" opacity="0.72"/>
<line x1="161.42" y1="1058.92" x2="170" y2="1058.92" stroke="#4a4860" stroke-width="1.6" opacity="0.72"/>
<line x1="104" y1="1054.1" x2="117.86" y2="1054.1" stroke="#4a4860" stroke-width="1.3" opacity="0.9"/>
<line x1="156.14" y1="1054.1" x2="170" y2="1054.1" stroke="#4a4860" stroke-width="1.3" opacity="0.9"/>
<line x1="104" y1="1049.28" x2="112.58" y2="1049.28" stroke="#4a4860" stroke-width="1.6" opacity="0.72"/>
<line x1="161.42" y1="1049.28" x2="170" y2="1049.28" stroke="#4a4860" stroke-width="1.6" opacity="0.72"/>
<text x="145.96" y="1271" font-size="21" text-anchor="middle" font-weight="bold" fill="#202020" transform="rotate(-90 145.96 1271)" font-family="Liberation Serif">0</text>
<text x="145.96" y="1226.8" font-size="21" text-anchor="start" font-weight="bold" fill="#202020" transform="rotate(-90 145.96 1226.8)" font-family="Liberation Serif">1<tspan font-size="17.22">cm</tspan></text>
<text x="145.96" y="1174.6" font-size="21" text-anchor="middle" font-weight="bold" fill="#202020" transform="rotate(-90 145.96 1174.6)" font-family="Liberation Serif">2</text>
<text x="145.96" y="1126.4" font-size="21" text-anchor="middle" font-weight="bold" fill="#202020" transform="rotate(-90 145.96 1126.4)" font-family="Liberation Serif">3</text>
<text x="145.96" y="1078.2" font-size="21" text-anchor="middle" font-weight="bold" fill="#202020" transform="rotate(-90 145.96 1078.2)" font-family="Liberation Serif">4</text>
<ellipse cx="273.2" cy="1168.5" rx="102.5" ry="109" fill="#b7d0dc" />
<ellipse cx="273.2" cy="1168.5" rx="100" ry="106.5" fill="#9dc0d3" />
<ellipse cx="273.7" cy="1168.5" rx="97" ry="103.5" fill="#c3d9e2" />
<ellipse cx="274.2" cy="1168.5" rx="94" ry="100.5" fill="#8fb7cf" />
<ellipse cx="274.2" cy="1168.5" rx="91.5" ry="98" fill="#b0cddb" />
<ellipse cx="274.7" cy="1168.5" rx="89" ry="95.5" fill="#74a5c8" />
<ellipse cx="275.2" cy="1168.5" rx="85.5" ry="92" fill="url(#gDa)" />
<ellipse cx="271.2" cy="1229.54" rx="56.38" ry="21.8" fill="#9cc3d8" opacity="0.5" filter="url(#b4)"/>
<ellipse cx="276.2" cy="1170.5" rx="78.5" ry="84" fill="none" stroke="#b9d5e2" stroke-width="1.6" opacity="0.6"/>
<ellipse cx="275.7" cy="1157" rx="53" ry="54" fill="url(#gPa)" filter="url(#b1)"/>
<rect x="166.3" y="1274.6" width="211.7" height="68.8" fill="#f8e7d6" />
<line x1="168.79" y1="1274.6" x2="168.79" y2="1282.51" stroke="#464660" stroke-width="1.5" opacity="0.72"/>
<line x1="168.79" y1="1336.52" x2="168.79" y2="1343.4" stroke="#464660" stroke-width="1.5" opacity="0.72"/>
<line x1="173.7" y1="1274.6" x2="173.7" y2="1295.24" stroke="#464660" stroke-width="1.5" opacity="0.9"/>
<line x1="173.7" y1="1322.07" x2="173.7" y2="1343.4" stroke="#464660" stroke-width="1.5" opacity="0.9"/>
<line x1="178.61" y1="1274.6" x2="178.61" y2="1282.51" stroke="#464660" stroke-width="1.5" opacity="0.72"/>
<line x1="178.61" y1="1336.52" x2="178.61" y2="1343.4" stroke="#464660" stroke-width="1.5" opacity="0.72"/>
<line x1="183.52" y1="1274.6" x2="183.52" y2="1282.51" stroke="#464660" stroke-width="1.5" opacity="0.72"/>
<line x1="183.52" y1="1336.52" x2="183.52" y2="1343.4" stroke="#464660" stroke-width="1.5" opacity="0.72"/>
<line x1="188.43" y1="1274.6" x2="188.43" y2="1282.51" stroke="#464660" stroke-width="1.5" opacity="0.72"/>
<line x1="188.43" y1="1336.52" x2="188.43" y2="1343.4" stroke="#464660" stroke-width="1.5" opacity="0.72"/>
<line x1="193.34" y1="1274.6" x2="193.34" y2="1282.51" stroke="#464660" stroke-width="1.5" opacity="0.72"/>
<line x1="193.34" y1="1336.52" x2="193.34" y2="1343.4" stroke="#464660" stroke-width="1.5" opacity="0.72"/>
<line x1="198.25" y1="1274.6" x2="198.25" y2="1289.05" stroke="#464660" stroke-width="1.3" opacity="0.9"/>
<line x1="198.25" y1="1329.64" x2="198.25" y2="1343.4" stroke="#464660" stroke-width="1.3" opacity="0.9"/>
<line x1="203.16" y1="1274.6" x2="203.16" y2="1282.51" stroke="#464660" stroke-width="1.5" opacity="0.72"/>
<line x1="203.16" y1="1336.52" x2="203.16" y2="1343.4" stroke="#464660" stroke-width="1.5" opacity="0.72"/>
<line x1="208.07" y1="1274.6" x2="208.07" y2="1282.51" stroke="#464660" stroke-width="1.5" opacity="0.72"/>
<line x1="208.07" y1="1336.52" x2="208.07" y2="1343.4" stroke="#464660" stroke-width="1.5" opacity="0.72"/>
<line x1="212.98" y1="1274.6" x2="212.98" y2="1282.51" stroke="#464660" stroke-width="1.5" opacity="0.72"/>
<line x1="212.98" y1="1336.52" x2="212.98" y2="1343.4" stroke="#464660" stroke-width="1.5" opacity="0.72"/>
<line x1="217.89" y1="1274.6" x2="217.89" y2="1282.51" stroke="#464660" stroke-width="1.5" opacity="0.72"/>
<line x1="217.89" y1="1336.52" x2="217.89" y2="1343.4" stroke="#464660" stroke-width="1.5" opacity="0.72"/>
<line x1="222.8" y1="1274.6" x2="222.8" y2="1295.24" stroke="#464660" stroke-width="1.5" opacity="0.9"/>
<line x1="222.8" y1="1322.07" x2="222.8" y2="1343.4" stroke="#464660" stroke-width="1.5" opacity="0.9"/>
<line x1="227.71" y1="1274.6" x2="227.71" y2="1282.51" stroke="#464660" stroke-width="1.5" opacity="0.72"/>
<line x1="227.71" y1="1336.52" x2="227.71" y2="1343.4" stroke="#464660" stroke-width="1.5" opacity="0.72"/>
<line x1="232.62" y1="1274.6" x2="232.62" y2="1282.51" stroke="#464660" stroke-width="1.5" opacity="0.72"/>
<line x1="232.62" y1="1336.52" x2="232.62" y2="1343.4" stroke="#464660" stroke-width="1.5" opacity="0.72"/>
<line x1="237.53" y1="1274.6" x2="237.53" y2="1282.51" stroke="#464660" stroke-width="1.5" opacity="0.72"/>
<line x1="237.53" y1="1336.52" x2="237.53" y2="1343.4" stroke="#464660" stroke-width="1.5" opacity="0.72"/>
<line x1="242.44" y1="1274.6" x2="242.44" y2="1282.51" stroke="#464660" stroke-width="1.5" opacity="0.72"/>
<line x1="242.44" y1="1336.52" x2="242.44" y2="1343.4" stroke="#464660" stroke-width="1.5" opacity="0.72"/>
<line x1="247.35" y1="1274.6" x2="247.35" y2="1289.05" stroke="#464660" stroke-width="1.3" opacity="0.9"/>
<line x1="247.35" y1="1329.64" x2="247.35" y2="1343.4" stroke="#464660" stroke-width="1.3" opacity="0.9"/>
<line x1="252.26" y1="1274.6" x2="252.26" y2="1282.51" stroke="#464660" stroke-width="1.5" opacity="0.72"/>
<line x1="252.26" y1="1336.52" x2="252.26" y2="1343.4" stroke="#464660" stroke-width="1.5" opacity="0.72"/>
<line x1="257.17" y1="1274.6" x2="257.17" y2="1282.51" stroke="#464660" stroke-width="1.5" opacity="0.72"/>
<line x1="257.17" y1="1336.52" x2="257.17" y2="1343.4" stroke="#464660" stroke-width="1.5" opacity="0.72"/>
<line x1="262.08" y1="1274.6" x2="262.08" y2="1282.51" stroke="#464660" stroke-width="1.5" opacity="0.72"/>
<line x1="262.08" y1="1336.52" x2="262.08" y2="1343.4" stroke="#464660" stroke-width="1.5" opacity="0.72"/>
<line x1="266.99" y1="1274.6" x2="266.99" y2="1282.51" stroke="#464660" stroke-width="1.5" opacity="0.72"/>
<line x1="266.99" y1="1336.52" x2="266.99" y2="1343.4" stroke="#464660" stroke-width="1.5" opacity="0.72"/>
<line x1="271.9" y1="1274.6" x2="271.9" y2="1295.24" stroke="#464660" stroke-width="1.5" opacity="0.9"/>
<line x1="271.9" y1="1322.07" x2="271.9" y2="1343.4" stroke="#464660" stroke-width="1.5" opacity="0.9"/>
<line x1="276.81" y1="1274.6" x2="276.81" y2="1282.51" stroke="#464660" stroke-width="1.5" opacity="0.72"/>
<line x1="276.81" y1="1336.52" x2="276.81" y2="1343.4" stroke="#464660" stroke-width="1.5" opacity="0.72"/>
<line x1="281.72" y1="1274.6" x2="281.72" y2="1282.51" stroke="#464660" stroke-width="1.5" opacity="0.72"/>
<line x1="281.72" y1="1336.52" x2="281.72" y2="1343.4" stroke="#464660" stroke-width="1.5" opacity="0.72"/>
<line x1="286.63" y1="1274.6" x2="286.63" y2="1282.51" stroke="#464660" stroke-width="1.5" opacity="0.72"/>
<line x1="286.63" y1="1336.52" x2="286.63" y2="1343.4" stroke="#464660" stroke-width="1.5" opacity="0.72"/>
<line x1="291.54" y1="1274.6" x2="291.54" y2="1282.51" stroke="#464660" stroke-width="1.5" opacity="0.72"/>
<line x1="291.54" y1="1336.52" x2="291.54" y2="1343.4" stroke="#464660" stroke-width="1.5" opacity="0.72"/>
<line x1="296.45" y1="1274.6" x2="296.45" y2="1289.05" stroke="#464660" stroke-width="1.3" opacity="0.9"/>
<line x1="296.45" y1="1329.64" x2="296.45" y2="1343.4" stroke="#464660" stroke-width="1.3" opacity="0.9"/>
<line x1="301.36" y1="1274.6" x2="301.36" y2="1282.51" stroke="#464660" stroke-width="1.5" opacity="0.72"/>
<line x1="301.36" y1="1336.52" x2="301.36" y2="1343.4" stroke="#464660" stroke-width="1.5" opacity="0.72"/>
<line x1="306.27" y1="1274.6" x2="306.27" y2="1282.51" stroke="#464660" stroke-width="1.5" opacity="0.72"/>
<line x1="306.27" y1="1336.52" x2="306.27" y2="1343.4" stroke="#464660" stroke-width="1.5" opacity="0.72"/>
<line x1="311.18" y1="1274.6" x2="311.18" y2="1282.51" stroke="#464660" stroke-width="1.5" opacity="0.72"/>
<line x1="311.18" y1="1336.52" x2="311.18" y2="1343.4" stroke="#464660" stroke-width="1.5" opacity="0.72"/>
<line x1="316.09" y1="1274.6" x2="316.09" y2="1282.51" stroke="#464660" stroke-width="1.5" opacity="0.72"/>
<line x1="316.09" y1="1336.52" x2="316.09" y2="1343.4" stroke="#464660" stroke-width="1.5" opacity="0.72"/>
<line x1="321" y1="1274.6" x2="321" y2="1295.24" stroke="#464660" stroke-width="1.5" opacity="0.9"/>
<line x1="321" y1="1322.07" x2="321" y2="1343.4" stroke="#464660" stroke-width="1.5" opacity="0.9"/>
<line x1="325.91" y1="1274.6" x2="325.91" y2="1282.51" stroke="#464660" stroke-width="1.5" opacity="0.72"/>
<line x1="325.91" y1="1336.52" x2="325.91" y2="1343.4" stroke="#464660" stroke-width="1.5" opacity="0.72"/>
<line x1="330.82" y1="1274.6" x2="330.82" y2="1282.51" stroke="#464660" stroke-width="1.5" opacity="0.72"/>
<line x1="330.82" y1="1336.52" x2="330.82" y2="1343.4" stroke="#464660" stroke-width="1.5" opacity="0.72"/>
<line x1="335.73" y1="1274.6" x2="335.73" y2="1282.51" stroke="#464660" stroke-width="1.5" opacity="0.72"/>
<line x1="335.73" y1="1336.52" x2="335.73" y2="1343.4" stroke="#464660" stroke-width="1.5" opacity="0.72"/>
<line x1="340.64" y1="1274.6" x2="340.64" y2="1282.51" stroke="#464660" stroke-width="1.5" opacity="0.72"/>
<line x1="340.64" y1="1336.52" x2="340.64" y2="1343.4" stroke="#464660" stroke-width="1.5" opacity="0.72"/>
<line x1="345.55" y1="1274.6" x2="345.55" y2="1289.05" stroke="#464660" stroke-width="1.3" opacity="0.9"/>
<line x1="345.55" y1="1329.64" x2="345.55" y2="1343.4" stroke="#464660" stroke-width="1.3" opacity="0.9"/>
<line x1="350.46" y1="1274.6" x2="350.46" y2="1282.51" stroke="#464660" stroke-width="1.5" opacity="0.72"/>
<line x1="350.46" y1="1336.52" x2="350.46" y2="1343.4" stroke="#464660" stroke-width="1.5" opacity="0.72"/>
<line x1="355.37" y1="1274.6" x2="355.37" y2="1282.51" stroke="#464660" stroke-width="1.5" opacity="0.72"/>
<line x1="355.37" y1="1336.52" x2="355.37" y2="1343.4" stroke="#464660" stroke-width="1.5" opacity="0.72"/>
<line x1="360.28" y1="1274.6" x2="360.28" y2="1282.51" stroke="#464660" stroke-width="1.5" opacity="0.72"/>
<line x1="360.28" y1="1336.52" x2="360.28" y2="1343.4" stroke="#464660" stroke-width="1.5" opacity="0.72"/>
<line x1="365.19" y1="1274.6" x2="365.19" y2="1282.51" stroke="#464660" stroke-width="1.5" opacity="0.72"/>
<line x1="365.19" y1="1336.52" x2="365.19" y2="1343.4" stroke="#464660" stroke-width="1.5" opacity="0.72"/>
<line x1="370.1" y1="1274.6" x2="370.1" y2="1295.24" stroke="#464660" stroke-width="1.5" opacity="0.9"/>
<line x1="370.1" y1="1322.07" x2="370.1" y2="1343.4" stroke="#464660" stroke-width="1.5" opacity="0.9"/>
<line x1="375.01" y1="1274.6" x2="375.01" y2="1282.51" stroke="#464660" stroke-width="1.5" opacity="0.72"/>
<line x1="375.01" y1="1336.52" x2="375.01" y2="1343.4" stroke="#464660" stroke-width="1.5" opacity="0.72"/>
<text x="173.7" y="1316.4" font-size="23" text-anchor="middle" font-weight="bold" fill="#202020" font-family="Liberation Serif">0</text>
<text x="218.8" y="1316.4" font-size="23" text-anchor="start" font-weight="bold" fill="#202020" font-family="Liberation Serif">1<tspan font-size="18.86">cm</tspan></text>
<text x="271.9" y="1316.4" font-size="23" text-anchor="middle" font-weight="bold" fill="#202020" font-family="Liberation Serif">2</text>
<text x="321" y="1316.4" font-size="23" text-anchor="middle" font-weight="bold" fill="#202020" font-family="Liberation Serif">3</text>
<text x="370.1" y="1316.4" font-size="23" text-anchor="middle" font-weight="bold" fill="#202020" font-family="Liberation Serif">4</text>
<path d="M196 1147 q-6 -10 2 -16 m-2 8 l10 -4 m-6 -12 q0 -10 9 -12 m2 10 q4 -10 10 -10 l4 8 l6 -12 m12 -14 q-6 -2 -6 6 q4 4 8 -2 m4 -8 q-4 4 0 8 q6 0 4 -8 m6 -6 l2 10 m4 -14 l2 12 m4 -14 q6 6 -2 12" fill="none" stroke="#6a2348" stroke-width="2.2" stroke-linecap="round" stroke-linejoin="round" opacity="0.9"/>
<path d="M271 1146 L263 1162 L279 1166 Z" fill="none" stroke="#ffffff" stroke-width="1.2" stroke-dasharray="0.8 2" stroke-linecap="round" opacity="0.95"/>
<path d="M351 1120 q6 30 0 60" fill="none" stroke="#eaf6fa" stroke-width="3" stroke-linecap="round" opacity="0.8"/>
<path d="M282 1077 l0 -10 l20 2" fill="none" stroke="#e8f2f6" stroke-width="1.6" opacity="0.8"/>
</g></g>
<g clip-path="url(#cpG2)"><g filter="url(#b1)">
<rect x="432.7" y="1047" width="215.3" height="305.2" fill="#2f95c4" />
<ellipse cx="540" cy="1167.5" rx="104.5" ry="108.5" fill="#b7d0dc" />
<ellipse cx="540" cy="1167.5" rx="102" ry="106" fill="#9dc0d3" />
<ellipse cx="540.5" cy="1167.5" rx="99" ry="103" fill="#c3d9e2" />
<ellipse cx="541" cy="1167.5" rx="96" ry="100" fill="#8fb7cf" />
<ellipse cx="541" cy="1167.5" rx="93.5" ry="97.5" fill="#b0cddb" />
<ellipse cx="541.5" cy="1167.5" rx="91" ry="95" fill="#74a5c8" />
<ellipse cx="542" cy="1167.5" rx="87.5" ry="91.5" fill="url(#gDb)" />
<ellipse cx="538" cy="1228.26" rx="57.48" ry="21.7" fill="#9cc3d8" opacity="0.5" filter="url(#b4)"/>
<ellipse cx="543" cy="1169.5" rx="80.5" ry="83.5" fill="none" stroke="#b9d5e2" stroke-width="1.6" opacity="0.6"/>
<ellipse cx="543" cy="1165.5" rx="64" ry="65" fill="url(#gPb)" filter="url(#b4)"/>
<rect x="432" y="1272.7" width="216" height="74" fill="#f8ead4" />
<line x1="433.59" y1="1272.7" x2="433.59" y2="1281.21" stroke="#464660" stroke-width="1.5" opacity="0.72"/>
<line x1="433.59" y1="1339.3" x2="433.59" y2="1346.7" stroke="#464660" stroke-width="1.5" opacity="0.72"/>
<line x1="438.6" y1="1272.7" x2="438.6" y2="1294.9" stroke="#464660" stroke-width="1.5" opacity="0.9"/>
<line x1="438.6" y1="1323.76" x2="438.6" y2="1346.7" stroke="#464660" stroke-width="1.5" opacity="0.9"/>
<line x1="443.61" y1="1272.7" x2="443.61" y2="1281.21" stroke="#464660" stroke-width="1.5" opacity="0.72"/>
<line x1="443.61" y1="1339.3" x2="443.61" y2="1346.7" stroke="#464660" stroke-width="1.5" opacity="0.72"/>
<line x1="448.62" y1="1272.7" x2="448.62" y2="1281.21" stroke="#464660" stroke-width="1.5" opacity="0.72"/>
<line x1="448.62" y1="1339.3" x2="448.62" y2="1346.7" stroke="#464660" stroke-width="1.5" opacity="0.72"/>
<line x1="453.63" y1="1272.7" x2="453.63" y2="1281.21" stroke="#464660" stroke-width="1.5" opacity="0.72"/>
<line x1="453.63" y1="1339.3" x2="453.63" y2="1346.7" stroke="#464660" stroke-width="1.5" opacity="0.72"/>
<line x1="458.64" y1="1272.7" x2="458.64" y2="1281.21" stroke="#464660" stroke-width="1.5" opacity="0.72"/>
<line x1="458.64" y1="1339.3" x2="458.64" y2="1346.7" stroke="#464660" stroke-width="1.5" opacity="0.72"/>
<line x1="463.65" y1="1272.7" x2="463.65" y2="1288.24" stroke="#464660" stroke-width="1.3" opacity="0.9"/>
<line x1="463.65" y1="1331.9" x2="463.65" y2="1346.7" stroke="#464660" stroke-width="1.3" opacity="0.9"/>
<line x1="468.66" y1="1272.7" x2="468.66" y2="1281.21" stroke="#464660" stroke-width="1.5" opacity="0.72"/>
<line x1="468.66" y1="1339.3" x2="468.66" y2="1346.7" stroke="#464660" stroke-width="1.5" opacity="0.72"/>
<line x1="473.67" y1="1272.7" x2="473.67" y2="1281.21" stroke="#464660" stroke-width="1.5" opacity="0.72"/>
<line x1="473.67" y1="1339.3" x2="473.67" y2="1346.7" stroke="#464660" stroke-width="1.5" opacity="0.72"/>
<line x1="478.68" y1="1272.7" x2="478.68" y2="1281.21" stroke="#464660" stroke-width="1.5" opacity="0.72"/>
<line x1="478.68" y1="1339.3" x2="478.68" y2="1346.7" stroke="#464660" stroke-width="1.5" opacity="0.72"/>
<line x1="483.69" y1="1272.7" x2="483.69" y2="1281.21" stroke="#464660" stroke-width="1.5" opacity="0.72"/>
<line x1="483.69" y1="1339.3" x2="483.69" y2="1346.7" stroke="#464660" stroke-width="1.5" opacity="0.72"/>
<line x1="488.7" y1="1272.7" x2="488.7" y2="1294.9" stroke="#464660" stroke-width="1.5" opacity="0.9"/>
<line x1="488.7" y1="1323.76" x2="488.7" y2="1346.7" stroke="#464660" stroke-width="1.5" opacity="0.9"/>
<line x1="493.71" y1="1272.7" x2="493.71" y2="1281.21" stroke="#464660" stroke-width="1.5" opacity="0.72"/>
<line x1="493.71" y1="1339.3" x2="493.71" y2="1346.7" stroke="#464660" stroke-width="1.5" opacity="0.72"/>
<line x1="498.72" y1="1272.7" x2="498.72" y2="1281.21" stroke="#464660" stroke-width="1.5" opacity="0.72"/>
<line x1="498.72" y1="1339.3" x2="498.72" y2="1346.7" stroke="#464660" stroke-width="1.5" opacity="0.72"/>
<line x1="503.73" y1="1272.7" x2="503.73" y2="1281.21" stroke="#464660" stroke-width="1.5" opacity="0.72"/>
<line x1="503.73" y1="1339.3" x2="503.73" y2="1346.7" stroke="#464660" stroke-width="1.5" opacity="0.72"/>
<line x1="508.74" y1="1272.7" x2="508.74" y2="1281.21" stroke="#464660" stroke-width="1.5" opacity="0.72"/>
<line x1="508.74" y1="1339.3" x2="508.74" y2="1346.7" stroke="#464660" stroke-width="1.5" opacity="0.72"/>
<line x1="513.75" y1="1272.7" x2="513.75" y2="1288.24" stroke="#464660" stroke-width="1.3" opacity="0.9"/>
<line x1="513.75" y1="1331.9" x2="513.75" y2="1346.7" stroke="#464660" stroke-width="1.3" opacity="0.9"/>
<line x1="518.76" y1="1272.7" x2="518.76" y2="1281.21" stroke="#464660" stroke-width="1.5" opacity="0.72"/>
<line x1="518.76" y1="1339.3" x2="518.76" y2="1346.7" stroke="#464660" stroke-width="1.5" opacity="0.72"/>
<line x1="523.77" y1="1272.7" x2="523.77" y2="1281.21" stroke="#464660" stroke-width="1.5" opacity="0.72"/>
<line x1="523.77" y1="1339.3" x2="523.77" y2="1346.7" stroke="#464660" stroke-width="1.5" opacity="0.72"/>
<line x1="528.78" y1="1272.7" x2="528.78" y2="1281.21" stroke="#464660" stroke-width="1.5" opacity="0.72"/>
<line x1="528.78" y1="1339.3" x2="528.78" y2="1346.7" stroke="#464660" stroke-width="1.5" opacity="0.72"/>
<line x1="533.79" y1="1272.7" x2="533.79" y2="1281.21" stroke="#464660" stroke-width="1.5" opacity="0.72"/>
<line x1="533.79" y1="1339.3" x2="533.79" y2="1346.7" stroke="#464660" stroke-width="1.5" opacity="0.72"/>
<line x1="538.8" y1="1272.7" x2="538.8" y2="1294.9" stroke="#464660" stroke-width="1.5" opacity="0.9"/>
<line x1="538.8" y1="1323.76" x2="538.8" y2="1346.7" stroke="#464660" stroke-width="1.5" opacity="0.9"/>
<line x1="543.81" y1="1272.7" x2="543.81" y2="1281.21" stroke="#464660" stroke-width="1.5" opacity="0.72"/>
<line x1="543.81" y1="1339.3" x2="543.81" y2="1346.7" stroke="#464660" stroke-width="1.5" opacity="0.72"/>
<line x1="548.82" y1="1272.7" x2="548.82" y2="1281.21" stroke="#464660" stroke-width="1.5" opacity="0.72"/>
<line x1="548.82" y1="1339.3" x2="548.82" y2="1346.7" stroke="#464660" stroke-width="1.5" opacity="0.72"/>
<line x1="553.83" y1="1272.7" x2="553.83" y2="1281.21" stroke="#464660" stroke-width="1.5" opacity="0.72"/>
<line x1="553.83" y1="1339.3" x2="553.83" y2="1346.7" stroke="#464660" stroke-width="1.5" opacity="0.72"/>
<line x1="558.84" y1="1272.7" x2="558.84" y2="1281.21" stroke="#464660" stroke-width="1.5" opacity="0.72"/>
<line x1="558.84" y1="1339.3" x2="558.84" y2="1346.7" stroke="#464660" stroke-width="1.5" opacity="0.72"/>
<line x1="563.85" y1="1272.7" x2="563.85" y2="1288.24" stroke="#464660" stroke-width="1.3" opacity="0.9"/>
<line x1="563.85" y1="1331.9" x2="563.85" y2="1346.7" stroke="#464660" stroke-width="1.3" opacity="0.9"/>
<line x1="568.86" y1="1272.7" x2="568.86" y2="1281.21" stroke="#464660" stroke-width="1.5" opacity="0.72"/>
<line x1="568.86" y1="1339.3" x2="568.86" y2="1346.7" stroke="#464660" stroke-width="1.5" opacity="0.72"/>
<line x1="573.87" y1="1272.7" x2="573.87" y2="1281.21" stroke="#464660" stroke-width="1.5" opacity="0.72"/>
<line x1="573.87" y1="1339.3" x2="573.87" y2="1346.7" stroke="#464660" stroke-width="1.5" opacity="0.72"/>
<line x1="578.88" y1="1272.7" x2="578.88" y2="1281.21" stroke="#464660" stroke-width="1.5" opacity="0.72"/>
<line x1="578.88" y1="1339.3" x2="578.88" y2="1346.7" stroke="#464660" stroke-width="1.5" opacity="0.72"/>
<line x1="583.89" y1="1272.7" x2="583.89" y2="1281.21" stroke="#464660" stroke-width="1.5" opacity="0.72"/>
<line x1="583.89" y1="1339.3" x2="583.89" y2="1346.7" stroke="#464660" stroke-width="1.5" opacity="0.72"/>
<line x1="588.9" y1="1272.7" x2="588.9" y2="1294.9" stroke="#464660" stroke-width="1.5" opacity="0.9"/>
<line x1="588.9" y1="1323.76" x2="588.9" y2="1346.7" stroke="#464660" stroke-width="1.5" opacity="0.9"/>
<line x1="593.91" y1="1272.7" x2="593.91" y2="1281.21" stroke="#464660" stroke-width="1.5" opacity="0.72"/>
<line x1="593.91" y1="1339.3" x2="593.91" y2="1346.7" stroke="#464660" stroke-width="1.5" opacity="0.72"/>
<line x1="598.92" y1="1272.7" x2="598.92" y2="1281.21" stroke="#464660" stroke-width="1.5" opacity="0.72"/>
<line x1="598.92" y1="1339.3" x2="598.92" y2="1346.7" stroke="#464660" stroke-width="1.5" opacity="0.72"/>
<line x1="603.93" y1="1272.7" x2="603.93" y2="1281.21" stroke="#464660" stroke-width="1.5" opacity="0.72"/>
<line x1="603.93" y1="1339.3" x2="603.93" y2="1346.7" stroke="#464660" stroke-width="1.5" opacity="0.72"/>
<line x1="608.94" y1="1272.7" x2="608.94" y2="1281.21" stroke="#464660" stroke-width="1.5" opacity="0.72"/>
<line x1="608.94" y1="1339.3" x2="608.94" y2="1346.7" stroke="#464660" stroke-width="1.5" opacity="0.72"/>
<line x1="613.95" y1="1272.7" x2="613.95" y2="1288.24" stroke="#464660" stroke-width="1.3" opacity="0.9"/>
<line x1="613.95" y1="1331.9" x2="613.95" y2="1346.7" stroke="#464660" stroke-width="1.3" opacity="0.9"/>
<line x1="618.96" y1="1272.7" x2="618.96" y2="1281.21" stroke="#464660" stroke-width="1.5" opacity="0.72"/>
<line x1="618.96" y1="1339.3" x2="618.96" y2="1346.7" stroke="#464660" stroke-width="1.5" opacity="0.72"/>
<line x1="623.97" y1="1272.7" x2="623.97" y2="1281.21" stroke="#464660" stroke-width="1.5" opacity="0.72"/>
<line x1="623.97" y1="1339.3" x2="623.97" y2="1346.7" stroke="#464660" stroke-width="1.5" opacity="0.72"/>
<line x1="628.98" y1="1272.7" x2="628.98" y2="1281.21" stroke="#464660" stroke-width="1.5" opacity="0.72"/>
<line x1="628.98" y1="1339.3" x2="628.98" y2="1346.7" stroke="#464660" stroke-width="1.5" opacity="0.72"/>
<line x1="633.99" y1="1272.7" x2="633.99" y2="1281.21" stroke="#464660" stroke-width="1.5" opacity="0.72"/>
<line x1="633.99" y1="1339.3" x2="633.99" y2="1346.7" stroke="#464660" stroke-width="1.5" opacity="0.72"/>
<line x1="639" y1="1272.7" x2="639" y2="1294.9" stroke="#464660" stroke-width="1.5" opacity="0.9"/>
<line x1="639" y1="1323.76" x2="639" y2="1346.7" stroke="#464660" stroke-width="1.5" opacity="0.9"/>
<line x1="644.01" y1="1272.7" x2="644.01" y2="1281.21" stroke="#464660" stroke-width="1.5" opacity="0.72"/>
<line x1="644.01" y1="1339.3" x2="644.01" y2="1346.7" stroke="#464660" stroke-width="1.5" opacity="0.72"/>
<text x="438.6" y="1315.6" font-size="24" text-anchor="middle" font-weight="bold" fill="#202020" font-family="Liberation Serif">0</text>
<text x="484.7" y="1315.6" font-size="24" text-anchor="start" font-weight="bold" fill="#202020" font-family="Liberation Serif">1<tspan font-size="19.68">cm</tspan></text>
<text x="538.8" y="1315.6" font-size="24" text-anchor="middle" font-weight="bold" fill="#202020" font-family="Liberation Serif">2</text>
<text x="588.9" y="1315.6" font-size="24" text-anchor="middle" font-weight="bold" fill="#202020" font-family="Liberation Serif">3</text>
<text x="639" y="1315.6" font-size="24" text-anchor="middle" font-weight="bold" fill="#202020" font-family="Liberation Serif">4</text>
<rect x="432.7" y="1346.7" width="215.3" height="6" fill="#3a94c0" />
<path d="M524 1083 q-6 4 -2 10 q6 4 10 -2 m6 -10 q-8 0 -6 8 q4 4 8 0 m6 -8 l0 10 m6 -12 l-2 14 m2 -8 l6 0 M488 1103 l4 -6 l4 6 m4 -6 q-4 2 0 6 m6 -6 q-4 2 0 6 q6 0 4 -6 m6 0 l4 6 m12 -12 q-10 2 -6 10 q8 4 10 -4 m6 -6 q-6 4 0 10 m6 -10 l2 10 l6 -12 M570 1115 q-4 10 4 14 m8 -4 l10 0 m4 2 q6 -8 8 -14 m-2 0 l10 -2" fill="none" stroke="#5a1f4a" stroke-width="2.3" stroke-linecap="round" stroke-linejoin="round" opacity="0.9"/>
<circle cx="523.3" cy="1153" r="19.5" fill="none" stroke="#f4f4ff" stroke-width="1.3" stroke-dasharray="0.8 2.4" stroke-linecap="round"/>
<path d="M594 1170 q3 30 -2 60" fill="none" stroke="#e8f4f8" stroke-width="2.6" stroke-linecap="round" opacity="0.7"/>
</g></g>
<g clip-path="url(#cpH1)">
<rect x="106.6" y="1428.4" width="240" height="324.6" fill="#1c0000" />
<g mask="url(#mH1)">
<rect x="106.6" y="1428.4" width="240" height="324.6" fill="#000" filter="url(#flH1)"/>
<rect x="106.6" y="1428.4" width="240" height="324.6" fill="#000" filter="url(#flH1v)" opacity="0.4"/>
<rect x="106.6" y="1428.4" width="240" height="324.6" fill="#000" filter="url(#flH1b)" opacity="0.45"/>
</g>
<circle cx="227.7" cy="1733" r="8" fill="#f02020" opacity="0.8" filter="url(#b2)"/>
<circle cx="221" cy="1726" r="5" fill="#f02020" opacity="0.9" filter="url(#b2)"/>
<circle cx="236" cy="1739" r="5" fill="#f02020" opacity="0.8" filter="url(#b2)"/>
<circle cx="230" cy="1722" r="4" fill="#f02020" opacity="0.8" filter="url(#b2)"/>
<circle cx="201" cy="1622" r="3.5" fill="#f02020" opacity="0.6" filter="url(#b2)"/>
<circle cx="322" cy="1528" r="4" fill="#f02020" opacity="0.6" filter="url(#b2)"/>
<circle cx="291" cy="1500" r="4" fill="#f02020" opacity="0.45" filter="url(#b2)"/>
<text x="116.6" y="1468.4" font-size="39" text-anchor="start" font-weight="normal" fill="#f0241e" stroke="#f0241e" stroke-width="0.8" textLength="82" lengthAdjust="spacingAndGlyphs" >Col1</text>
</g>
<g clip-path="url(#cpH2)">
<rect x="354.2" y="1428.4" width="241.8" height="324.6" fill="#1d0000" />
<g mask="url(#mH2)">
<rect x="354.2" y="1428.4" width="241.8" height="324.6" fill="#000" filter="url(#flH2)"/>
<rect x="354.2" y="1428.4" width="241.8" height="324.6" fill="#000" filter="url(#flH2v)" opacity="0.4"/>
<rect x="354.2" y="1428.4" width="241.8" height="324.6" fill="#000" filter="url(#flH2b)" opacity="0.4"/>
</g>
<rect x="487.8" y="1727.7" width="90.7" height="10.7" fill="#ffffff" />
<text x="494" y="1721" font-size="25" text-anchor="start" font-weight="normal" fill="#f6f2f2" stroke="#f6f2f2" stroke-width="0.8" textLength="78.5" lengthAdjust="spacingAndGlyphs" >100µm</text>
<text x="364.4" y="1468.8" font-size="39" text-anchor="start" font-weight="normal" fill="#f0241e" stroke="#f0241e" stroke-width="0.8" textLength="85.5" lengthAdjust="spacingAndGlyphs" >Col4</text>
</g>
<g clip-path="url(#cpI1)">
<rect x="664.9" y="1428.4" width="238.9" height="324.6" fill="url(#gI1)" />
<g filter="url(#b10)" fill="none" stroke="#4a0404" stroke-linecap="round" stroke-linejoin="round">
<path d="M763 1431 L758 1475 L753 1530 L796 1572 L822 1614 L814 1662 L831 1689 L800 1750" stroke-width="30" opacity="0.75"/>
<path d="M684 1500 L686 1552 L692 1587 L728 1631 L752 1680 L737 1715" stroke-width="26" opacity="0.65"/>
<path d="M796 1572 L822 1561 L849 1574 L855 1607 L847 1662 L831 1689 L840 1739" stroke-width="24" opacity="0.6"/>
<path d="M700 1470 L740 1470" stroke-width="30" opacity="0.4"/>
</g>
<g mask="url(#mI1)">
<g filter="url(#dispI1)" fill="none" stroke="#8e0c0c" stroke-linecap="round" stroke-linejoin="round">
<path d="M762.9 1431 C760 1450 759 1465 758.5 1475 C757 1495 755 1515 752 1539 C765 1548 775 1552 786 1562 C800 1575 806 1585 812 1596 C820 1608 823 1618 820 1632 C817 1645 813 1655 815 1668 C820 1680 826 1686 831 1688.6" stroke-width="14"/>
<path d="M683.6 1514.7 C683 1530 684 1545 685.8 1552 C687 1565 689 1578 694 1590 C700 1600 706 1606 714 1613 C722 1622 730 1634 738 1650 C745 1662 750 1672 751.5 1682 C750 1692 746 1700 741 1706 L736.5 1715" stroke-width="14" opacity="0.85"/>
<path d="M795.9 1571.9 C805 1565 815 1560 824 1561 C836 1563 845 1568 850 1578 C855 1590 856 1600 855 1610 C853 1625 849 1640 848 1652 C847 1668 840 1680 831 1688.6" stroke-width="10.5" opacity="0.7"/>
<path d="M831 1688.6 C822 1696 814 1702 808 1708 C800 1718 796 1728 796 1750" stroke-width="15.4"/>
<path d="M831 1688.6 C836 1700 840 1710 840 1720 L837.7 1742" stroke-width="9.8" opacity="0.8"/>
<path d="M778 1702 C784 1712 789 1722 792 1730 L800 1752" stroke-width="11.2" opacity="0.8"/>
<path d="M787 1631 C782 1645 779 1655 778 1665 L775 1702" stroke-width="8.4" opacity="0.5"/>
<path d="M683 1490 C695 1480 705 1476 716 1474" stroke-width="11.2" opacity="0.3"/>
<path d="M768 1436 C772 1450 772 1470 768 1490" stroke-width="9.8" opacity="0.5"/>
<ellipse cx="826" cy="1688" rx="10" ry="9" fill="#c81414" stroke="none"/>
<ellipse cx="800" cy="1740" rx="8" ry="12" fill="#c01212" stroke="none" opacity="0.8"/>
<ellipse cx="884" cy="1655" rx="8" ry="7" fill="#700808" stroke="none" opacity="0.55"/>
</g>
</g>
<text x="675.2" y="1468.4" font-size="39" text-anchor="start" font-weight="normal" fill="#f0241e" stroke="#f0241e" stroke-width="0.8" textLength="82" lengthAdjust="spacingAndGlyphs" >Col1</text>
</g>
<g clip-path="url(#cpI2)">
<rect x="910.6" y="1428.4" width="241.6" height="324.6" fill="#060000" />
<g mask="url(#mI2)">
<rect x="910.6" y="1428.4" width="241.6" height="324.6" fill="#000" filter="url(#flI2n)" opacity="0.55"/>
<rect x="910.6" y="1428.4" width="241.6" height="324.6" fill="#000" filter="url(#flI2)"/>
</g>
<g filter="url(#dispI1)" fill="none" stroke="#a80f0f" stroke-linecap="round" stroke-linejoin="round" opacity="0.75">
<path d="M918 1492 C935 1488 950 1494 965 1506 C985 1520 1005 1524 1022 1516 C1032 1508 1031 1490 1028 1478" stroke-width="15"/>
<path d="M914 1746 C935 1743 955 1733 972 1723" stroke-width="15"/>
</g>
<rect x="1045" y="1727.7" width="90.3" height="10.7" fill="#ffffff" />
<text x="1051.3" y="1721" font-size="25" text-anchor="start" font-weight="normal" fill="#f6f2f2" stroke="#f6f2f2" stroke-width="0.8" textLength="78.5" lengthAdjust="spacingAndGlyphs" >100µm</text>
<text x="923.6" y="1468.8" font-size="39" text-anchor="start" font-weight="normal" fill="#f0241e" stroke="#f0241e" stroke-width="0.8" textLength="85" lengthAdjust="spacingAndGlyphs" >Col4</text>
</g>
<text x="16" y="70.7" font-size="61" text-anchor="start" font-weight="normal" fill="#000" stroke="#000" stroke-width="1.5" >A</text>
<text x="688.8" y="70.7" font-size="61" text-anchor="start" font-weight="normal" fill="#000" stroke="#000" stroke-width="1.5" >B</text>
<text x="14" y="399" font-size="61" text-anchor="start" font-weight="normal" fill="#000" stroke="#000" stroke-width="1.5" >C</text>
<text x="558.4" y="397" font-size="61" text-anchor="start" font-weight="normal" fill="#000" stroke="#000" stroke-width="1.5" >D</text>
<text x="16" y="764.2" font-size="61" text-anchor="start" font-weight="normal" fill="#000" stroke="#000" stroke-width="1.5" >E</text>
<text x="694" y="760.8" font-size="61" text-anchor="start" font-weight="normal" fill="#000" stroke="#000" stroke-width="1.5" >F</text>
<text x="12.7" y="1096.8" font-size="61" text-anchor="start" font-weight="normal" fill="#000" stroke="#000" stroke-width="1.5" >G</text>
<text x="14.3" y="1471.2" font-size="61" text-anchor="start" font-weight="normal" fill="#000" stroke="#000" stroke-width="1.5" >H</text>
<text x="609.3" y="1470.5" font-size="61" text-anchor="start" font-weight="normal" fill="#000" stroke="#000" stroke-width="1.5" >I</text>
<text x="92.3" y="147.5" font-size="39.5" text-anchor="middle" font-weight="bold" fill="#ee1c25" transform="rotate(-90 92.3 147.5)" textLength="133" lengthAdjust="spacingAndGlyphs" >3% w/v</text>
<text x="92.3" y="844" font-size="39.5" text-anchor="middle" font-weight="bold" fill="#ee1c25" transform="rotate(-90 92.3 844)" textLength="244" lengthAdjust="spacingAndGlyphs" >3% w/v+GEN</text>
<text x="100.5" y="1203.9" font-size="39.5" text-anchor="middle" font-weight="bold" fill="#ee1c25" transform="rotate(-90 100.5 1203.9)" textLength="134.3" lengthAdjust="spacingAndGlyphs" >3% w/v</text>
<text x="424.5" y="1204.4" font-size="39.5" text-anchor="middle" font-weight="bold" fill="#ee1c25" transform="rotate(-90 424.5 1204.4)" textLength="247.2" lengthAdjust="spacingAndGlyphs" >3% w/v+GEN</text>
<text x="100.5" y="1590.2" font-size="38.5" text-anchor="middle" font-weight="bold" fill="#ee2a24" transform="rotate(-90 100.5 1590.2)" textLength="130.4" lengthAdjust="spacingAndGlyphs" >3% w/v</text>
<text x="657.2" y="1593.6" font-size="38.5" text-anchor="middle" font-weight="bold" fill="#ee2a24" transform="rotate(-90 657.2 1593.6)" textLength="242.2" lengthAdjust="spacingAndGlyphs" >3% w/v+GEN</text>
<text x="0" y="0" font-size="27.6" text-anchor="middle" font-weight="normal" fill="#111" transform="translate(770.2 152) rotate(-90) scale(1.0000 1.1300)" stroke="#111" stroke-width="0.95" >Mean pore size (µm<tspan dy="-12.5" font-size="17">2</tspan><tspan dy="12.5">)</tspan></text>
<line x1="821" y1="28" x2="821" y2="98" stroke="#1a1a1a" stroke-width="2.9" />
<line x1="814" y1="29.4" x2="821" y2="29.4" stroke="#1a1a1a" stroke-width="2.9" />
<line x1="814" y1="70.5" x2="821" y2="70.5" stroke="#1a1a1a" stroke-width="2.9" />
<line x1="821" y1="96.9" x2="828" y2="96.9" stroke="#1a1a1a" stroke-width="2.9" />
<line x1="821" y1="114" x2="821" y2="274.2" stroke="#1a1a1a" stroke-width="2.9" />
<line x1="814" y1="115.2" x2="828" y2="115.2" stroke="#1a1a1a" stroke-width="2.9" />
<line x1="814" y1="194" x2="821" y2="194" stroke="#1a1a1a" stroke-width="2.9" />
<line x1="814" y1="273" x2="941.5" y2="273" stroke="#1a1a1a" stroke-width="2.9" />
<line x1="881.5" y1="273" x2="881.5" y2="280" stroke="#1a1a1a" stroke-width="2.9" />
<text x="0" y="0" font-size="16" text-anchor="end" font-weight="normal" fill="#222" transform="translate(812.5 34.4) scale(1.1000 1.0000)" stroke="#222" stroke-width="0.85" >6</text>
<text x="0" y="0" font-size="16" text-anchor="end" font-weight="normal" fill="#222" transform="translate(812.5 76.3) scale(1.1000 1.0000)" stroke="#222" stroke-width="0.85" >3</text>
<text x="0" y="0" font-size="16" text-anchor="end" font-weight="normal" fill="#222" transform="translate(812.5 121) scale(1.1000 1.0000)" stroke="#222" stroke-width="0.85" >0.50</text>
<text x="0" y="0" font-size="16" text-anchor="end" font-weight="normal" fill="#222" transform="translate(812.5 199.8) scale(1.1000 1.0000)" stroke="#222" stroke-width="0.85" >0.25</text>
<text x="0" y="0" font-size="16" text-anchor="end" font-weight="normal" fill="#222" transform="translate(812.5 278.8) scale(1.1000 1.0000)" stroke="#222" stroke-width="0.85" >0.00</text>
<line x1="882" y1="50" x2="882" y2="97" stroke="#111" stroke-width="3.2" />
<line x1="862" y1="50" x2="902" y2="50" stroke="#111" stroke-width="3.2" />
<line x1="882" y1="115.5" x2="882" y2="152" stroke="#111" stroke-width="3.2" />
<line x1="882" y1="231" x2="882" y2="241" stroke="#111" stroke-width="3.2" />
<line x1="862" y1="241" x2="902" y2="241" stroke="#111" stroke-width="3.2" />
<rect x="841.3" y="152" width="81.4" height="78.7" fill="#fddada" stroke="#ee1c25" stroke-width="2.6"/>
<line x1="841.3" y1="207.4" x2="922.7" y2="207.4" stroke="#ee1c25" stroke-width="2.6" />
<text x="881.5" y="308.2" font-size="23.5" text-anchor="middle" font-weight="normal" fill="#222" stroke="#222" stroke-width="0.4" textLength="83.5" lengthAdjust="spacingAndGlyphs" >3% w/v</text>
<text x="0" y="0" font-size="26.8" text-anchor="middle" font-weight="normal" fill="#111" transform="translate(986.1 151) rotate(-90) scale(1.0000 1.0900)" stroke="#111" stroke-width="0.95" >Porosity (%)</text>
<line x1="1027.3" y1="30" x2="1027.3" y2="274.2" stroke="#1a1a1a" stroke-width="2.9" />
<line x1="1021" y1="31" x2="1027.3" y2="31" stroke="#1a1a1a" stroke-width="2.9" />
<text x="0" y="0" font-size="16" text-anchor="end" font-weight="normal" fill="#222" transform="translate(1018.5 36.8) scale(1.1300 1.0000)" stroke="#222" stroke-width="0.75" >54</text>
<line x1="1021" y1="71.32" x2="1027.3" y2="71.32" stroke="#1a1a1a" stroke-width="2.9" />
<text x="0" y="0" font-size="16" text-anchor="end" font-weight="normal" fill="#222" transform="translate(1018.5 77.12) scale(1.1300 1.0000)" stroke="#222" stroke-width="0.75" >52</text>
<line x1="1021" y1="111.64" x2="1027.3" y2="111.64" stroke="#1a1a1a" stroke-width="2.9" />
<text x="0" y="0" font-size="16" text-anchor="end" font-weight="normal" fill="#222" transform="translate(1018.5 117.44) scale(1.1300 1.0000)" stroke="#222" stroke-width="0.75" >50</text>
<line x1="1021" y1="151.96" x2="1027.3" y2="151.96" stroke="#1a1a1a" stroke-width="2.9" />
<text x="0" y="0" font-size="16" text-anchor="end" font-weight="normal" fill="#222" transform="translate(1018.5 157.76) scale(1.1300 1.0000)" stroke="#222" stroke-width="0.75" >48</text>
<line x1="1021" y1="192.28" x2="1027.3" y2="192.28" stroke="#1a1a1a" stroke-width="2.9" />
<text x="0" y="0" font-size="16" text-anchor="end" font-weight="normal" fill="#222" transform="translate(1018.5 198.08) scale(1.1300 1.0000)" stroke="#222" stroke-width="0.75" >46</text>
<line x1="1021" y1="232.6" x2="1027.3" y2="232.6" stroke="#1a1a1a" stroke-width="2.9" />
<text x="0" y="0" font-size="16" text-anchor="end" font-weight="normal" fill="#222" transform="translate(1018.5 238.4) scale(1.1300 1.0000)" stroke="#222" stroke-width="0.75" >44</text>
<line x1="1021" y1="272.92" x2="1027.3" y2="272.92" stroke="#1a1a1a" stroke-width="2.9" />
<text x="0" y="0" font-size="16" text-anchor="end" font-weight="normal" fill="#222" transform="translate(1018.5 278.72) scale(1.1300 1.0000)" stroke="#222" stroke-width="0.75" >42</text>
<rect x="1051.2" y="164.3" width="86.4" height="108.7" fill="#fddada" stroke="#ee1c25" stroke-width="2.6"/>
<line x1="1021" y1="273" x2="1154.3" y2="273" stroke="#1a1a1a" stroke-width="2.9" />
<line x1="1093.5" y1="273" x2="1093.5" y2="280" stroke="#1a1a1a" stroke-width="2.9" />
<line x1="1093.5" y1="132.7" x2="1093.5" y2="164.3" stroke="#111" stroke-width="3.2" />
<line x1="1072.7" y1="132.7" x2="1113.5" y2="132.7" stroke="#111" stroke-width="3.2" />
<circle cx="1085.5" cy="144.3" r="4.2" fill="#ee1c25" />
<circle cx="1101.2" cy="150" r="4.2" fill="#ee1c25" />
<circle cx="1093.5" cy="202.4" r="4.2" fill="#ee1c25" />
<text x="1095" y="308.2" font-size="23.5" text-anchor="middle" font-weight="normal" fill="#222" stroke="#222" stroke-width="0.4" textLength="85" lengthAdjust="spacingAndGlyphs" >3% w/v</text>
<text x="94" y="450.7" font-size="31.7" text-anchor="middle" font-weight="normal" fill="#111" transform="rotate(-90 94 450.7)" stroke="#111" stroke-width="0.9" >Normalized</text>
<text x="130.5" y="451.3" font-size="31.7" text-anchor="middle" font-weight="normal" fill="#111" transform="rotate(-90 130.5 451.3)" stroke="#111" stroke-width="0.9" >absorbance</text>
<text x="0" y="0" font-size="29.3" text-anchor="middle" font-weight="normal" fill="#111" transform="translate(349.5 669.7) scale(1.0700 1.0000)" stroke="#111" stroke-width="0.8" >Time (min)</text>
<path d="M184.23 567.76 L193.73 590.8 L199.73 590.8 C201.83 570.93 207.86 502.06 212.34 471.57 C216.81 441.09 221.76 420.66 226.56 407.9 C231.36 395.14 236.33 397.63 241.13 395.03 C245.92 392.43 250.67 392.94 255.35 392.32 C260.04 391.7 264.55 391.7 269.24 391.3 C273.92 390.91 278.72 390.34 283.46 389.95 C288.2 389.55 292.95 388.82 297.69 388.93 C302.43 389.05 307.23 390.46 311.91 390.63 C316.6 390.8 321.11 389.95 325.8 389.95 C330.49 389.95 335.28 390.46 340.03 390.63 C344.77 390.8 349.51 390.91 354.25 390.97 C358.99 391.02 363.79 391.02 368.48 390.97 C373.16 390.91 377.68 390.57 382.36 390.63 C387.05 390.68 391.85 390.97 396.59 391.3 C401.33 391.64 406.13 392.43 410.81 392.66 C415.5 392.88 420.01 392.72 424.7 392.66 C429.38 392.6 434.24 392.15 438.92 392.32 C443.61 392.49 448.13 393.28 452.81 393.67 C457.5 394.07 462.29 394.35 467.04 394.69 C471.78 395.03 476.58 395.31 481.26 395.71 C485.95 396.1 490.46 396.72 495.15 397.06 C499.83 397.4 504.63 399.09 509.37 397.74 C514.12 396.38 521.23 390.4 523.6 388.93" fill="none" stroke="#e8141c" stroke-width="2.2" />
<circle cx="184.23" cy="567.76" r="2.6" fill="#111" />
<circle cx="212.34" cy="471.57" r="2.6" fill="#111" />
<circle cx="226.56" cy="407.9" r="2.6" fill="#111" />
<circle cx="241.13" cy="395.03" r="2.6" fill="#111" />
<circle cx="255.35" cy="392.32" r="2.6" fill="#111" />
<circle cx="269.24" cy="391.3" r="2.6" fill="#111" />
<circle cx="283.46" cy="389.95" r="2.6" fill="#111" />
<circle cx="297.69" cy="388.93" r="2.6" fill="#111" />
<circle cx="311.91" cy="390.63" r="2.6" fill="#111" />
<circle cx="325.8" cy="389.95" r="2.6" fill="#111" />
<circle cx="340.03" cy="390.63" r="2.6" fill="#111" />
<circle cx="354.25" cy="390.97" r="2.6" fill="#111" />
<circle cx="368.48" cy="390.97" r="2.6" fill="#111" />
<circle cx="382.36" cy="390.63" r="2.6" fill="#111" />
<circle cx="396.59" cy="391.3" r="2.6" fill="#111" />
<circle cx="410.81" cy="392.66" r="2.6" fill="#111" />
<circle cx="424.7" cy="392.66" r="2.6" fill="#111" />
<circle cx="438.92" cy="392.32" r="2.6" fill="#111" />
<circle cx="452.81" cy="393.67" r="2.6" fill="#111" />
<circle cx="467.04" cy="394.69" r="2.6" fill="#111" />
<circle cx="481.26" cy="395.71" r="2.6" fill="#111" />
<circle cx="495.15" cy="397.06" r="2.6" fill="#111" />
<circle cx="509.37" cy="397.74" r="2.6" fill="#111" />
<circle cx="523.6" cy="388.93" r="2.6" fill="#111" />
<line x1="185.3" y1="347" x2="185.3" y2="592.8" stroke="#000" stroke-width="3" />
<line x1="183.8" y1="591.3" x2="525.8" y2="591.3" stroke="#000" stroke-width="3" />
<line x1="180" y1="591.3" x2="185.3" y2="591.3" stroke="#000" stroke-width="2" />
<text x="0" y="0" font-size="17.5" text-anchor="end" font-weight="normal" fill="#222" transform="translate(178 598.6) scale(0.9200 1.0000)" stroke="#222" stroke-width="0.6" >0.0</text>
<line x1="180" y1="550.78" x2="185.3" y2="550.78" stroke="#000" stroke-width="2" />
<text x="0" y="0" font-size="17.5" text-anchor="end" font-weight="normal" fill="#222" transform="translate(178 558.08) scale(0.9200 1.0000)" stroke="#222" stroke-width="0.6" >0.2</text>
<line x1="180" y1="510.26" x2="185.3" y2="510.26" stroke="#000" stroke-width="2" />
<text x="0" y="0" font-size="17.5" text-anchor="end" font-weight="normal" fill="#222" transform="translate(178 517.56) scale(0.9200 1.0000)" stroke="#222" stroke-width="0.6" >0.4</text>
<line x1="180" y1="469.74" x2="185.3" y2="469.74" stroke="#000" stroke-width="2" />
<text x="0" y="0" font-size="17.5" text-anchor="end" font-weight="normal" fill="#222" transform="translate(178 477.04) scale(0.9200 1.0000)" stroke="#222" stroke-width="0.6" >0.6</text>
<line x1="180" y1="429.22" x2="185.3" y2="429.22" stroke="#000" stroke-width="2" />
<text x="0" y="0" font-size="17.5" text-anchor="end" font-weight="normal" fill="#222" transform="translate(178 436.52) scale(0.9200 1.0000)" stroke="#222" stroke-width="0.6" >0.8</text>
<line x1="180" y1="388.7" x2="185.3" y2="388.7" stroke="#000" stroke-width="2" />
<text x="0" y="0" font-size="17.5" text-anchor="end" font-weight="normal" fill="#222" transform="translate(178 396) scale(0.9200 1.0000)" stroke="#222" stroke-width="0.6" >1.0</text>
<line x1="180" y1="348.18" x2="185.3" y2="348.18" stroke="#000" stroke-width="2" />
<text x="0" y="0" font-size="17.5" text-anchor="end" font-weight="normal" fill="#222" transform="translate(178 355.48) scale(0.9200 1.0000)" stroke="#222" stroke-width="0.6" >1.2</text>
<line x1="185.3" y1="591.3" x2="185.3" y2="596.3" stroke="#000" stroke-width="2" />
<text x="0" y="0" font-size="17.7" text-anchor="middle" font-weight="normal" fill="#222" transform="translate(185.3 613.4) scale(0.9000 1.0000)" stroke="#222" stroke-width="0.6" >0</text>
<line x1="241.87" y1="591.3" x2="241.87" y2="596.3" stroke="#000" stroke-width="2" />
<text x="0" y="0" font-size="17.7" text-anchor="middle" font-weight="normal" fill="#222" transform="translate(241.87 613.4) scale(0.9000 1.0000)" stroke="#222" stroke-width="0.6" >20</text>
<line x1="298.43" y1="591.3" x2="298.43" y2="596.3" stroke="#000" stroke-width="2" />
<text x="0" y="0" font-size="17.7" text-anchor="middle" font-weight="normal" fill="#222" transform="translate(298.43 613.4) scale(0.9000 1.0000)" stroke="#222" stroke-width="0.6" >40</text>
<line x1="355" y1="591.3" x2="355" y2="596.3" stroke="#000" stroke-width="2" />
<text x="0" y="0" font-size="17.7" text-anchor="middle" font-weight="normal" fill="#222" transform="translate(355 613.4) scale(0.9000 1.0000)" stroke="#222" stroke-width="0.6" >60</text>
<line x1="411.57" y1="591.3" x2="411.57" y2="596.3" stroke="#000" stroke-width="2" />
<text x="0" y="0" font-size="17.7" text-anchor="middle" font-weight="normal" fill="#222" transform="translate(411.57 613.4) scale(0.9000 1.0000)" stroke="#222" stroke-width="0.6" >80</text>
<line x1="468.13" y1="591.3" x2="468.13" y2="596.3" stroke="#000" stroke-width="2" />
<text x="0" y="0" font-size="17.7" text-anchor="middle" font-weight="normal" fill="#222" transform="translate(468.13 613.4) scale(0.9000 1.0000)" stroke="#222" stroke-width="0.6" >100</text>
<line x1="524.7" y1="591.3" x2="524.7" y2="596.3" stroke="#000" stroke-width="2" />
<text x="0" y="0" font-size="17.7" text-anchor="middle" font-weight="normal" fill="#222" transform="translate(524.7 613.4) scale(0.9000 1.0000)" stroke="#222" stroke-width="0.6" >120</text>
<text x="0" y="0" font-size="29.2" text-anchor="middle" font-weight="bold" fill="#111" transform="translate(641.2 460.2) rotate(-90) scale(1.0000 1.0800)" >Modulus (Pa)</text>
<text x="1016" y="473.6" font-size="31.3" text-anchor="middle" font-weight="normal" fill="#111" transform="rotate(90 1016 473.6)" stroke="#111" stroke-width="0.7" >Temperature (°C)</text>
<text x="0" y="0" font-size="29.6" text-anchor="middle" font-weight="normal" fill="#111" transform="translate(811.5 671) scale(1.0600 1.0000)" stroke="#111" stroke-width="0.9" >Time (min)</text>
<line x1="677.5" y1="349" x2="684.3" y2="349" stroke="#111" stroke-width="2.6" />
<text x="0" y="0" font-size="15.5" text-anchor="end" font-weight="bold" fill="#111" transform="translate(675.5 354.6) scale(1.0800 1.0000)" >100</text>
<line x1="680.3" y1="405.36" x2="684.3" y2="405.36" stroke="#111" stroke-width="2.2" />
<line x1="680.3" y1="391.16" x2="684.3" y2="391.16" stroke="#111" stroke-width="2.2" />
<line x1="680.3" y1="381.09" x2="684.3" y2="381.09" stroke="#111" stroke-width="2.2" />
<line x1="680.3" y1="373.27" x2="684.3" y2="373.27" stroke="#111" stroke-width="2.2" />
<line x1="680.3" y1="366.89" x2="684.3" y2="366.89" stroke="#111" stroke-width="2.2" />
<line x1="680.3" y1="361.49" x2="684.3" y2="361.49" stroke="#111" stroke-width="2.2" />
<line x1="680.3" y1="356.81" x2="684.3" y2="356.81" stroke="#111" stroke-width="2.2" />
<line x1="680.3" y1="352.69" x2="684.3" y2="352.69" stroke="#111" stroke-width="2.2" />
<line x1="677.5" y1="429.63" x2="684.3" y2="429.63" stroke="#111" stroke-width="2.6" />
<text x="0" y="0" font-size="15.5" text-anchor="end" font-weight="bold" fill="#111" transform="translate(675.5 435.23) scale(1.0800 1.0000)" >10</text>
<line x1="680.3" y1="485.99" x2="684.3" y2="485.99" stroke="#111" stroke-width="2.2" />
<line x1="680.3" y1="471.79" x2="684.3" y2="471.79" stroke="#111" stroke-width="2.2" />
<line x1="680.3" y1="461.72" x2="684.3" y2="461.72" stroke="#111" stroke-width="2.2" />
<line x1="680.3" y1="453.91" x2="684.3" y2="453.91" stroke="#111" stroke-width="2.2" />
<line x1="680.3" y1="447.52" x2="684.3" y2="447.52" stroke="#111" stroke-width="2.2" />
<line x1="680.3" y1="442.12" x2="684.3" y2="442.12" stroke="#111" stroke-width="2.2" />
<line x1="680.3" y1="437.45" x2="684.3" y2="437.45" stroke="#111" stroke-width="2.2" />
<line x1="680.3" y1="433.32" x2="684.3" y2="433.32" stroke="#111" stroke-width="2.2" />
<line x1="677.5" y1="510.27" x2="684.3" y2="510.27" stroke="#111" stroke-width="2.6" />
<text x="0" y="0" font-size="15.5" text-anchor="end" font-weight="bold" fill="#111" transform="translate(675.5 515.87) scale(1.0800 1.0000)" >1</text>
<line x1="680.3" y1="566.63" x2="684.3" y2="566.63" stroke="#111" stroke-width="2.2" />
<line x1="680.3" y1="552.43" x2="684.3" y2="552.43" stroke="#111" stroke-width="2.2" />
<line x1="680.3" y1="542.35" x2="684.3" y2="542.35" stroke="#111" stroke-width="2.2" />
<line x1="680.3" y1="534.54" x2="684.3" y2="534.54" stroke="#111" stroke-width="2.2" />
<line x1="680.3" y1="528.16" x2="684.3" y2="528.16" stroke="#111" stroke-width="2.2" />
<line x1="680.3" y1="522.76" x2="684.3" y2="522.76" stroke="#111" stroke-width="2.2" />
<line x1="680.3" y1="518.08" x2="684.3" y2="518.08" stroke="#111" stroke-width="2.2" />
<line x1="680.3" y1="513.96" x2="684.3" y2="513.96" stroke="#111" stroke-width="2.2" />
<line x1="677.5" y1="590.9" x2="684.3" y2="590.9" stroke="#111" stroke-width="2.6" />
<text x="0" y="0" font-size="15.5" text-anchor="end" font-weight="bold" fill="#111" transform="translate(675.5 596.5) scale(1.0800 1.0000)" >0.1</text>
<line x1="968.5" y1="348.5" x2="968.5" y2="592.2" stroke="#111" stroke-width="2.6" />
<line x1="968.5" y1="349.6" x2="975.8" y2="349.6" stroke="#111" stroke-width="2.6" />
<text x="980" y="355.6" font-size="16.5" text-anchor="start" font-weight="normal" fill="#222" stroke="#222" stroke-width="0.4" >40</text>
<line x1="968.5" y1="418.6" x2="975.8" y2="418.6" stroke="#111" stroke-width="2.6" />
<text x="980" y="424.6" font-size="16.5" text-anchor="start" font-weight="normal" fill="#222" stroke="#222" stroke-width="0.4" >30</text>
<line x1="968.5" y1="488" x2="975.8" y2="488" stroke="#111" stroke-width="2.6" />
<text x="980" y="494" font-size="16.5" text-anchor="start" font-weight="normal" fill="#222" stroke="#222" stroke-width="0.4" >20</text>
<line x1="968.5" y1="556.7" x2="975.8" y2="556.7" stroke="#111" stroke-width="2.6" />
<text x="980" y="562.7" font-size="16.5" text-anchor="start" font-weight="normal" fill="#222" stroke="#222" stroke-width="0.4" >10</text>
<line x1="684.3" y1="590.9" x2="684.3" y2="598.5" stroke="#111" stroke-width="2.6" />
<text transform="translate(687.8 610.5) scale(0.9 1) rotate(-47)" x="0" y="0" font-size="15" text-anchor="end" font-weight="bold" fill="#111">0</text>
<line x1="716.13" y1="590.9" x2="716.13" y2="598.5" stroke="#111" stroke-width="2.6" />
<text transform="translate(719.63 610.5) scale(0.9 1) rotate(-47)" x="0" y="0" font-size="15" text-anchor="end" font-weight="bold" fill="#111">8.5</text>
<line x1="747.96" y1="590.9" x2="747.96" y2="598.5" stroke="#111" stroke-width="2.6" />
<text transform="translate(751.46 610.5) scale(0.9 1) rotate(-47)" x="0" y="0" font-size="15" text-anchor="end" font-weight="bold" fill="#111">16.9</text>
<line x1="779.79" y1="590.9" x2="779.79" y2="598.5" stroke="#111" stroke-width="2.6" />
<text transform="translate(783.29 610.5) scale(0.9 1) rotate(-47)" x="0" y="0" font-size="15" text-anchor="end" font-weight="bold" fill="#111">25.3</text>
<line x1="811.62" y1="590.9" x2="811.62" y2="598.5" stroke="#111" stroke-width="2.6" />
<text transform="translate(815.12 610.5) scale(0.9 1) rotate(-47)" x="0" y="0" font-size="15" text-anchor="end" font-weight="bold" fill="#111">33.7</text>
<line x1="843.45" y1="590.9" x2="843.45" y2="598.5" stroke="#111" stroke-width="2.6" />
<text transform="translate(846.95 610.5) scale(0.9 1) rotate(-47)" x="0" y="0" font-size="15" text-anchor="end" font-weight="bold" fill="#111">42.1</text>
<line x1="875.28" y1="590.9" x2="875.28" y2="598.5" stroke="#111" stroke-width="2.6" />
<text transform="translate(878.78 610.5) scale(0.9 1) rotate(-47)" x="0" y="0" font-size="15" text-anchor="end" font-weight="bold" fill="#111">50.5</text>
<line x1="907.11" y1="590.9" x2="907.11" y2="598.5" stroke="#111" stroke-width="2.6" />
<text transform="translate(910.61 610.5) scale(0.9 1) rotate(-47)" x="0" y="0" font-size="15" text-anchor="end" font-weight="bold" fill="#111">58.9</text>
<line x1="938.94" y1="590.9" x2="938.94" y2="598.5" stroke="#111" stroke-width="2.6" />
<text transform="translate(942.44 610.5) scale(0.9 1) rotate(-47)" x="0" y="0" font-size="15" text-anchor="end" font-weight="bold" fill="#111">67.3</text>
<polyline points="684.3,589 684.8,520 685.3,505 686.3,501.12 687.6,500.25 688.9,502.75 690.2,499.86 691.5,502.18 692.8,501.33 694.1,499.79 695.4,502.04 696.7,499.69 698,501.67 699.3,499.85 700.6,499.95 701.9,501.62 703.2,503.63 704.5,500.12 705.8,500.62 707.1,502.64 708.4,504.24 709.7,502.39 711,501.48 712.3,504.38 713.6,499.73 714.9,503.79 716.2,500.95 717.5,500.22 718.8,500.09 720.1,498.04 721.4,500.58 722.7,497.4 724,499.41 725.3,499.69 726.6,498.36 727.9,499.24 729.2,496.81 730.5,496.8 731.8,497.53 733.1,499.9 734.4,498.64 735.7,498.07 737,499.43 738.3,498.77 739.6,498 740.9,500.47" fill="none" stroke="#111" stroke-width="3" stroke-linejoin="round"/>
<polyline points="685.3,503.29 686.4,496.92 687.5,501.54 688.6,500.85 689.7,505.75 690.8,503.71 691.9,497.53 693,507.22 694.1,495.15 695.2,499.35 696.3,504.1 697.4,495.63 698.5,500.35 699.6,494.05 700.7,502.86 701.8,504.2 702.9,501.52 704,505.76 705.1,497.89 706.2,503.23 707.3,501.82 708.4,501.62 709.5,499.89 710.6,505.26 711.7,506.73 712.8,500.14 713.9,502.8 715,494.35 716.1,503.32 717.2,502.56 718.3,507.4 719.4,505.01 720.5,497.48 721.6,498.9 722.7,502.86 723.8,493.82 724.9,499.96 726,495.85 727.1,495.14 728.2,494.33 729.3,504.26 730.4,495.31 731.5,496.97 732.6,498.97 733.7,505.7 734.8,494.63 735.9,499.79 737,501.19 738.1,505.87 739.2,504.97 740.3,505.6 741.4,497.4 742.5,499.31 743.6,498.52 744.7,505.88" fill="none" stroke="#1414ee" stroke-width="7" stroke-linejoin="round" stroke-linecap="round"/>
<polyline points="744,497 748,488 752,485 757,484.5 762,481 770,475 780,468 790,462.5 800,459.5 815,458 840,457.5 870,457 900,456.5 930,456.3 944,456.2" fill="none" stroke="#1414ee" stroke-width="6.5" stroke-linejoin="round" stroke-linecap="round"/>
<path d="M741 497 L744 470 L747.5 440 L751.6 427.5" fill="none" stroke="#111" stroke-width="3.8" stroke-dasharray="3 1.4"/>
<path d="M751.6 427 L753.5 437.5 Q757 438.5 763 431 C775 415 785 401 802 397 C830 391 880 390 944 386.9" fill="none" stroke="#111" stroke-width="4.2" stroke-linejoin="round" stroke-linecap="round"/>
<polyline points="684.8,589.9 745.3,371 944,371.3" fill="none" stroke="#ee1111" stroke-width="4.4" stroke-linejoin="miter" stroke-linecap="round"/>
<line x1="684.3" y1="347.5" x2="684.3" y2="592.5" stroke="#111" stroke-width="3.4" />
<line x1="677.5" y1="590.9" x2="969.8" y2="590.9" stroke="#111" stroke-width="3.2" />
<rect x="1063.8" y="400.7" width="8.6" height="8.6" fill="#111" />
<text x="1087" y="409.4" font-size="29" text-anchor="start" font-weight="normal" fill="#111" stroke="#111" stroke-width="0.4" >G'</text>
<rect x="1063.8" y="426.7" width="8.6" height="8.6" fill="#1414ee" />
<text x="1087" y="439.7" font-size="29" text-anchor="start" font-weight="normal" fill="#111" stroke="#111" stroke-width="0.4" >G''</text>
<rect x="1063.8" y="458.5" width="8.6" height="8.6" fill="#ee1111" />
<text x="1088.5" y="471.5" font-size="29" text-anchor="start" font-weight="normal" fill="#111" stroke="#111" stroke-width="0.4" >Temp.</text>
<text x="770.8" y="830.5" font-size="30.4" text-anchor="middle" font-weight="bold" fill="#222" transform="rotate(-90 770.8 830.5)" >Viscosity  (Pa s)</text>
<text x="973.5" y="1015" font-size="30" text-anchor="middle" font-weight="bold" fill="#222" >Shear rate (s-Â¹)</text>
<line x1="815.8" y1="936.5" x2="822.2" y2="936.5" stroke="#111" stroke-width="2.2" />
<text x="812.5" y="941.8" font-size="15" text-anchor="end" font-weight="bold" fill="#222" >0</text>
<line x1="815.8" y1="863.43" x2="822.2" y2="863.43" stroke="#111" stroke-width="2.2" />
<text x="812.5" y="868.73" font-size="15" text-anchor="end" font-weight="bold" fill="#222" >100</text>
<line x1="815.8" y1="790.36" x2="822.2" y2="790.36" stroke="#111" stroke-width="2.2" />
<text x="812.5" y="795.66" font-size="15" text-anchor="end" font-weight="bold" fill="#222" >200</text>
<line x1="815.8" y1="717.29" x2="822.2" y2="717.29" stroke="#111" stroke-width="2.2" />
<text x="812.5" y="722.59" font-size="15" text-anchor="end" font-weight="bold" fill="#222" >300</text>
<line x1="826.6" y1="936.5" x2="826.6" y2="942" stroke="#111" stroke-width="2" />
<text transform="translate(829.1 949.5) scale(0.78 1) rotate(-45)" x="0" y="0" font-size="13" text-anchor="end" font-weight="bold" fill="#222">0.11</text>
<line x1="846.9" y1="936.5" x2="846.9" y2="942" stroke="#111" stroke-width="2" />
<text transform="translate(849.4 949.5) scale(0.78 1) rotate(-45)" x="0" y="0" font-size="13" text-anchor="end" font-weight="bold" fill="#222">0.17</text>
<line x1="867.2" y1="936.5" x2="867.2" y2="942" stroke="#111" stroke-width="2" />
<text transform="translate(869.7 949.5) scale(0.78 1) rotate(-45)" x="0" y="0" font-size="13" text-anchor="end" font-weight="bold" fill="#222">0.27</text>
<line x1="887.5" y1="936.5" x2="887.5" y2="942" stroke="#111" stroke-width="2" />
<text transform="translate(890 949.5) scale(0.78 1) rotate(-45)" x="0" y="0" font-size="13" text-anchor="end" font-weight="bold" fill="#222">0.42</text>
<line x1="907.8" y1="936.5" x2="907.8" y2="942" stroke="#111" stroke-width="2" />
<text transform="translate(910.3 949.5) scale(0.78 1) rotate(-45)" x="0" y="0" font-size="13" text-anchor="end" font-weight="bold" fill="#222">0.66</text>
<line x1="928.1" y1="936.5" x2="928.1" y2="942" stroke="#111" stroke-width="2" />
<text transform="translate(930.6 949.5) scale(0.78 1) rotate(-45)" x="0" y="0" font-size="13" text-anchor="end" font-weight="bold" fill="#222">1.04</text>
<line x1="948.4" y1="936.5" x2="948.4" y2="942" stroke="#111" stroke-width="2" />
<text transform="translate(950.9 949.5) scale(0.78 1) rotate(-45)" x="0" y="0" font-size="13" text-anchor="end" font-weight="bold" fill="#222">1.62</text>
<line x1="968.7" y1="936.5" x2="968.7" y2="942" stroke="#111" stroke-width="2" />
<text transform="translate(971.2 949.5) scale(0.78 1) rotate(-45)" x="0" y="0" font-size="13" text-anchor="end" font-weight="bold" fill="#222">2.54</text>
<line x1="989" y1="936.5" x2="989" y2="942" stroke="#111" stroke-width="2" />
<text transform="translate(991.5 949.5) scale(0.78 1) rotate(-45)" x="0" y="0" font-size="13" text-anchor="end" font-weight="bold" fill="#222">3.96</text>
<line x1="1009.3" y1="936.5" x2="1009.3" y2="942" stroke="#111" stroke-width="2" />
<text transform="translate(1011.8 949.5) scale(0.78 1) rotate(-45)" x="0" y="0" font-size="13" text-anchor="end" font-weight="bold" fill="#222">6.20</text>
<line x1="1029.6" y1="936.5" x2="1029.6" y2="942" stroke="#111" stroke-width="2" />
<text transform="translate(1032.1 949.5) scale(0.78 1) rotate(-45)" x="0" y="0" font-size="13" text-anchor="end" font-weight="bold" fill="#222">9.68</text>
<line x1="1049.9" y1="936.5" x2="1049.9" y2="942" stroke="#111" stroke-width="2" />
<text transform="translate(1052.4 949.5) scale(0.78 1) rotate(-45)" x="0" y="0" font-size="13" text-anchor="end" font-weight="bold" fill="#222">15.11</text>
<line x1="1070.2" y1="936.5" x2="1070.2" y2="942" stroke="#111" stroke-width="2" />
<text transform="translate(1072.7 949.5) scale(0.78 1) rotate(-45)" x="0" y="0" font-size="13" text-anchor="end" font-weight="bold" fill="#222">23.62</text>
<line x1="1090.5" y1="936.5" x2="1090.5" y2="942" stroke="#111" stroke-width="2" />
<text transform="translate(1093 949.5) scale(0.78 1) rotate(-45)" x="0" y="0" font-size="13" text-anchor="end" font-weight="bold" fill="#222">36.86</text>
<line x1="1110.8" y1="936.5" x2="1110.8" y2="942" stroke="#111" stroke-width="2" />
<text transform="translate(1113.3 949.5) scale(0.78 1) rotate(-45)" x="0" y="0" font-size="13" text-anchor="end" font-weight="bold" fill="#222">57.53</text>
<line x1="1131.1" y1="936.5" x2="1131.1" y2="942" stroke="#111" stroke-width="2" />
<text transform="translate(1133.6 949.5) scale(0.78 1) rotate(-45)" x="0" y="0" font-size="13" text-anchor="end" font-weight="bold" fill="#222">89.93</text>
<line x1="822.2" y1="716" x2="822.2" y2="938" stroke="#111" stroke-width="3.2" />
<line x1="815.8" y1="936.5" x2="1136" y2="936.5" stroke="#111" stroke-width="3" />
<polyline points="826.6,865.62 836.75,905.08 846.9,913.85 857.05,918.23 867.2,921.16 877.35,923.71 887.5,926.27 897.65,929.19 907.8,931.02 917.95,932.48 928.1,933.43 938.25,934.16 948.4,934.67 958.55,935.04 968.7,935.33 978.85,935.55 989,935.7 999.15,935.84 1009.3,935.99" fill="none" stroke="#ee1111" stroke-width="2.2" />
<circle cx="826.6" cy="865.62" r="4.1" fill="#ee1111" />
<circle cx="836.75" cy="905.08" r="4.1" fill="#ee1111" />
<circle cx="846.9" cy="913.85" r="4.1" fill="#ee1111" />
<circle cx="857.05" cy="918.23" r="4.1" fill="#ee1111" />
<circle cx="867.2" cy="921.16" r="4.1" fill="#ee1111" />
<circle cx="877.35" cy="923.71" r="4.1" fill="#ee1111" />
<circle cx="887.5" cy="926.27" r="4.1" fill="#ee1111" />
<circle cx="897.65" cy="929.19" r="4.1" fill="#ee1111" />
<circle cx="907.8" cy="931.02" r="4.1" fill="#ee1111" />
<circle cx="917.95" cy="932.48" r="4.1" fill="#ee1111" />
<circle cx="928.1" cy="933.43" r="4.1" fill="#ee1111" />
<circle cx="938.25" cy="934.16" r="4.1" fill="#ee1111" />
<circle cx="948.4" cy="934.67" r="4.1" fill="#ee1111" />
<circle cx="958.55" cy="935.04" r="4.1" fill="#ee1111" />
<circle cx="968.7" cy="935.33" r="4.1" fill="#ee1111" />
<circle cx="978.85" cy="935.55" r="4.1" fill="#ee1111" />
<circle cx="989" cy="935.7" r="4.1" fill="#ee1111" />
<circle cx="999.15" cy="935.84" r="4.1" fill="#ee1111" />
<circle cx="1009.3" cy="935.99" r="4.1" fill="#ee1111" />
<polyline points="826.6,758.94 836.75,845.16 846.9,880.24 857.05,898.5 867.2,908.73 877.35,913.85 887.5,917.5 897.65,921.16 907.8,924.44 917.95,926.64 928.1,928.1 938.25,929.19 948.4,930.29 958.55,931.02 968.7,931.75 978.85,932.48 989,932.85 999.15,933.36 1009.3,933.72 1019.45,934.09 1029.6,934.45 1039.75,934.75 1049.9,934.97 1060.05,935.18 1070.2,935.33 1080.35,935.48 1090.5,935.62 1100.65,935.7 1110.8,935.77 1120.95,935.84 1131.1,935.92" fill="none" stroke="#111" stroke-width="2.2" />
<circle cx="826.6" cy="758.94" r="4.1" fill="#111" />
<circle cx="836.75" cy="845.16" r="4.1" fill="#111" />
<circle cx="846.9" cy="880.24" r="4.1" fill="#111" />
<circle cx="857.05" cy="898.5" r="4.1" fill="#111" />
<circle cx="867.2" cy="908.73" r="4.1" fill="#111" />
<circle cx="877.35" cy="913.85" r="4.1" fill="#111" />
<circle cx="887.5" cy="917.5" r="4.1" fill="#111" />
<circle cx="897.65" cy="921.16" r="4.1" fill="#111" />
<circle cx="907.8" cy="924.44" r="4.1" fill="#111" />
<circle cx="917.95" cy="926.64" r="4.1" fill="#111" />
<circle cx="928.1" cy="928.1" r="4.1" fill="#111" />
<circle cx="938.25" cy="929.19" r="4.1" fill="#111" />
<circle cx="948.4" cy="930.29" r="4.1" fill="#111" />
<circle cx="958.55" cy="931.02" r="4.1" fill="#111" />
<circle cx="968.7" cy="931.75" r="4.1" fill="#111" />
<circle cx="978.85" cy="932.48" r="4.1" fill="#111" />
<circle cx="989" cy="932.85" r="4.1" fill="#111" />
<circle cx="999.15" cy="933.36" r="4.1" fill="#111" />
<circle cx="1009.3" cy="933.72" r="4.1" fill="#111" />
<circle cx="1019.45" cy="934.09" r="4.1" fill="#111" />
<circle cx="1029.6" cy="934.45" r="4.1" fill="#111" />
<circle cx="1039.75" cy="934.75" r="4.1" fill="#111" />
<circle cx="1049.9" cy="934.97" r="4.1" fill="#111" />
<circle cx="1060.05" cy="935.18" r="4.1" fill="#111" />
<circle cx="1070.2" cy="935.33" r="4.1" fill="#111" />
<circle cx="1080.35" cy="935.48" r="4.1" fill="#111" />
<circle cx="1090.5" cy="935.62" r="4.1" fill="#111" />
<circle cx="1100.65" cy="935.7" r="4.1" fill="#111" />
<circle cx="1110.8" cy="935.77" r="4.1" fill="#111" />
<circle cx="1120.95" cy="935.84" r="4.1" fill="#111" />
<circle cx="1131.1" cy="935.92" r="4.1" fill="#111" />
<line x1="939.8" y1="769.5" x2="968.5" y2="769.5" stroke="#111" stroke-width="2.4" />
<circle cx="953.5" cy="769.5" r="4.6" fill="#111" />
<text x="978" y="779.8" font-size="29" text-anchor="start" font-weight="normal" fill="#222" stroke="#222" stroke-width="0.5" textLength="169.5" lengthAdjust="spacingAndGlyphs" >3% w/v+GEN</text>
<line x1="939.8" y1="803.1" x2="968.5" y2="803.1" stroke="#ee1111" stroke-width="2.4" />
<circle cx="953.5" cy="803.1" r="4.6" fill="#ee1111" />
<text x="978" y="812.6" font-size="29" text-anchor="start" font-weight="normal" fill="#222" stroke="#222" stroke-width="0.5" textLength="92" lengthAdjust="spacingAndGlyphs" >3% w/v</text>
<text x="0" y="0" font-size="31.3" text-anchor="middle" font-weight="normal" fill="#111" transform="translate(680 1196.8) rotate(-90) scale(1.0000 0.9300)" stroke="#111" stroke-width="1.1" >Remaining Area (%)</text>
<text x="954" y="1406.7" font-size="27.3" text-anchor="middle" font-weight="bold" fill="#222" >Time (min)</text>
<line x1="725.8" y1="1342.6" x2="733" y2="1342.6" stroke="#111" stroke-width="2.4" />
<text x="723.3" y="1349.1" font-size="20" text-anchor="end" font-weight="bold" fill="#222" >0</text>
<line x1="725.8" y1="1249.7" x2="733" y2="1249.7" stroke="#111" stroke-width="2.4" />
<text x="723.3" y="1256.2" font-size="20" text-anchor="end" font-weight="bold" fill="#222" >50</text>
<line x1="725.8" y1="1156.8" x2="733" y2="1156.8" stroke="#111" stroke-width="2.4" />
<text x="723.3" y="1163.3" font-size="20" text-anchor="end" font-weight="bold" fill="#222" >100</text>
<line x1="725.8" y1="1063.9" x2="733" y2="1063.9" stroke="#111" stroke-width="2.4" />
<text x="723.3" y="1070.4" font-size="20" text-anchor="end" font-weight="bold" fill="#222" >150</text>
<line x1="747.9" y1="1342.6" x2="747.9" y2="1350.5" stroke="#111" stroke-width="2.4" />
<text x="747.9" y="1372.5" font-size="19.8" text-anchor="middle" font-weight="bold" fill="#222" >0</text>
<line x1="777.59" y1="1342.6" x2="777.59" y2="1350.5" stroke="#111" stroke-width="2.4" />
<text x="777.59" y="1372.5" font-size="19.8" text-anchor="middle" font-weight="bold" fill="#222" >5</text>
<line x1="807.28" y1="1342.6" x2="807.28" y2="1350.5" stroke="#111" stroke-width="2.4" />
<text x="807.28" y="1372.5" font-size="19.8" text-anchor="middle" font-weight="bold" fill="#222" >10</text>
<line x1="836.97" y1="1342.6" x2="836.97" y2="1350.5" stroke="#111" stroke-width="2.4" />
<text x="836.97" y="1372.5" font-size="19.8" text-anchor="middle" font-weight="bold" fill="#222" >15</text>
<line x1="866.66" y1="1342.6" x2="866.66" y2="1350.5" stroke="#111" stroke-width="2.4" />
<text x="866.66" y="1372.5" font-size="19.8" text-anchor="middle" font-weight="bold" fill="#222" >20</text>
<line x1="896.35" y1="1342.6" x2="896.35" y2="1350.5" stroke="#111" stroke-width="2.4" />
<text x="896.35" y="1372.5" font-size="19.8" text-anchor="middle" font-weight="bold" fill="#222" >25</text>
<line x1="926.04" y1="1342.6" x2="926.04" y2="1350.5" stroke="#111" stroke-width="2.4" />
<text x="926.04" y="1372.5" font-size="19.8" text-anchor="middle" font-weight="bold" fill="#222" >30</text>
<line x1="955.73" y1="1342.6" x2="955.73" y2="1350.5" stroke="#111" stroke-width="2.4" />
<text x="955.73" y="1372.5" font-size="19.8" text-anchor="middle" font-weight="bold" fill="#222" >35</text>
<line x1="985.42" y1="1342.6" x2="985.42" y2="1350.5" stroke="#111" stroke-width="2.4" />
<text x="985.42" y="1372.5" font-size="19.8" text-anchor="middle" font-weight="bold" fill="#222" >40</text>
<line x1="1015.11" y1="1342.6" x2="1015.11" y2="1350.5" stroke="#111" stroke-width="2.4" />
<text x="1015.11" y="1372.5" font-size="19.8" text-anchor="middle" font-weight="bold" fill="#222" >45</text>
<line x1="1044.8" y1="1342.6" x2="1044.8" y2="1350.5" stroke="#111" stroke-width="2.4" />
<text x="1044.8" y="1372.5" font-size="19.8" text-anchor="middle" font-weight="bold" fill="#222" >50</text>
<line x1="1074.49" y1="1342.6" x2="1074.49" y2="1350.5" stroke="#111" stroke-width="2.4" />
<text x="1074.49" y="1372.5" font-size="19.8" text-anchor="middle" font-weight="bold" fill="#222" >55</text>
<line x1="1104.18" y1="1342.6" x2="1104.18" y2="1350.5" stroke="#111" stroke-width="2.4" />
<text x="1101.18" y="1372.5" font-size="19.8" text-anchor="middle" font-weight="bold" fill="#222" >60</text>
<line x1="1133.87" y1="1342.6" x2="1133.87" y2="1350.5" stroke="#111" stroke-width="2.4" />
<text x="1136.37" y="1372.5" font-size="19.8" text-anchor="middle" font-weight="bold" fill="#222" >120</text>
<line x1="733.6" y1="1062.5" x2="733.6" y2="1344" stroke="#111" stroke-width="2.9" />
<line x1="725.8" y1="1342.6" x2="1148.7" y2="1342.6" stroke="#111" stroke-width="2.9" />
<polyline points="747.9,1156.8 777.59,1175.38 807.28,1187.83 836.97,1196.75 866.66,1181.33 896.35,1199.16 926.04,1186.9 955.73,1189.5 985.42,1181.88 1015.11,1177.24 1044.8,1178.35 1074.49,1186.16 1104.18,1197.86 1133.87,1198.42" fill="none" stroke="#111" stroke-width="2.2" stroke-linejoin="round"/>
<path d="M747.9 1151.3 l5 8.5 h-10 z" fill="#111" stroke="none" stroke-width="1" />
<path d="M777.59 1169.88 l5 8.5 h-10 z" fill="#111" stroke="none" stroke-width="1" />
<path d="M807.28 1182.33 l5 8.5 h-10 z" fill="#111" stroke="none" stroke-width="1" />
<path d="M836.97 1191.25 l5 8.5 h-10 z" fill="#111" stroke="none" stroke-width="1" />
<path d="M866.66 1175.83 l5 8.5 h-10 z" fill="#111" stroke="none" stroke-width="1" />
<path d="M896.35 1193.66 l5 8.5 h-10 z" fill="#111" stroke="none" stroke-width="1" />
<path d="M926.04 1181.4 l5 8.5 h-10 z" fill="#111" stroke="none" stroke-width="1" />
<path d="M955.73 1184 l5 8.5 h-10 z" fill="#111" stroke="none" stroke-width="1" />
<path d="M985.42 1176.38 l5 8.5 h-10 z" fill="#111" stroke="none" stroke-width="1" />
<path d="M1015.11 1171.74 l5 8.5 h-10 z" fill="#111" stroke="none" stroke-width="1" />
<path d="M1044.8 1172.85 l5 8.5 h-10 z" fill="#111" stroke="none" stroke-width="1" />
<path d="M1074.49 1180.66 l5 8.5 h-10 z" fill="#111" stroke="none" stroke-width="1" />
<path d="M1104.18 1192.36 l5 8.5 h-10 z" fill="#111" stroke="none" stroke-width="1" />
<path d="M1133.87 1192.92 l5 8.5 h-10 z" fill="#111" stroke="none" stroke-width="1" />
<polyline points="747.9,1156.8 777.59,1168.69 807.28,1166.65 836.97,1166.65 866.66,1159.4 896.35,1160.7 926.04,1164.05 955.73,1171.29 985.42,1168.69 1015.11,1166.09 1044.8,1168.69 1074.49,1171.29 1104.18,1164.79 1133.87,1182.81" fill="none" stroke="#a9a9a9" stroke-width="3" stroke-linejoin="round"/>
<circle cx="747.9" cy="1156.8" r="5" fill="#a9a9a9" />
<circle cx="777.59" cy="1168.69" r="5" fill="#a9a9a9" />
<circle cx="807.28" cy="1166.65" r="5" fill="#a9a9a9" />
<circle cx="836.97" cy="1166.65" r="5" fill="#a9a9a9" />
<circle cx="866.66" cy="1159.4" r="5" fill="#a9a9a9" />
<circle cx="896.35" cy="1160.7" r="5" fill="#a9a9a9" />
<circle cx="926.04" cy="1164.05" r="5" fill="#a9a9a9" />
<circle cx="955.73" cy="1171.29" r="5" fill="#a9a9a9" />
<circle cx="985.42" cy="1168.69" r="5" fill="#a9a9a9" />
<circle cx="1015.11" cy="1166.09" r="5" fill="#a9a9a9" />
<circle cx="1044.8" cy="1168.69" r="5" fill="#a9a9a9" />
<circle cx="1074.49" cy="1171.29" r="5" fill="#a9a9a9" />
<circle cx="1104.18" cy="1164.79" r="5" fill="#a9a9a9" />
<circle cx="1133.87" cy="1182.81" r="5" fill="#a9a9a9" />
<polyline points="747.9,1156.8 777.59,1174.27 807.28,1176.31 836.97,1211.61 866.66,1247.66 896.35,1287.79 926.04,1304.51" fill="none" stroke="#ee1111" stroke-width="3.2" stroke-linejoin="round"/>
<rect x="743.1" y="1152" width="9.6" height="9.6" fill="#ee1111" />
<rect x="772.79" y="1169.47" width="9.6" height="9.6" fill="#ee1111" />
<rect x="802.48" y="1171.51" width="9.6" height="9.6" fill="#ee1111" />
<rect x="832.17" y="1206.81" width="9.6" height="9.6" fill="#ee1111" />
<rect x="861.86" y="1242.86" width="9.6" height="9.6" fill="#ee1111" />
<rect x="891.55" y="1282.99" width="9.6" height="9.6" fill="#ee1111" />
<rect x="921.24" y="1299.71" width="9.6" height="9.6" fill="#ee1111" />
<rect x="743.1" y="1152" width="9.6" height="9.6" fill="#c07a7a" />
<line x1="760.6" y1="1073.3" x2="790.3" y2="1073.3" stroke="#a9a9a9" stroke-width="3" />
<circle cx="775.5" cy="1073.3" r="5" fill="#a9a9a9" />
<text x="803" y="1085" font-size="30" text-anchor="start" font-weight="normal" fill="#222" stroke="#222" stroke-width="0.5" >PBS</text>
<line x1="941" y1="1073" x2="972.7" y2="1073" stroke="#111" stroke-width="2.2" />
<path d="M956.6 1067.5 l5 8.5 h-10 z" fill="#111" stroke="none" stroke-width="1" />
<text x="981" y="1083" font-size="27" text-anchor="start" font-weight="normal" fill="#222" stroke="#222" stroke-width="0.5" textLength="165.5" lengthAdjust="spacingAndGlyphs" >3% v/w+GEN</text>
<line x1="941" y1="1105" x2="972.7" y2="1105" stroke="#ee1111" stroke-width="3.2" />
<rect x="952" y="1100.2" width="9.6" height="9.6" fill="#ee1111" />
<text x="981" y="1112.7" font-size="27" text-anchor="start" font-weight="normal" fill="#222" stroke="#222" stroke-width="0.5" textLength="88" lengthAdjust="spacingAndGlyphs" >3% v/w</text>
</svg>
</body></html>
